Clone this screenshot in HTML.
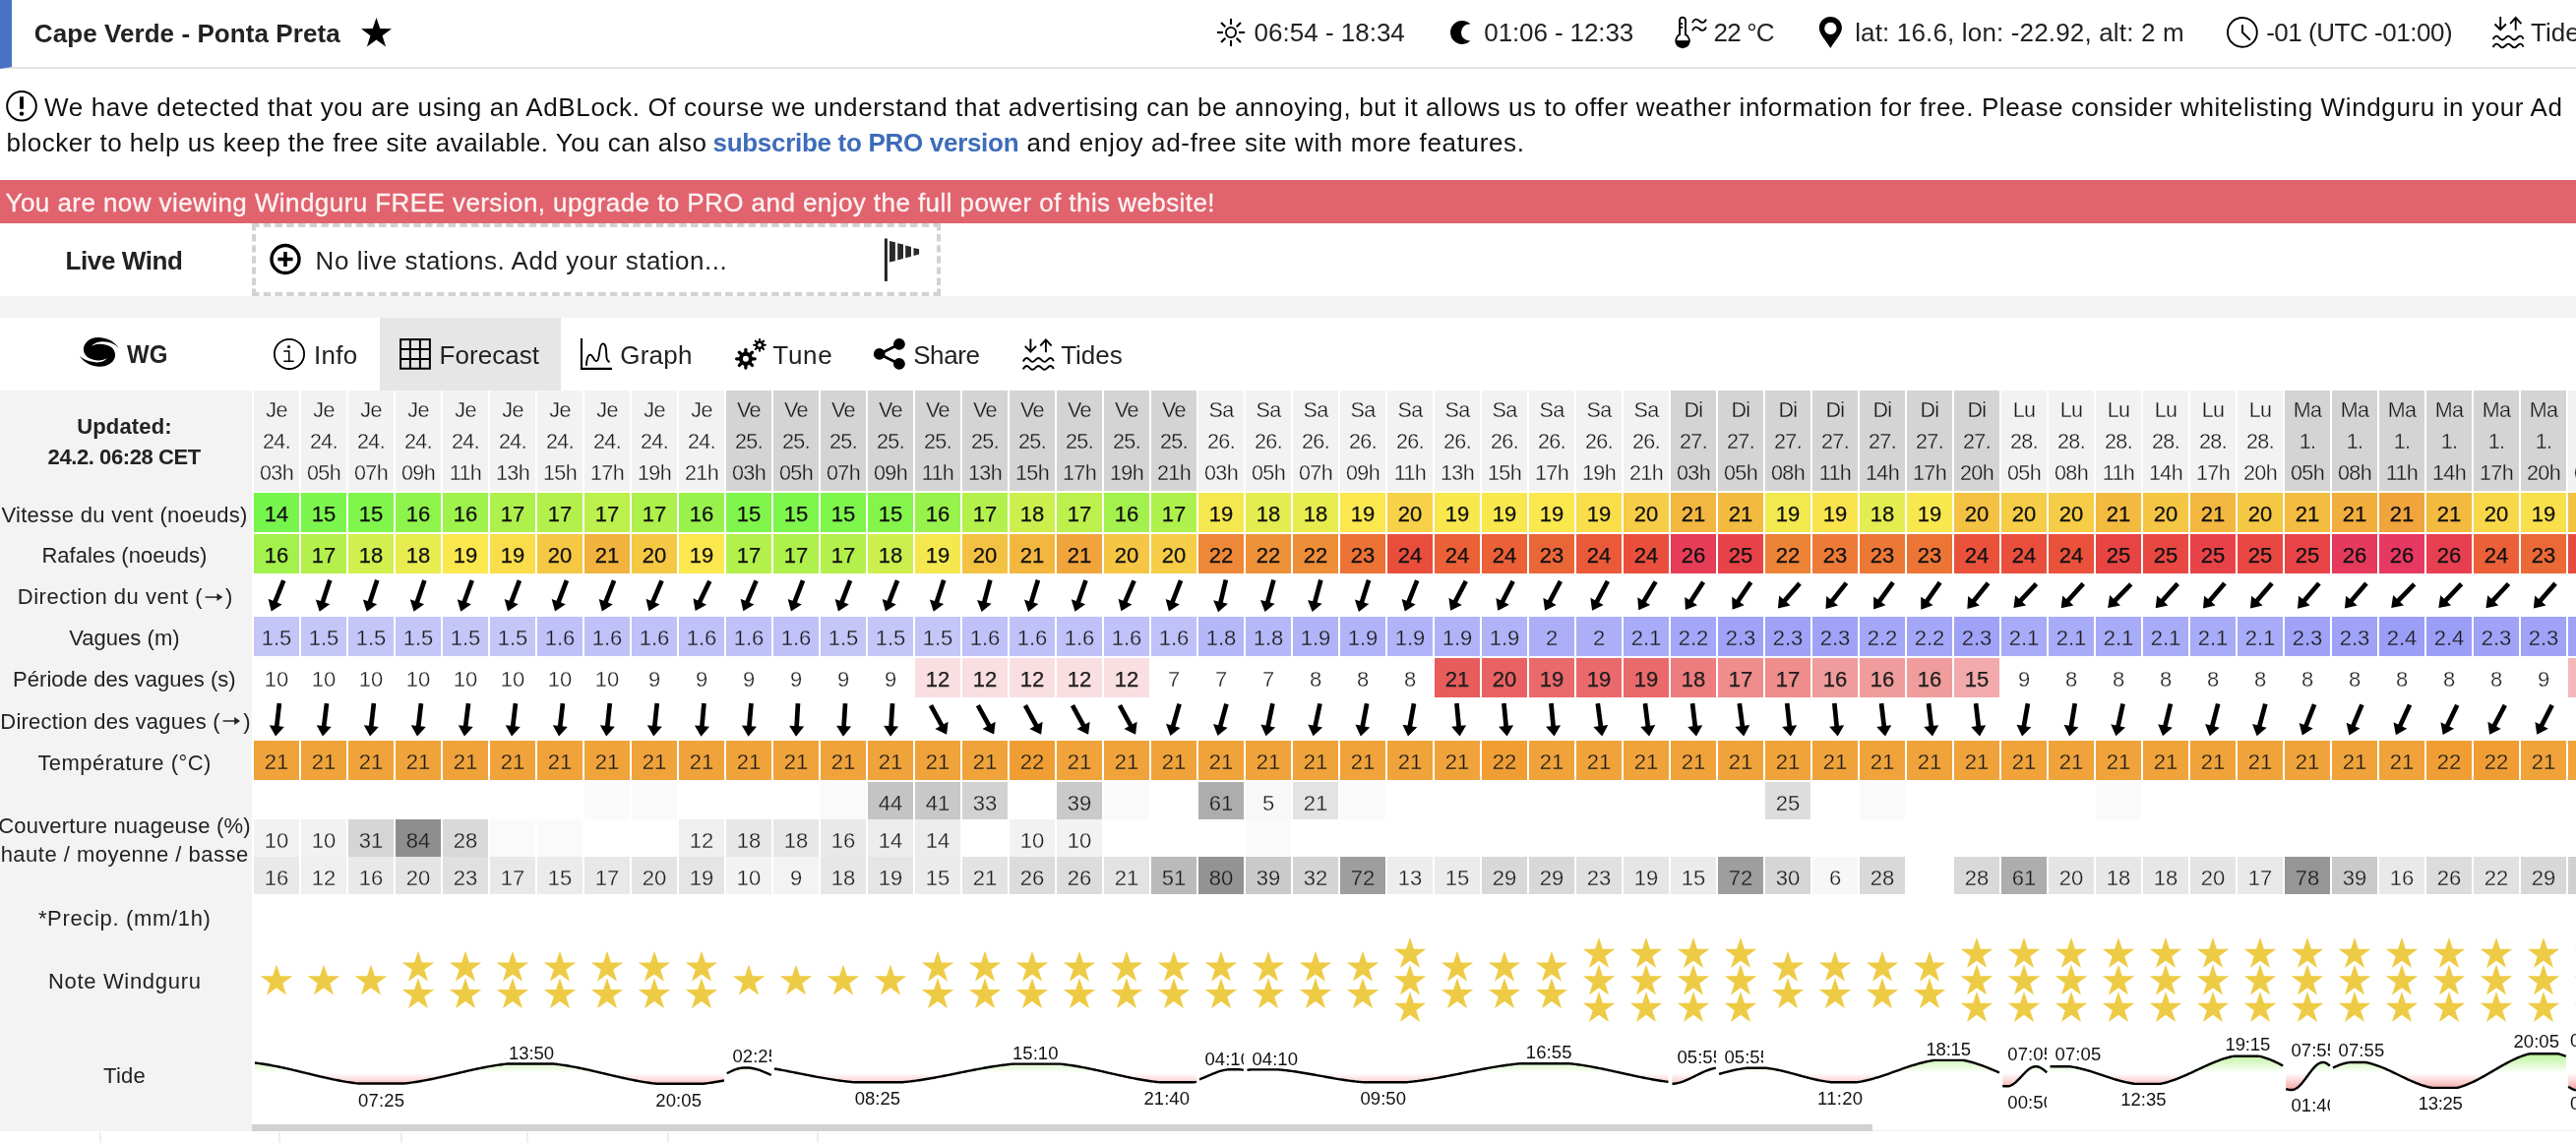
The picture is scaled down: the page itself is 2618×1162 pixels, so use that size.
<!DOCTYPE html><html><head><meta charset="utf-8"><title>Windguru - Cape Verde - Ponta Preta</title><style>
*{box-sizing:border-box;margin:0;padding:0}
html,body{width:2618px;height:1162px;overflow:hidden;background:#fff}
body{position:relative;font-family:"Liberation Sans",sans-serif;color:#222}
#w{position:absolute;left:0;top:0;width:2618px;height:1162px;overflow:hidden;will-change:transform}
.t{position:absolute;white-space:nowrap}
.b{position:absolute}
svg{position:absolute;overflow:visible}
.c{position:absolute;width:46px;text-align:center;white-space:nowrap}
</style></head><body><div id="w">
<div class="b" style="left:0px;top:0px;width:12px;height:68px;background:#4a72c4;"></div>
<div class="b" style="left:0px;top:68px;width:2618px;height:2px;background:#e3e3e3;"></div>
<svg style="left:0;top:66px" width="14" height="6"><polygon points="0,0 12,0 12,2 0,4" fill="#4a72c4"/></svg>
<div class="t" style="left:34.80px;top:21px;font-size:26px;line-height:26px;color:#222;font-weight:bold;letter-spacing:0.070px;">Cape Verde - Ponta Preta</div>
<svg style="left:0;top:0" width="2618" height="70"><polygon points="382.50,17.90 386.26,29.02 398.00,29.16 388.59,36.18 392.08,47.39 382.50,40.60 372.92,47.39 376.41,36.18 367.00,29.16 378.74,29.02" fill="#000"/></svg>
<svg style="left:0;top:0" width="2618" height="70"><circle cx="1251" cy="33" r="5.1" fill="none" stroke="#000" stroke-width="1.8"/><line x1="1259.00" y1="33.00" x2="1265.10" y2="33.00" stroke="#000" stroke-width="2.1"/><line x1="1256.66" y1="38.66" x2="1260.97" y2="42.97" stroke="#000" stroke-width="2.1"/><line x1="1251.00" y1="41.00" x2="1251.00" y2="47.10" stroke="#000" stroke-width="2.1"/><line x1="1245.34" y1="38.66" x2="1241.03" y2="42.97" stroke="#000" stroke-width="2.1"/><line x1="1243.00" y1="33.00" x2="1236.90" y2="33.00" stroke="#000" stroke-width="2.1"/><line x1="1245.34" y1="27.34" x2="1241.03" y2="23.03" stroke="#000" stroke-width="2.1"/><line x1="1251.00" y1="25.00" x2="1251.00" y2="18.90" stroke="#000" stroke-width="2.1"/><line x1="1256.66" y1="27.34" x2="1260.97" y2="23.03" stroke="#000" stroke-width="2.1"/><path d="M1494.6 24.5 A12 12 0 1 0 1494.6 41.3 A8.48 8.48 0 1 1 1494.6 24.5 Z" fill="#000"/><path d="M1707.1 35.2 V20.6 a2.95 2.95 0 0 1 5.9 0 V35.2 A6.85 6.85 0 1 1 1707.1 35.2 Z" fill="none" stroke="#000" stroke-width="1.9"/><path d="M1703.3 41.7 H1716.8 A6.85 6.85 0 0 1 1703.3 41.7 Z" fill="#000" stroke="#000" stroke-width="1"/><path d="M1708 24.1 H1710.2 M1708 27.9 H1710.2" stroke="#000" stroke-width="1.9" fill="none"/><path d="M1720.4 22.400000000000002 C1722 18.7,1724.6 19.0,1727 21.3 S1732 23.5,1733.7 20.3" stroke="#000" stroke-width="1.9" fill="none" stroke-linecap="round"/><path d="M1720.4 30.400000000000002 C1722 26.7,1724.6 27.0,1727 29.3 S1732 31.5,1733.7 28.3" stroke="#000" stroke-width="1.9" fill="none" stroke-linecap="round"/><path fill-rule="evenodd" d="M1860.35 49 C1856 41.5,1848.8 34.5,1848.8 28.5 A11.55 11.55 0 0 1 1871.9 28.5 C1871.9 34.5,1864.7 41.5,1860.35 49 Z M1860.35 22.8 a6.1 6.1 0 1 0 0.01 0 Z" fill="#000"/><circle cx="2278.9" cy="32.9" r="14.9" fill="none" stroke="#000" stroke-width="1.9"/><path d="M2279 25.3 V32.9 L2286.9 40.6" fill="none" stroke="#000" stroke-width="2" stroke-linecap="butt"/><g transform="translate(0.00 0.00)" fill="none" stroke="#000" stroke-width="1.9"><path d="M2541.2 17.1 V29.6 M2535.5 24.5 L2541.2 30.15 L2546.9 24.5"/><path d="M2556.7 18.6 V30.8 M2551.1 24.1 L2556.7 17.9 L2562.4 24.1"/><path d="M2533.6 40.05 C2535 37.349999999999994,2536.3 36.65,2537.4 36.65 C2539.6 36.65,2540.8 40.449999999999996,2543.1 40.449999999999996 S2546.9 36.65,2549.2 36.65 S2553 40.449999999999996,2555.3 40.449999999999996 S2559 36.65,2561.2 36.65 C2562.4 36.65,2563.6 37.449999999999996,2564.6 39.65"/><path d="M2533.6 48.0 C2535 45.3,2536.3 44.6,2537.4 44.6 C2539.6 44.6,2540.8 48.4,2543.1 48.4 S2546.9 44.6,2549.2 44.6 S2553 48.4,2555.3 48.4 S2559 44.6,2561.2 44.6 C2562.4 44.6,2563.6 45.4,2564.6 47.6"/></g></svg>
<div class="t" style="left:1274.60px;top:20px;font-size:26px;line-height:26px;color:#222;">06:54 - 18:34</div>
<div class="t" style="left:1508.30px;top:20px;font-size:26px;line-height:26px;color:#222;letter-spacing:-0.106px;">01:06 - 12:33</div>
<div class="t" style="left:1741.60px;top:20px;font-size:26px;line-height:26px;color:#222;letter-spacing:-0.815px;">22 °C</div>
<div class="t" style="left:1885.20px;top:20px;font-size:26px;line-height:26px;color:#222;letter-spacing:0.156px;">lat: 16.6, lon: -22.92, alt: 2 m</div>
<div class="t" style="left:2303.20px;top:20px;font-size:26px;line-height:26px;color:#222;letter-spacing:-0.471px;">-01 (UTC -01:00)</div>
<div class="t" style="left:2572.00px;top:20px;font-size:26px;line-height:26px;color:#222;">Tides</div>
<svg style="left:0;top:80px" width="60" height="60"><circle cx="22" cy="27.8" r="14.8" fill="none" stroke="#000" stroke-width="2"/><path d="M22 18.3 V30.8" stroke="#000" stroke-width="3.8" /><circle cx="22" cy="35.6" r="2.2" fill="#000"/></svg>
<div class="t" style="left:45.00px;top:96px;font-size:26px;line-height:26px;color:#111;letter-spacing:0.624px;">We have detected that you are using an AdBLock. Of course we understand that advertising can be annoying, but it allows us to offer weather information for free. Please consider whitelisting Windguru in your Ad</div>
<div class="t" style="left:6.50px;top:132px;font-size:26px;line-height:26px;color:#111;letter-spacing:0.488px;">blocker to help us keep the free site available. You can also</div>
<div class="t" style="left:724.50px;top:132px;font-size:26px;line-height:26px;color:#3d6cb9;font-weight:bold;letter-spacing:-0.298px;">subscribe to PRO version</div>
<div class="t" style="left:1043.50px;top:132px;font-size:26px;line-height:26px;color:#111;letter-spacing:0.661px;">and enjoy ad-free site with more features.</div>
<div class="b" style="left:0px;top:183px;width:2618px;height:44px;background:#e0636e;"></div>
<div class="t" style="left:5.60px;top:193px;font-size:26px;line-height:26px;color:#fdf3f3;letter-spacing:0.428px;-webkit-text-stroke:0.3px #fdf3f3;">You are now viewing Windguru FREE version, upgrade to PRO and enjoy the full power of this website!</div>
<div class="t" style="left:66.50px;top:252px;font-size:26px;line-height:26px;color:#222;font-weight:bold;letter-spacing:-0.386px;">Live Wind</div>
<svg style="left:0;top:227px" width="1000" height="74"><g stroke="#d2d2d2" stroke-width="4" fill="none"><path d="M256 2 H956 M256 72 H956" stroke-dasharray="7.5 4.237"/><path d="M258 0 V74 M954 0 V74" stroke-dasharray="7.4 3.7"/></g><circle cx="290" cy="36.5" r="14" fill="none" stroke="#000" stroke-width="3.4"/><path d="M282.4 36.5 H297.6 M290 28.9 V44.1" stroke="#000" stroke-width="3.6"/><rect x="898.9" y="15.5" width="3" height="43.4" fill="#222"/><polygon points="904,17.9 909.9,19.3 909.9,38.2 904,39.6" fill="#2a2a2a"/><polygon points="912.2,20.2 918,21.5 918,35.8 912.2,37.5" fill="#2a2a2a"/><polygon points="920.2,22.5 926,23.9 926,33.7 920.2,35.3" fill="#2a2a2a"/><polygon points="928.5,24.9 934.1,26.2 934.1,31.6 928.5,33" fill="#2a2a2a"/></svg>
<div class="t" style="left:320.60px;top:252px;font-size:26px;line-height:26px;color:#222;letter-spacing:0.538px;">No live stations. Add your station...</div>
<div class="b" style="left:0px;top:301px;width:2618px;height:22px;background:#f3f3f3;"></div>
<div class="b" style="left:386px;top:323px;width:184px;height:74px;background:#e6e6e6;"></div>
<svg style="left:0;top:0" width="1200" height="400"><g transform="translate(70 335) scale(0.046583)"><path d="M235 580 C300 690,450 800,650 810 C850 815,1020 700,1010 540 C1005 470,960 400,900 370 C800 310,620 290,490 360 C560 280,700 240,850 272 C960 295,1040 350,1090 400 C1010 290,880 180,650 170 C450 165,310 300,320 450 C325 520,370 580,440 625 C560 690,740 690,835 625 C780 710,650 740,480 700 C370 670,290 630,235 580 Z" fill="#000"/></g><circle cx="294" cy="359.9" r="15.1" fill="none" stroke="#000" stroke-width="1.8"/><circle cx="293.5" cy="352.5" r="1.6" fill="#000"/><path d="M288.3 357 H293.8 V367.3 M288.3 367.3 H298.7" fill="none" stroke="#000" stroke-width="1.5"/><rect x="407.1" y="345.1" width="29.8" height="29.6" fill="none" stroke="#000" stroke-width="2"/><path d="M416.9 345 V375 M426.9 345 V375 M407 354.9 H437 M407 364.9 H437" stroke="#000" stroke-width="2" fill="none"/><path d="M591 343.9 V374.9 H622" fill="none" stroke="#000" stroke-width="2.1"/><path d="M595.9 371.8 C596.2 366,597 360.8,599.8 360.6 C602.8 360.6,603.2 367.2,606.3 367.1 C610.2 366.8,608 349.6,612.6 349.4 C617.6 349.4,615.6 363,616.8 365 C617.4 366.6,618.4 367.6,619.6 368" fill="none" stroke="#000" stroke-width="1.9" stroke-linecap="butt"/><circle cx="757.9" cy="364.8" r="5.00" fill="none" stroke="#000" stroke-width="4.00"/><line x1="757.90" y1="358.30" x2="757.90" y2="355.50" stroke="#000" stroke-width="3.3" stroke-linecap="round"/><line x1="762.50" y1="360.20" x2="764.48" y2="358.22" stroke="#000" stroke-width="3.3" stroke-linecap="round"/><line x1="764.40" y1="364.80" x2="767.20" y2="364.80" stroke="#000" stroke-width="3.3" stroke-linecap="round"/><line x1="762.50" y1="369.40" x2="764.48" y2="371.38" stroke="#000" stroke-width="3.3" stroke-linecap="round"/><line x1="757.90" y1="371.30" x2="757.90" y2="374.10" stroke="#000" stroke-width="3.3" stroke-linecap="round"/><line x1="753.30" y1="369.40" x2="751.32" y2="371.38" stroke="#000" stroke-width="3.3" stroke-linecap="round"/><line x1="751.40" y1="364.80" x2="748.60" y2="364.80" stroke="#000" stroke-width="3.3" stroke-linecap="round"/><line x1="753.30" y1="360.20" x2="751.32" y2="358.22" stroke="#000" stroke-width="3.3" stroke-linecap="round"/><circle cx="772.0" cy="350.8" r="3.10" fill="none" stroke="#000" stroke-width="2.40"/><line x1="772.00" y1="347.00" x2="772.00" y2="344.95" stroke="#000" stroke-width="2.1" stroke-linecap="round"/><line x1="774.69" y1="348.11" x2="776.14" y2="346.66" stroke="#000" stroke-width="2.1" stroke-linecap="round"/><line x1="775.80" y1="350.80" x2="777.85" y2="350.80" stroke="#000" stroke-width="2.1" stroke-linecap="round"/><line x1="774.69" y1="353.49" x2="776.14" y2="354.94" stroke="#000" stroke-width="2.1" stroke-linecap="round"/><line x1="772.00" y1="354.60" x2="772.00" y2="356.65" stroke="#000" stroke-width="2.1" stroke-linecap="round"/><line x1="769.31" y1="353.49" x2="767.86" y2="354.94" stroke="#000" stroke-width="2.1" stroke-linecap="round"/><line x1="768.20" y1="350.80" x2="766.15" y2="350.80" stroke="#000" stroke-width="2.1" stroke-linecap="round"/><line x1="769.31" y1="348.11" x2="767.86" y2="346.66" stroke="#000" stroke-width="2.1" stroke-linecap="round"/><circle cx="893.7" cy="359.9" r="5.85" fill="#000"/><circle cx="913.9" cy="349.9" r="5.9" fill="#000"/><circle cx="913.9" cy="369.9" r="5.9" fill="#000"/><path d="M913.9 349.9 L893.7 359.9 L913.9 369.9" stroke="#000" stroke-width="2.8" fill="none"/><g transform="translate(-1493.80 327.40)" fill="none" stroke="#000" stroke-width="1.9"><path d="M2541.2 17.1 V29.6 M2535.5 24.5 L2541.2 30.15 L2546.9 24.5"/><path d="M2556.7 18.6 V30.8 M2551.1 24.1 L2556.7 17.9 L2562.4 24.1"/><path d="M2533.6 40.05 C2535 37.349999999999994,2536.3 36.65,2537.4 36.65 C2539.6 36.65,2540.8 40.449999999999996,2543.1 40.449999999999996 S2546.9 36.65,2549.2 36.65 S2553 40.449999999999996,2555.3 40.449999999999996 S2559 36.65,2561.2 36.65 C2562.4 36.65,2563.6 37.449999999999996,2564.6 39.65"/><path d="M2533.6 48.0 C2535 45.3,2536.3 44.6,2537.4 44.6 C2539.6 44.6,2540.8 48.4,2543.1 48.4 S2546.9 44.6,2549.2 44.6 S2553 48.4,2555.3 48.4 S2559 44.6,2561.2 44.6 C2562.4 44.6,2563.6 45.4,2564.6 47.6"/></g></svg>
<div class="t" style="left:128.50px;top:347px;font-size:26px;line-height:26px;color:#222;font-weight:bold;transform:scaleX(0.922);transform-origin:0 0;">WG</div>
<div class="t" style="left:318.90px;top:348px;font-size:26px;line-height:26px;color:#222;letter-spacing:0.327px;">Info</div>
<div class="t" style="left:446.60px;top:348px;font-size:26px;line-height:26px;color:#222;letter-spacing:0.037px;">Forecast</div>
<div class="t" style="left:630.30px;top:348px;font-size:26px;line-height:26px;color:#222;letter-spacing:0.205px;">Graph</div>
<div class="t" style="left:785.30px;top:348px;font-size:26px;line-height:26px;color:#222;letter-spacing:0.720px;">Tune</div>
<div class="t" style="left:928.20px;top:348px;font-size:26px;line-height:26px;color:#222;letter-spacing:-0.405px;">Share</div>
<div class="t" style="left:1078.20px;top:348px;font-size:26px;line-height:26px;color:#222;letter-spacing:-0.040px;">Tides</div>
<div class="b" style="left:0px;top:397px;width:256px;height:753px;background:#f3f3f3;"></div>
<div class="t" style="left:78.20px;top:423px;font-size:22px;line-height:22px;color:#222;font-weight:bold;letter-spacing:0.147px;">Updated:</div>
<div class="t" style="left:48.60px;top:454px;font-size:22px;line-height:22px;color:#222;font-weight:bold;letter-spacing:-0.420px;">24.2. 06:28 CET</div>
<div class="t" style="left:1.40px;top:513px;font-size:22px;line-height:22px;color:#222;letter-spacing:0.305px;">Vitesse du vent (noeuds)</div>
<div class="t" style="left:42.40px;top:554px;font-size:22px;line-height:22px;color:#222;letter-spacing:0.031px;">Rafales (noeuds)</div>
<div class="t" style="left:17.80px;top:596px;font-size:22px;line-height:22px;color:#222;letter-spacing:0.515px;">Direction du vent (</div>
<div class="t" style="left:229.00px;top:596px;font-size:22px;line-height:22px;color:#222;">)</div>
<div class="t" style="left:70.20px;top:638px;font-size:22px;line-height:22px;color:#222;letter-spacing:0.034px;">Vagues (m)</div>
<div class="t" style="left:13.10px;top:680px;font-size:22px;line-height:22px;color:#222;letter-spacing:0.016px;">Période des vagues (s)</div>
<div class="t" style="left:0.30px;top:723px;font-size:22px;line-height:22px;color:#222;letter-spacing:0.205px;">Direction des vagues (</div>
<div class="t" style="left:247.30px;top:723px;font-size:22px;line-height:22px;color:#222;">)</div>
<svg style="left:0;top:0" width="260" height="760"><path d="M208.6 607.1 H223.3" stroke="#222" stroke-width="1.5" fill="none"/><polygon points="226.3,607.1 220.5,603.2 220.5,611.0" fill="#222"/><path d="M226.6 733 H241" stroke="#222" stroke-width="1.5" fill="none"/><polygon points="244,733 238.2,729.1 238.2,736.9" fill="#222"/></svg>
<div class="t" style="left:38.40px;top:765px;font-size:22px;line-height:22px;color:#222;letter-spacing:0.469px;">Température (°C)</div>
<div class="t" style="left:-1.85px;top:829px;font-size:22px;line-height:22px;color:#222;letter-spacing:0.209px;">Couverture nuageuse (%)</div>
<div class="t" style="left:0.65px;top:858px;font-size:22px;line-height:22px;color:#222;letter-spacing:0.482px;">haute / moyenne / basse</div>
<div class="t" style="left:38.90px;top:923px;font-size:22px;line-height:22px;color:#222;letter-spacing:0.667px;">*Precip. (mm/1h)</div>
<div class="t" style="left:48.90px;top:987px;font-size:22px;line-height:22px;color:#222;letter-spacing:0.688px;">Note Windguru</div>
<div class="t" style="left:105.05px;top:1083px;font-size:22px;line-height:22px;color:#222;letter-spacing:0.227px;">Tide</div>
<div class="b" style="left:258px;top:397px;width:46px;height:102px;background:#f2f2f2"></div><div class="c" style="left:258px;top:407px;font-size:21.5px;line-height:21.5px;letter-spacing:-0.6px;color:#1a1a1a;-webkit-text-stroke:0.3px #f2f2f2">Je</div><div class="c" style="left:258px;top:439px;font-size:21.5px;line-height:21.5px;letter-spacing:-0.6px;color:#1a1a1a;-webkit-text-stroke:0.3px #f2f2f2">24.</div><div class="c" style="left:258px;top:471px;font-size:21.5px;line-height:21.5px;letter-spacing:-0.6px;color:#1a1a1a;-webkit-text-stroke:0.3px #f2f2f2">03h</div><div class="b" style="left:306px;top:397px;width:46px;height:102px;background:#f2f2f2"></div><div class="c" style="left:306px;top:407px;font-size:21.5px;line-height:21.5px;letter-spacing:-0.6px;color:#1a1a1a;-webkit-text-stroke:0.3px #f2f2f2">Je</div><div class="c" style="left:306px;top:439px;font-size:21.5px;line-height:21.5px;letter-spacing:-0.6px;color:#1a1a1a;-webkit-text-stroke:0.3px #f2f2f2">24.</div><div class="c" style="left:306px;top:471px;font-size:21.5px;line-height:21.5px;letter-spacing:-0.6px;color:#1a1a1a;-webkit-text-stroke:0.3px #f2f2f2">05h</div><div class="b" style="left:354px;top:397px;width:46px;height:102px;background:#f2f2f2"></div><div class="c" style="left:354px;top:407px;font-size:21.5px;line-height:21.5px;letter-spacing:-0.6px;color:#1a1a1a;-webkit-text-stroke:0.3px #f2f2f2">Je</div><div class="c" style="left:354px;top:439px;font-size:21.5px;line-height:21.5px;letter-spacing:-0.6px;color:#1a1a1a;-webkit-text-stroke:0.3px #f2f2f2">24.</div><div class="c" style="left:354px;top:471px;font-size:21.5px;line-height:21.5px;letter-spacing:-0.6px;color:#1a1a1a;-webkit-text-stroke:0.3px #f2f2f2">07h</div><div class="b" style="left:402px;top:397px;width:46px;height:102px;background:#f2f2f2"></div><div class="c" style="left:402px;top:407px;font-size:21.5px;line-height:21.5px;letter-spacing:-0.6px;color:#1a1a1a;-webkit-text-stroke:0.3px #f2f2f2">Je</div><div class="c" style="left:402px;top:439px;font-size:21.5px;line-height:21.5px;letter-spacing:-0.6px;color:#1a1a1a;-webkit-text-stroke:0.3px #f2f2f2">24.</div><div class="c" style="left:402px;top:471px;font-size:21.5px;line-height:21.5px;letter-spacing:-0.6px;color:#1a1a1a;-webkit-text-stroke:0.3px #f2f2f2">09h</div><div class="b" style="left:450px;top:397px;width:46px;height:102px;background:#f2f2f2"></div><div class="c" style="left:450px;top:407px;font-size:21.5px;line-height:21.5px;letter-spacing:-0.6px;color:#1a1a1a;-webkit-text-stroke:0.3px #f2f2f2">Je</div><div class="c" style="left:450px;top:439px;font-size:21.5px;line-height:21.5px;letter-spacing:-0.6px;color:#1a1a1a;-webkit-text-stroke:0.3px #f2f2f2">24.</div><div class="c" style="left:450px;top:471px;font-size:21.5px;line-height:21.5px;letter-spacing:-0.6px;color:#1a1a1a;-webkit-text-stroke:0.3px #f2f2f2">11h</div><div class="b" style="left:498px;top:397px;width:46px;height:102px;background:#f2f2f2"></div><div class="c" style="left:498px;top:407px;font-size:21.5px;line-height:21.5px;letter-spacing:-0.6px;color:#1a1a1a;-webkit-text-stroke:0.3px #f2f2f2">Je</div><div class="c" style="left:498px;top:439px;font-size:21.5px;line-height:21.5px;letter-spacing:-0.6px;color:#1a1a1a;-webkit-text-stroke:0.3px #f2f2f2">24.</div><div class="c" style="left:498px;top:471px;font-size:21.5px;line-height:21.5px;letter-spacing:-0.6px;color:#1a1a1a;-webkit-text-stroke:0.3px #f2f2f2">13h</div><div class="b" style="left:546px;top:397px;width:46px;height:102px;background:#f2f2f2"></div><div class="c" style="left:546px;top:407px;font-size:21.5px;line-height:21.5px;letter-spacing:-0.6px;color:#1a1a1a;-webkit-text-stroke:0.3px #f2f2f2">Je</div><div class="c" style="left:546px;top:439px;font-size:21.5px;line-height:21.5px;letter-spacing:-0.6px;color:#1a1a1a;-webkit-text-stroke:0.3px #f2f2f2">24.</div><div class="c" style="left:546px;top:471px;font-size:21.5px;line-height:21.5px;letter-spacing:-0.6px;color:#1a1a1a;-webkit-text-stroke:0.3px #f2f2f2">15h</div><div class="b" style="left:594px;top:397px;width:46px;height:102px;background:#f2f2f2"></div><div class="c" style="left:594px;top:407px;font-size:21.5px;line-height:21.5px;letter-spacing:-0.6px;color:#1a1a1a;-webkit-text-stroke:0.3px #f2f2f2">Je</div><div class="c" style="left:594px;top:439px;font-size:21.5px;line-height:21.5px;letter-spacing:-0.6px;color:#1a1a1a;-webkit-text-stroke:0.3px #f2f2f2">24.</div><div class="c" style="left:594px;top:471px;font-size:21.5px;line-height:21.5px;letter-spacing:-0.6px;color:#1a1a1a;-webkit-text-stroke:0.3px #f2f2f2">17h</div><div class="b" style="left:642px;top:397px;width:46px;height:102px;background:#f2f2f2"></div><div class="c" style="left:642px;top:407px;font-size:21.5px;line-height:21.5px;letter-spacing:-0.6px;color:#1a1a1a;-webkit-text-stroke:0.3px #f2f2f2">Je</div><div class="c" style="left:642px;top:439px;font-size:21.5px;line-height:21.5px;letter-spacing:-0.6px;color:#1a1a1a;-webkit-text-stroke:0.3px #f2f2f2">24.</div><div class="c" style="left:642px;top:471px;font-size:21.5px;line-height:21.5px;letter-spacing:-0.6px;color:#1a1a1a;-webkit-text-stroke:0.3px #f2f2f2">19h</div><div class="b" style="left:690px;top:397px;width:46px;height:102px;background:#f2f2f2"></div><div class="c" style="left:690px;top:407px;font-size:21.5px;line-height:21.5px;letter-spacing:-0.6px;color:#1a1a1a;-webkit-text-stroke:0.3px #f2f2f2">Je</div><div class="c" style="left:690px;top:439px;font-size:21.5px;line-height:21.5px;letter-spacing:-0.6px;color:#1a1a1a;-webkit-text-stroke:0.3px #f2f2f2">24.</div><div class="c" style="left:690px;top:471px;font-size:21.5px;line-height:21.5px;letter-spacing:-0.6px;color:#1a1a1a;-webkit-text-stroke:0.3px #f2f2f2">21h</div><div class="b" style="left:738px;top:397px;width:46px;height:102px;background:#d4d4d4"></div><div class="c" style="left:738px;top:407px;font-size:21.5px;line-height:21.5px;letter-spacing:-0.6px;color:#1a1a1a;-webkit-text-stroke:0.3px #d4d4d4">Ve</div><div class="c" style="left:738px;top:439px;font-size:21.5px;line-height:21.5px;letter-spacing:-0.6px;color:#1a1a1a;-webkit-text-stroke:0.3px #d4d4d4">25.</div><div class="c" style="left:738px;top:471px;font-size:21.5px;line-height:21.5px;letter-spacing:-0.6px;color:#1a1a1a;-webkit-text-stroke:0.3px #d4d4d4">03h</div><div class="b" style="left:786px;top:397px;width:46px;height:102px;background:#d4d4d4"></div><div class="c" style="left:786px;top:407px;font-size:21.5px;line-height:21.5px;letter-spacing:-0.6px;color:#1a1a1a;-webkit-text-stroke:0.3px #d4d4d4">Ve</div><div class="c" style="left:786px;top:439px;font-size:21.5px;line-height:21.5px;letter-spacing:-0.6px;color:#1a1a1a;-webkit-text-stroke:0.3px #d4d4d4">25.</div><div class="c" style="left:786px;top:471px;font-size:21.5px;line-height:21.5px;letter-spacing:-0.6px;color:#1a1a1a;-webkit-text-stroke:0.3px #d4d4d4">05h</div><div class="b" style="left:834px;top:397px;width:46px;height:102px;background:#d4d4d4"></div><div class="c" style="left:834px;top:407px;font-size:21.5px;line-height:21.5px;letter-spacing:-0.6px;color:#1a1a1a;-webkit-text-stroke:0.3px #d4d4d4">Ve</div><div class="c" style="left:834px;top:439px;font-size:21.5px;line-height:21.5px;letter-spacing:-0.6px;color:#1a1a1a;-webkit-text-stroke:0.3px #d4d4d4">25.</div><div class="c" style="left:834px;top:471px;font-size:21.5px;line-height:21.5px;letter-spacing:-0.6px;color:#1a1a1a;-webkit-text-stroke:0.3px #d4d4d4">07h</div><div class="b" style="left:882px;top:397px;width:46px;height:102px;background:#d4d4d4"></div><div class="c" style="left:882px;top:407px;font-size:21.5px;line-height:21.5px;letter-spacing:-0.6px;color:#1a1a1a;-webkit-text-stroke:0.3px #d4d4d4">Ve</div><div class="c" style="left:882px;top:439px;font-size:21.5px;line-height:21.5px;letter-spacing:-0.6px;color:#1a1a1a;-webkit-text-stroke:0.3px #d4d4d4">25.</div><div class="c" style="left:882px;top:471px;font-size:21.5px;line-height:21.5px;letter-spacing:-0.6px;color:#1a1a1a;-webkit-text-stroke:0.3px #d4d4d4">09h</div><div class="b" style="left:930px;top:397px;width:46px;height:102px;background:#d4d4d4"></div><div class="c" style="left:930px;top:407px;font-size:21.5px;line-height:21.5px;letter-spacing:-0.6px;color:#1a1a1a;-webkit-text-stroke:0.3px #d4d4d4">Ve</div><div class="c" style="left:930px;top:439px;font-size:21.5px;line-height:21.5px;letter-spacing:-0.6px;color:#1a1a1a;-webkit-text-stroke:0.3px #d4d4d4">25.</div><div class="c" style="left:930px;top:471px;font-size:21.5px;line-height:21.5px;letter-spacing:-0.6px;color:#1a1a1a;-webkit-text-stroke:0.3px #d4d4d4">11h</div><div class="b" style="left:978px;top:397px;width:46px;height:102px;background:#d4d4d4"></div><div class="c" style="left:978px;top:407px;font-size:21.5px;line-height:21.5px;letter-spacing:-0.6px;color:#1a1a1a;-webkit-text-stroke:0.3px #d4d4d4">Ve</div><div class="c" style="left:978px;top:439px;font-size:21.5px;line-height:21.5px;letter-spacing:-0.6px;color:#1a1a1a;-webkit-text-stroke:0.3px #d4d4d4">25.</div><div class="c" style="left:978px;top:471px;font-size:21.5px;line-height:21.5px;letter-spacing:-0.6px;color:#1a1a1a;-webkit-text-stroke:0.3px #d4d4d4">13h</div><div class="b" style="left:1026px;top:397px;width:46px;height:102px;background:#d4d4d4"></div><div class="c" style="left:1026px;top:407px;font-size:21.5px;line-height:21.5px;letter-spacing:-0.6px;color:#1a1a1a;-webkit-text-stroke:0.3px #d4d4d4">Ve</div><div class="c" style="left:1026px;top:439px;font-size:21.5px;line-height:21.5px;letter-spacing:-0.6px;color:#1a1a1a;-webkit-text-stroke:0.3px #d4d4d4">25.</div><div class="c" style="left:1026px;top:471px;font-size:21.5px;line-height:21.5px;letter-spacing:-0.6px;color:#1a1a1a;-webkit-text-stroke:0.3px #d4d4d4">15h</div><div class="b" style="left:1074px;top:397px;width:46px;height:102px;background:#d4d4d4"></div><div class="c" style="left:1074px;top:407px;font-size:21.5px;line-height:21.5px;letter-spacing:-0.6px;color:#1a1a1a;-webkit-text-stroke:0.3px #d4d4d4">Ve</div><div class="c" style="left:1074px;top:439px;font-size:21.5px;line-height:21.5px;letter-spacing:-0.6px;color:#1a1a1a;-webkit-text-stroke:0.3px #d4d4d4">25.</div><div class="c" style="left:1074px;top:471px;font-size:21.5px;line-height:21.5px;letter-spacing:-0.6px;color:#1a1a1a;-webkit-text-stroke:0.3px #d4d4d4">17h</div><div class="b" style="left:1122px;top:397px;width:46px;height:102px;background:#d4d4d4"></div><div class="c" style="left:1122px;top:407px;font-size:21.5px;line-height:21.5px;letter-spacing:-0.6px;color:#1a1a1a;-webkit-text-stroke:0.3px #d4d4d4">Ve</div><div class="c" style="left:1122px;top:439px;font-size:21.5px;line-height:21.5px;letter-spacing:-0.6px;color:#1a1a1a;-webkit-text-stroke:0.3px #d4d4d4">25.</div><div class="c" style="left:1122px;top:471px;font-size:21.5px;line-height:21.5px;letter-spacing:-0.6px;color:#1a1a1a;-webkit-text-stroke:0.3px #d4d4d4">19h</div><div class="b" style="left:1170px;top:397px;width:46px;height:102px;background:#d4d4d4"></div><div class="c" style="left:1170px;top:407px;font-size:21.5px;line-height:21.5px;letter-spacing:-0.6px;color:#1a1a1a;-webkit-text-stroke:0.3px #d4d4d4">Ve</div><div class="c" style="left:1170px;top:439px;font-size:21.5px;line-height:21.5px;letter-spacing:-0.6px;color:#1a1a1a;-webkit-text-stroke:0.3px #d4d4d4">25.</div><div class="c" style="left:1170px;top:471px;font-size:21.5px;line-height:21.5px;letter-spacing:-0.6px;color:#1a1a1a;-webkit-text-stroke:0.3px #d4d4d4">21h</div><div class="b" style="left:1218px;top:397px;width:46px;height:102px;background:#f2f2f2"></div><div class="c" style="left:1218px;top:407px;font-size:21.5px;line-height:21.5px;letter-spacing:-0.6px;color:#1a1a1a;-webkit-text-stroke:0.3px #f2f2f2">Sa</div><div class="c" style="left:1218px;top:439px;font-size:21.5px;line-height:21.5px;letter-spacing:-0.6px;color:#1a1a1a;-webkit-text-stroke:0.3px #f2f2f2">26.</div><div class="c" style="left:1218px;top:471px;font-size:21.5px;line-height:21.5px;letter-spacing:-0.6px;color:#1a1a1a;-webkit-text-stroke:0.3px #f2f2f2">03h</div><div class="b" style="left:1266px;top:397px;width:46px;height:102px;background:#f2f2f2"></div><div class="c" style="left:1266px;top:407px;font-size:21.5px;line-height:21.5px;letter-spacing:-0.6px;color:#1a1a1a;-webkit-text-stroke:0.3px #f2f2f2">Sa</div><div class="c" style="left:1266px;top:439px;font-size:21.5px;line-height:21.5px;letter-spacing:-0.6px;color:#1a1a1a;-webkit-text-stroke:0.3px #f2f2f2">26.</div><div class="c" style="left:1266px;top:471px;font-size:21.5px;line-height:21.5px;letter-spacing:-0.6px;color:#1a1a1a;-webkit-text-stroke:0.3px #f2f2f2">05h</div><div class="b" style="left:1314px;top:397px;width:46px;height:102px;background:#f2f2f2"></div><div class="c" style="left:1314px;top:407px;font-size:21.5px;line-height:21.5px;letter-spacing:-0.6px;color:#1a1a1a;-webkit-text-stroke:0.3px #f2f2f2">Sa</div><div class="c" style="left:1314px;top:439px;font-size:21.5px;line-height:21.5px;letter-spacing:-0.6px;color:#1a1a1a;-webkit-text-stroke:0.3px #f2f2f2">26.</div><div class="c" style="left:1314px;top:471px;font-size:21.5px;line-height:21.5px;letter-spacing:-0.6px;color:#1a1a1a;-webkit-text-stroke:0.3px #f2f2f2">07h</div><div class="b" style="left:1362px;top:397px;width:46px;height:102px;background:#f2f2f2"></div><div class="c" style="left:1362px;top:407px;font-size:21.5px;line-height:21.5px;letter-spacing:-0.6px;color:#1a1a1a;-webkit-text-stroke:0.3px #f2f2f2">Sa</div><div class="c" style="left:1362px;top:439px;font-size:21.5px;line-height:21.5px;letter-spacing:-0.6px;color:#1a1a1a;-webkit-text-stroke:0.3px #f2f2f2">26.</div><div class="c" style="left:1362px;top:471px;font-size:21.5px;line-height:21.5px;letter-spacing:-0.6px;color:#1a1a1a;-webkit-text-stroke:0.3px #f2f2f2">09h</div><div class="b" style="left:1410px;top:397px;width:46px;height:102px;background:#f2f2f2"></div><div class="c" style="left:1410px;top:407px;font-size:21.5px;line-height:21.5px;letter-spacing:-0.6px;color:#1a1a1a;-webkit-text-stroke:0.3px #f2f2f2">Sa</div><div class="c" style="left:1410px;top:439px;font-size:21.5px;line-height:21.5px;letter-spacing:-0.6px;color:#1a1a1a;-webkit-text-stroke:0.3px #f2f2f2">26.</div><div class="c" style="left:1410px;top:471px;font-size:21.5px;line-height:21.5px;letter-spacing:-0.6px;color:#1a1a1a;-webkit-text-stroke:0.3px #f2f2f2">11h</div><div class="b" style="left:1458px;top:397px;width:46px;height:102px;background:#f2f2f2"></div><div class="c" style="left:1458px;top:407px;font-size:21.5px;line-height:21.5px;letter-spacing:-0.6px;color:#1a1a1a;-webkit-text-stroke:0.3px #f2f2f2">Sa</div><div class="c" style="left:1458px;top:439px;font-size:21.5px;line-height:21.5px;letter-spacing:-0.6px;color:#1a1a1a;-webkit-text-stroke:0.3px #f2f2f2">26.</div><div class="c" style="left:1458px;top:471px;font-size:21.5px;line-height:21.5px;letter-spacing:-0.6px;color:#1a1a1a;-webkit-text-stroke:0.3px #f2f2f2">13h</div><div class="b" style="left:1506px;top:397px;width:46px;height:102px;background:#f2f2f2"></div><div class="c" style="left:1506px;top:407px;font-size:21.5px;line-height:21.5px;letter-spacing:-0.6px;color:#1a1a1a;-webkit-text-stroke:0.3px #f2f2f2">Sa</div><div class="c" style="left:1506px;top:439px;font-size:21.5px;line-height:21.5px;letter-spacing:-0.6px;color:#1a1a1a;-webkit-text-stroke:0.3px #f2f2f2">26.</div><div class="c" style="left:1506px;top:471px;font-size:21.5px;line-height:21.5px;letter-spacing:-0.6px;color:#1a1a1a;-webkit-text-stroke:0.3px #f2f2f2">15h</div><div class="b" style="left:1554px;top:397px;width:46px;height:102px;background:#f2f2f2"></div><div class="c" style="left:1554px;top:407px;font-size:21.5px;line-height:21.5px;letter-spacing:-0.6px;color:#1a1a1a;-webkit-text-stroke:0.3px #f2f2f2">Sa</div><div class="c" style="left:1554px;top:439px;font-size:21.5px;line-height:21.5px;letter-spacing:-0.6px;color:#1a1a1a;-webkit-text-stroke:0.3px #f2f2f2">26.</div><div class="c" style="left:1554px;top:471px;font-size:21.5px;line-height:21.5px;letter-spacing:-0.6px;color:#1a1a1a;-webkit-text-stroke:0.3px #f2f2f2">17h</div><div class="b" style="left:1602px;top:397px;width:46px;height:102px;background:#f2f2f2"></div><div class="c" style="left:1602px;top:407px;font-size:21.5px;line-height:21.5px;letter-spacing:-0.6px;color:#1a1a1a;-webkit-text-stroke:0.3px #f2f2f2">Sa</div><div class="c" style="left:1602px;top:439px;font-size:21.5px;line-height:21.5px;letter-spacing:-0.6px;color:#1a1a1a;-webkit-text-stroke:0.3px #f2f2f2">26.</div><div class="c" style="left:1602px;top:471px;font-size:21.5px;line-height:21.5px;letter-spacing:-0.6px;color:#1a1a1a;-webkit-text-stroke:0.3px #f2f2f2">19h</div><div class="b" style="left:1650px;top:397px;width:46px;height:102px;background:#f2f2f2"></div><div class="c" style="left:1650px;top:407px;font-size:21.5px;line-height:21.5px;letter-spacing:-0.6px;color:#1a1a1a;-webkit-text-stroke:0.3px #f2f2f2">Sa</div><div class="c" style="left:1650px;top:439px;font-size:21.5px;line-height:21.5px;letter-spacing:-0.6px;color:#1a1a1a;-webkit-text-stroke:0.3px #f2f2f2">26.</div><div class="c" style="left:1650px;top:471px;font-size:21.5px;line-height:21.5px;letter-spacing:-0.6px;color:#1a1a1a;-webkit-text-stroke:0.3px #f2f2f2">21h</div><div class="b" style="left:1698px;top:397px;width:46px;height:102px;background:#d4d4d4"></div><div class="c" style="left:1698px;top:407px;font-size:21.5px;line-height:21.5px;letter-spacing:-0.6px;color:#1a1a1a;-webkit-text-stroke:0.3px #d4d4d4">Di</div><div class="c" style="left:1698px;top:439px;font-size:21.5px;line-height:21.5px;letter-spacing:-0.6px;color:#1a1a1a;-webkit-text-stroke:0.3px #d4d4d4">27.</div><div class="c" style="left:1698px;top:471px;font-size:21.5px;line-height:21.5px;letter-spacing:-0.6px;color:#1a1a1a;-webkit-text-stroke:0.3px #d4d4d4">03h</div><div class="b" style="left:1746px;top:397px;width:46px;height:102px;background:#d4d4d4"></div><div class="c" style="left:1746px;top:407px;font-size:21.5px;line-height:21.5px;letter-spacing:-0.6px;color:#1a1a1a;-webkit-text-stroke:0.3px #d4d4d4">Di</div><div class="c" style="left:1746px;top:439px;font-size:21.5px;line-height:21.5px;letter-spacing:-0.6px;color:#1a1a1a;-webkit-text-stroke:0.3px #d4d4d4">27.</div><div class="c" style="left:1746px;top:471px;font-size:21.5px;line-height:21.5px;letter-spacing:-0.6px;color:#1a1a1a;-webkit-text-stroke:0.3px #d4d4d4">05h</div><div class="b" style="left:1794px;top:397px;width:46px;height:102px;background:#d4d4d4"></div><div class="c" style="left:1794px;top:407px;font-size:21.5px;line-height:21.5px;letter-spacing:-0.6px;color:#1a1a1a;-webkit-text-stroke:0.3px #d4d4d4">Di</div><div class="c" style="left:1794px;top:439px;font-size:21.5px;line-height:21.5px;letter-spacing:-0.6px;color:#1a1a1a;-webkit-text-stroke:0.3px #d4d4d4">27.</div><div class="c" style="left:1794px;top:471px;font-size:21.5px;line-height:21.5px;letter-spacing:-0.6px;color:#1a1a1a;-webkit-text-stroke:0.3px #d4d4d4">08h</div><div class="b" style="left:1842px;top:397px;width:46px;height:102px;background:#d4d4d4"></div><div class="c" style="left:1842px;top:407px;font-size:21.5px;line-height:21.5px;letter-spacing:-0.6px;color:#1a1a1a;-webkit-text-stroke:0.3px #d4d4d4">Di</div><div class="c" style="left:1842px;top:439px;font-size:21.5px;line-height:21.5px;letter-spacing:-0.6px;color:#1a1a1a;-webkit-text-stroke:0.3px #d4d4d4">27.</div><div class="c" style="left:1842px;top:471px;font-size:21.5px;line-height:21.5px;letter-spacing:-0.6px;color:#1a1a1a;-webkit-text-stroke:0.3px #d4d4d4">11h</div><div class="b" style="left:1890px;top:397px;width:46px;height:102px;background:#d4d4d4"></div><div class="c" style="left:1890px;top:407px;font-size:21.5px;line-height:21.5px;letter-spacing:-0.6px;color:#1a1a1a;-webkit-text-stroke:0.3px #d4d4d4">Di</div><div class="c" style="left:1890px;top:439px;font-size:21.5px;line-height:21.5px;letter-spacing:-0.6px;color:#1a1a1a;-webkit-text-stroke:0.3px #d4d4d4">27.</div><div class="c" style="left:1890px;top:471px;font-size:21.5px;line-height:21.5px;letter-spacing:-0.6px;color:#1a1a1a;-webkit-text-stroke:0.3px #d4d4d4">14h</div><div class="b" style="left:1938px;top:397px;width:46px;height:102px;background:#d4d4d4"></div><div class="c" style="left:1938px;top:407px;font-size:21.5px;line-height:21.5px;letter-spacing:-0.6px;color:#1a1a1a;-webkit-text-stroke:0.3px #d4d4d4">Di</div><div class="c" style="left:1938px;top:439px;font-size:21.5px;line-height:21.5px;letter-spacing:-0.6px;color:#1a1a1a;-webkit-text-stroke:0.3px #d4d4d4">27.</div><div class="c" style="left:1938px;top:471px;font-size:21.5px;line-height:21.5px;letter-spacing:-0.6px;color:#1a1a1a;-webkit-text-stroke:0.3px #d4d4d4">17h</div><div class="b" style="left:1986px;top:397px;width:46px;height:102px;background:#d4d4d4"></div><div class="c" style="left:1986px;top:407px;font-size:21.5px;line-height:21.5px;letter-spacing:-0.6px;color:#1a1a1a;-webkit-text-stroke:0.3px #d4d4d4">Di</div><div class="c" style="left:1986px;top:439px;font-size:21.5px;line-height:21.5px;letter-spacing:-0.6px;color:#1a1a1a;-webkit-text-stroke:0.3px #d4d4d4">27.</div><div class="c" style="left:1986px;top:471px;font-size:21.5px;line-height:21.5px;letter-spacing:-0.6px;color:#1a1a1a;-webkit-text-stroke:0.3px #d4d4d4">20h</div><div class="b" style="left:2034px;top:397px;width:46px;height:102px;background:#f2f2f2"></div><div class="c" style="left:2034px;top:407px;font-size:21.5px;line-height:21.5px;letter-spacing:-0.6px;color:#1a1a1a;-webkit-text-stroke:0.3px #f2f2f2">Lu</div><div class="c" style="left:2034px;top:439px;font-size:21.5px;line-height:21.5px;letter-spacing:-0.6px;color:#1a1a1a;-webkit-text-stroke:0.3px #f2f2f2">28.</div><div class="c" style="left:2034px;top:471px;font-size:21.5px;line-height:21.5px;letter-spacing:-0.6px;color:#1a1a1a;-webkit-text-stroke:0.3px #f2f2f2">05h</div><div class="b" style="left:2082px;top:397px;width:46px;height:102px;background:#f2f2f2"></div><div class="c" style="left:2082px;top:407px;font-size:21.5px;line-height:21.5px;letter-spacing:-0.6px;color:#1a1a1a;-webkit-text-stroke:0.3px #f2f2f2">Lu</div><div class="c" style="left:2082px;top:439px;font-size:21.5px;line-height:21.5px;letter-spacing:-0.6px;color:#1a1a1a;-webkit-text-stroke:0.3px #f2f2f2">28.</div><div class="c" style="left:2082px;top:471px;font-size:21.5px;line-height:21.5px;letter-spacing:-0.6px;color:#1a1a1a;-webkit-text-stroke:0.3px #f2f2f2">08h</div><div class="b" style="left:2130px;top:397px;width:46px;height:102px;background:#f2f2f2"></div><div class="c" style="left:2130px;top:407px;font-size:21.5px;line-height:21.5px;letter-spacing:-0.6px;color:#1a1a1a;-webkit-text-stroke:0.3px #f2f2f2">Lu</div><div class="c" style="left:2130px;top:439px;font-size:21.5px;line-height:21.5px;letter-spacing:-0.6px;color:#1a1a1a;-webkit-text-stroke:0.3px #f2f2f2">28.</div><div class="c" style="left:2130px;top:471px;font-size:21.5px;line-height:21.5px;letter-spacing:-0.6px;color:#1a1a1a;-webkit-text-stroke:0.3px #f2f2f2">11h</div><div class="b" style="left:2178px;top:397px;width:46px;height:102px;background:#f2f2f2"></div><div class="c" style="left:2178px;top:407px;font-size:21.5px;line-height:21.5px;letter-spacing:-0.6px;color:#1a1a1a;-webkit-text-stroke:0.3px #f2f2f2">Lu</div><div class="c" style="left:2178px;top:439px;font-size:21.5px;line-height:21.5px;letter-spacing:-0.6px;color:#1a1a1a;-webkit-text-stroke:0.3px #f2f2f2">28.</div><div class="c" style="left:2178px;top:471px;font-size:21.5px;line-height:21.5px;letter-spacing:-0.6px;color:#1a1a1a;-webkit-text-stroke:0.3px #f2f2f2">14h</div><div class="b" style="left:2226px;top:397px;width:46px;height:102px;background:#f2f2f2"></div><div class="c" style="left:2226px;top:407px;font-size:21.5px;line-height:21.5px;letter-spacing:-0.6px;color:#1a1a1a;-webkit-text-stroke:0.3px #f2f2f2">Lu</div><div class="c" style="left:2226px;top:439px;font-size:21.5px;line-height:21.5px;letter-spacing:-0.6px;color:#1a1a1a;-webkit-text-stroke:0.3px #f2f2f2">28.</div><div class="c" style="left:2226px;top:471px;font-size:21.5px;line-height:21.5px;letter-spacing:-0.6px;color:#1a1a1a;-webkit-text-stroke:0.3px #f2f2f2">17h</div><div class="b" style="left:2274px;top:397px;width:46px;height:102px;background:#f2f2f2"></div><div class="c" style="left:2274px;top:407px;font-size:21.5px;line-height:21.5px;letter-spacing:-0.6px;color:#1a1a1a;-webkit-text-stroke:0.3px #f2f2f2">Lu</div><div class="c" style="left:2274px;top:439px;font-size:21.5px;line-height:21.5px;letter-spacing:-0.6px;color:#1a1a1a;-webkit-text-stroke:0.3px #f2f2f2">28.</div><div class="c" style="left:2274px;top:471px;font-size:21.5px;line-height:21.5px;letter-spacing:-0.6px;color:#1a1a1a;-webkit-text-stroke:0.3px #f2f2f2">20h</div><div class="b" style="left:2322px;top:397px;width:46px;height:102px;background:#d4d4d4"></div><div class="c" style="left:2322px;top:407px;font-size:21.5px;line-height:21.5px;letter-spacing:-0.6px;color:#1a1a1a;-webkit-text-stroke:0.3px #d4d4d4">Ma</div><div class="c" style="left:2322px;top:439px;font-size:21.5px;line-height:21.5px;letter-spacing:-0.6px;color:#1a1a1a;-webkit-text-stroke:0.3px #d4d4d4">1.</div><div class="c" style="left:2322px;top:471px;font-size:21.5px;line-height:21.5px;letter-spacing:-0.6px;color:#1a1a1a;-webkit-text-stroke:0.3px #d4d4d4">05h</div><div class="b" style="left:2370px;top:397px;width:46px;height:102px;background:#d4d4d4"></div><div class="c" style="left:2370px;top:407px;font-size:21.5px;line-height:21.5px;letter-spacing:-0.6px;color:#1a1a1a;-webkit-text-stroke:0.3px #d4d4d4">Ma</div><div class="c" style="left:2370px;top:439px;font-size:21.5px;line-height:21.5px;letter-spacing:-0.6px;color:#1a1a1a;-webkit-text-stroke:0.3px #d4d4d4">1.</div><div class="c" style="left:2370px;top:471px;font-size:21.5px;line-height:21.5px;letter-spacing:-0.6px;color:#1a1a1a;-webkit-text-stroke:0.3px #d4d4d4">08h</div><div class="b" style="left:2418px;top:397px;width:46px;height:102px;background:#d4d4d4"></div><div class="c" style="left:2418px;top:407px;font-size:21.5px;line-height:21.5px;letter-spacing:-0.6px;color:#1a1a1a;-webkit-text-stroke:0.3px #d4d4d4">Ma</div><div class="c" style="left:2418px;top:439px;font-size:21.5px;line-height:21.5px;letter-spacing:-0.6px;color:#1a1a1a;-webkit-text-stroke:0.3px #d4d4d4">1.</div><div class="c" style="left:2418px;top:471px;font-size:21.5px;line-height:21.5px;letter-spacing:-0.6px;color:#1a1a1a;-webkit-text-stroke:0.3px #d4d4d4">11h</div><div class="b" style="left:2466px;top:397px;width:46px;height:102px;background:#d4d4d4"></div><div class="c" style="left:2466px;top:407px;font-size:21.5px;line-height:21.5px;letter-spacing:-0.6px;color:#1a1a1a;-webkit-text-stroke:0.3px #d4d4d4">Ma</div><div class="c" style="left:2466px;top:439px;font-size:21.5px;line-height:21.5px;letter-spacing:-0.6px;color:#1a1a1a;-webkit-text-stroke:0.3px #d4d4d4">1.</div><div class="c" style="left:2466px;top:471px;font-size:21.5px;line-height:21.5px;letter-spacing:-0.6px;color:#1a1a1a;-webkit-text-stroke:0.3px #d4d4d4">14h</div><div class="b" style="left:2514px;top:397px;width:46px;height:102px;background:#d4d4d4"></div><div class="c" style="left:2514px;top:407px;font-size:21.5px;line-height:21.5px;letter-spacing:-0.6px;color:#1a1a1a;-webkit-text-stroke:0.3px #d4d4d4">Ma</div><div class="c" style="left:2514px;top:439px;font-size:21.5px;line-height:21.5px;letter-spacing:-0.6px;color:#1a1a1a;-webkit-text-stroke:0.3px #d4d4d4">1.</div><div class="c" style="left:2514px;top:471px;font-size:21.5px;line-height:21.5px;letter-spacing:-0.6px;color:#1a1a1a;-webkit-text-stroke:0.3px #d4d4d4">17h</div><div class="b" style="left:2562px;top:397px;width:46px;height:102px;background:#d4d4d4"></div><div class="c" style="left:2562px;top:407px;font-size:21.5px;line-height:21.5px;letter-spacing:-0.6px;color:#1a1a1a;-webkit-text-stroke:0.3px #d4d4d4">Ma</div><div class="c" style="left:2562px;top:439px;font-size:21.5px;line-height:21.5px;letter-spacing:-0.6px;color:#1a1a1a;-webkit-text-stroke:0.3px #d4d4d4">1.</div><div class="c" style="left:2562px;top:471px;font-size:21.5px;line-height:21.5px;letter-spacing:-0.6px;color:#1a1a1a;-webkit-text-stroke:0.3px #d4d4d4">20h</div><div class="b" style="left:2610px;top:397px;width:46px;height:102px;background:#f2f2f2"></div><div class="c" style="left:2610px;top:407px;font-size:21.5px;line-height:21.5px;letter-spacing:-0.6px;color:#1a1a1a;-webkit-text-stroke:0.3px #f2f2f2">Me</div><div class="c" style="left:2610px;top:439px;font-size:21.5px;line-height:21.5px;letter-spacing:-0.6px;color:#1a1a1a;-webkit-text-stroke:0.3px #f2f2f2">2.</div><div class="c" style="left:2610px;top:471px;font-size:21.5px;line-height:21.5px;letter-spacing:-0.6px;color:#1a1a1a;-webkit-text-stroke:0.3px #f2f2f2">05h</div>
<div class="b" style="left:258px;top:501px;width:46px;height:40px;background:rgb(118,246,76)"></div><div class="c" style="left:258px;top:512px;font-size:22px;line-height:22px;color:#111;-webkit-text-stroke:0.25px #111;">14</div><div class="b" style="left:306px;top:501px;width:46px;height:40px;background:rgb(124,246,76)"></div><div class="c" style="left:306px;top:512px;font-size:22px;line-height:22px;color:#111;-webkit-text-stroke:0.25px #111;">15</div><div class="b" style="left:354px;top:501px;width:46px;height:40px;background:rgb(128,246,76)"></div><div class="c" style="left:354px;top:512px;font-size:22px;line-height:22px;color:#111;-webkit-text-stroke:0.25px #111;">15</div><div class="b" style="left:402px;top:501px;width:46px;height:40px;background:rgb(142,244,76)"></div><div class="c" style="left:402px;top:512px;font-size:22px;line-height:22px;color:#111;-webkit-text-stroke:0.25px #111;">16</div><div class="b" style="left:450px;top:501px;width:46px;height:40px;background:rgb(158,242,76)"></div><div class="c" style="left:450px;top:512px;font-size:22px;line-height:22px;color:#111;-webkit-text-stroke:0.25px #111;">16</div><div class="b" style="left:498px;top:501px;width:46px;height:40px;background:rgb(174,240,76)"></div><div class="c" style="left:498px;top:512px;font-size:22px;line-height:22px;color:#111;-webkit-text-stroke:0.25px #111;">17</div><div class="b" style="left:546px;top:501px;width:46px;height:40px;background:rgb(180,240,76)"></div><div class="c" style="left:546px;top:512px;font-size:22px;line-height:22px;color:#111;-webkit-text-stroke:0.25px #111;">17</div><div class="b" style="left:594px;top:501px;width:46px;height:40px;background:rgb(188,240,77)"></div><div class="c" style="left:594px;top:512px;font-size:22px;line-height:22px;color:#111;-webkit-text-stroke:0.25px #111;">17</div><div class="b" style="left:642px;top:501px;width:46px;height:40px;background:rgb(174,240,76)"></div><div class="c" style="left:642px;top:512px;font-size:22px;line-height:22px;color:#111;-webkit-text-stroke:0.25px #111;">17</div><div class="b" style="left:690px;top:501px;width:46px;height:40px;background:rgb(152,242,76)"></div><div class="c" style="left:690px;top:512px;font-size:22px;line-height:22px;color:#111;-webkit-text-stroke:0.25px #111;">16</div><div class="b" style="left:738px;top:501px;width:46px;height:40px;background:rgb(128,246,76)"></div><div class="c" style="left:738px;top:512px;font-size:22px;line-height:22px;color:#111;-webkit-text-stroke:0.25px #111;">15</div><div class="b" style="left:786px;top:501px;width:46px;height:40px;background:rgb(126,246,76)"></div><div class="c" style="left:786px;top:512px;font-size:22px;line-height:22px;color:#111;-webkit-text-stroke:0.25px #111;">15</div><div class="b" style="left:834px;top:501px;width:46px;height:40px;background:rgb(126,246,76)"></div><div class="c" style="left:834px;top:512px;font-size:22px;line-height:22px;color:#111;-webkit-text-stroke:0.25px #111;">15</div><div class="b" style="left:882px;top:501px;width:46px;height:40px;background:rgb(133,245,76)"></div><div class="c" style="left:882px;top:512px;font-size:22px;line-height:22px;color:#111;-webkit-text-stroke:0.25px #111;">15</div><div class="b" style="left:930px;top:501px;width:46px;height:40px;background:rgb(152,242,76)"></div><div class="c" style="left:930px;top:512px;font-size:22px;line-height:22px;color:#111;-webkit-text-stroke:0.25px #111;">16</div><div class="b" style="left:978px;top:501px;width:46px;height:40px;background:rgb(180,240,76)"></div><div class="c" style="left:978px;top:512px;font-size:22px;line-height:22px;color:#111;-webkit-text-stroke:0.25px #111;">17</div><div class="b" style="left:1026px;top:501px;width:46px;height:40px;background:rgb(205,239,78)"></div><div class="c" style="left:1026px;top:512px;font-size:22px;line-height:22px;color:#111;-webkit-text-stroke:0.25px #111;">18</div><div class="b" style="left:1074px;top:501px;width:46px;height:40px;background:rgb(188,240,77)"></div><div class="c" style="left:1074px;top:512px;font-size:22px;line-height:22px;color:#111;-webkit-text-stroke:0.25px #111;">17</div><div class="b" style="left:1122px;top:501px;width:46px;height:40px;background:rgb(163,241,76)"></div><div class="c" style="left:1122px;top:512px;font-size:22px;line-height:22px;color:#111;-webkit-text-stroke:0.25px #111;">16</div><div class="b" style="left:1170px;top:501px;width:46px;height:40px;background:rgb(174,240,76)"></div><div class="c" style="left:1170px;top:512px;font-size:22px;line-height:22px;color:#111;-webkit-text-stroke:0.25px #111;">17</div><div class="b" style="left:1218px;top:501px;width:46px;height:40px;background:rgb(245,232,78)"></div><div class="c" style="left:1218px;top:512px;font-size:22px;line-height:22px;color:#111;-webkit-text-stroke:0.25px #111;">19</div><div class="b" style="left:1266px;top:501px;width:46px;height:40px;background:rgb(228,237,80)"></div><div class="c" style="left:1266px;top:512px;font-size:22px;line-height:22px;color:#111;-webkit-text-stroke:0.25px #111;">18</div><div class="b" style="left:1314px;top:501px;width:46px;height:40px;background:rgb(231,236,79)"></div><div class="c" style="left:1314px;top:512px;font-size:22px;line-height:22px;color:#111;-webkit-text-stroke:0.25px #111;">18</div><div class="b" style="left:1362px;top:501px;width:46px;height:40px;background:rgb(251,231,78)"></div><div class="c" style="left:1362px;top:512px;font-size:22px;line-height:22px;color:#111;-webkit-text-stroke:0.25px #111;">19</div><div class="b" style="left:1410px;top:501px;width:46px;height:40px;background:rgb(247,210,72)"></div><div class="c" style="left:1410px;top:512px;font-size:22px;line-height:22px;color:#111;-webkit-text-stroke:0.25px #111;">20</div><div class="b" style="left:1458px;top:501px;width:46px;height:40px;background:rgb(248,232,78)"></div><div class="c" style="left:1458px;top:512px;font-size:22px;line-height:22px;color:#111;-webkit-text-stroke:0.25px #111;">19</div><div class="b" style="left:1506px;top:501px;width:46px;height:40px;background:rgb(248,232,78)"></div><div class="c" style="left:1506px;top:512px;font-size:22px;line-height:22px;color:#111;-webkit-text-stroke:0.25px #111;">19</div><div class="b" style="left:1554px;top:501px;width:46px;height:40px;background:rgb(251,231,78)"></div><div class="c" style="left:1554px;top:512px;font-size:22px;line-height:22px;color:#111;-webkit-text-stroke:0.25px #111;">19</div><div class="b" style="left:1602px;top:501px;width:46px;height:40px;background:rgb(249,221,75)"></div><div class="c" style="left:1602px;top:512px;font-size:22px;line-height:22px;color:#111;-webkit-text-stroke:0.25px #111;">19</div><div class="b" style="left:1650px;top:501px;width:46px;height:40px;background:rgb(246,205,70)"></div><div class="c" style="left:1650px;top:512px;font-size:22px;line-height:22px;color:#111;-webkit-text-stroke:0.25px #111;">20</div><div class="b" style="left:1698px;top:501px;width:46px;height:40px;background:rgb(243,183,64)"></div><div class="c" style="left:1698px;top:512px;font-size:22px;line-height:22px;color:#111;-webkit-text-stroke:0.25px #111;">21</div><div class="b" style="left:1746px;top:501px;width:46px;height:40px;background:rgb(243,186,64)"></div><div class="c" style="left:1746px;top:512px;font-size:22px;line-height:22px;color:#111;-webkit-text-stroke:0.25px #111;">21</div><div class="b" style="left:1794px;top:501px;width:46px;height:40px;background:rgb(242,233,79)"></div><div class="c" style="left:1794px;top:512px;font-size:22px;line-height:22px;color:#111;-webkit-text-stroke:0.25px #111;">19</div><div class="b" style="left:1842px;top:501px;width:46px;height:40px;background:rgb(250,228,77)"></div><div class="c" style="left:1842px;top:512px;font-size:22px;line-height:22px;color:#111;-webkit-text-stroke:0.25px #111;">19</div><div class="b" style="left:1890px;top:501px;width:46px;height:40px;background:rgb(228,237,80)"></div><div class="c" style="left:1890px;top:512px;font-size:22px;line-height:22px;color:#111;-webkit-text-stroke:0.25px #111;">18</div><div class="b" style="left:1938px;top:501px;width:46px;height:40px;background:rgb(248,232,78)"></div><div class="c" style="left:1938px;top:512px;font-size:22px;line-height:22px;color:#111;-webkit-text-stroke:0.25px #111;">19</div><div class="b" style="left:1986px;top:501px;width:46px;height:40px;background:rgb(244,194,67)"></div><div class="c" style="left:1986px;top:512px;font-size:22px;line-height:22px;color:#111;-webkit-text-stroke:0.25px #111;">20</div><div class="b" style="left:2034px;top:501px;width:46px;height:40px;background:rgb(246,205,70)"></div><div class="c" style="left:2034px;top:512px;font-size:22px;line-height:22px;color:#111;-webkit-text-stroke:0.25px #111;">20</div><div class="b" style="left:2082px;top:501px;width:46px;height:40px;background:rgb(246,205,70)"></div><div class="c" style="left:2082px;top:512px;font-size:22px;line-height:22px;color:#111;-webkit-text-stroke:0.25px #111;">20</div><div class="b" style="left:2130px;top:501px;width:46px;height:40px;background:rgb(243,186,64)"></div><div class="c" style="left:2130px;top:512px;font-size:22px;line-height:22px;color:#111;-webkit-text-stroke:0.25px #111;">21</div><div class="b" style="left:2178px;top:501px;width:46px;height:40px;background:rgb(245,197,68)"></div><div class="c" style="left:2178px;top:512px;font-size:22px;line-height:22px;color:#111;-webkit-text-stroke:0.25px #111;">20</div><div class="b" style="left:2226px;top:501px;width:46px;height:40px;background:rgb(243,183,64)"></div><div class="c" style="left:2226px;top:512px;font-size:22px;line-height:22px;color:#111;-webkit-text-stroke:0.25px #111;">21</div><div class="b" style="left:2274px;top:501px;width:46px;height:40px;background:rgb(245,200,68)"></div><div class="c" style="left:2274px;top:512px;font-size:22px;line-height:22px;color:#111;-webkit-text-stroke:0.25px #111;">20</div><div class="b" style="left:2322px;top:501px;width:46px;height:40px;background:rgb(244,189,65)"></div><div class="c" style="left:2322px;top:512px;font-size:22px;line-height:22px;color:#111;-webkit-text-stroke:0.25px #111;">21</div><div class="b" style="left:2370px;top:501px;width:46px;height:40px;background:rgb(242,174,61)"></div><div class="c" style="left:2370px;top:512px;font-size:22px;line-height:22px;color:#111;-webkit-text-stroke:0.25px #111;">21</div><div class="b" style="left:2418px;top:501px;width:46px;height:40px;background:rgb(240,164,60)"></div><div class="c" style="left:2418px;top:512px;font-size:22px;line-height:22px;color:#111;-webkit-text-stroke:0.25px #111;">21</div><div class="b" style="left:2466px;top:501px;width:46px;height:40px;background:rgb(243,186,64)"></div><div class="c" style="left:2466px;top:512px;font-size:22px;line-height:22px;color:#111;-webkit-text-stroke:0.25px #111;">21</div><div class="b" style="left:2514px;top:501px;width:46px;height:40px;background:rgb(248,215,73)"></div><div class="c" style="left:2514px;top:512px;font-size:22px;line-height:22px;color:#111;-webkit-text-stroke:0.25px #111;">20</div><div class="b" style="left:2562px;top:501px;width:46px;height:40px;background:rgb(250,223,76)"></div><div class="c" style="left:2562px;top:512px;font-size:22px;line-height:22px;color:#111;-webkit-text-stroke:0.25px #111;">19</div><div class="b" style="left:2610px;top:501px;width:46px;height:40px;background:rgb(244,194,67)"></div><div class="c" style="left:2610px;top:512px;font-size:22px;line-height:22px;color:#111;-webkit-text-stroke:0.25px #111;">20</div>
<div class="b" style="left:258px;top:543px;width:46px;height:40px;background:rgb(163,241,76)"></div><div class="c" style="left:258px;top:554px;font-size:22px;line-height:22px;color:#111;-webkit-text-stroke:0.25px #111;">16</div><div class="b" style="left:306px;top:543px;width:46px;height:40px;background:rgb(180,240,76)"></div><div class="c" style="left:306px;top:554px;font-size:22px;line-height:22px;color:#111;-webkit-text-stroke:0.25px #111;">17</div><div class="b" style="left:354px;top:543px;width:46px;height:40px;background:rgb(209,239,79)"></div><div class="c" style="left:354px;top:554px;font-size:22px;line-height:22px;color:#111;-webkit-text-stroke:0.25px #111;">18</div><div class="b" style="left:402px;top:543px;width:46px;height:40px;background:rgb(231,236,79)"></div><div class="c" style="left:402px;top:554px;font-size:22px;line-height:22px;color:#111;-webkit-text-stroke:0.25px #111;">18</div><div class="b" style="left:450px;top:543px;width:46px;height:40px;background:rgb(251,231,78)"></div><div class="c" style="left:450px;top:554px;font-size:22px;line-height:22px;color:#111;-webkit-text-stroke:0.25px #111;">19</div><div class="b" style="left:498px;top:543px;width:46px;height:40px;background:rgb(249,221,75)"></div><div class="c" style="left:498px;top:554px;font-size:22px;line-height:22px;color:#111;-webkit-text-stroke:0.25px #111;">19</div><div class="b" style="left:546px;top:543px;width:46px;height:40px;background:rgb(245,200,68)"></div><div class="c" style="left:546px;top:554px;font-size:22px;line-height:22px;color:#111;-webkit-text-stroke:0.25px #111;">20</div><div class="b" style="left:594px;top:543px;width:46px;height:40px;background:rgb(242,178,62)"></div><div class="c" style="left:594px;top:554px;font-size:22px;line-height:22px;color:#111;-webkit-text-stroke:0.25px #111;">21</div><div class="b" style="left:642px;top:543px;width:46px;height:40px;background:rgb(245,200,68)"></div><div class="c" style="left:642px;top:554px;font-size:22px;line-height:22px;color:#111;-webkit-text-stroke:0.25px #111;">20</div><div class="b" style="left:690px;top:543px;width:46px;height:40px;background:rgb(251,231,78)"></div><div class="c" style="left:690px;top:554px;font-size:22px;line-height:22px;color:#111;-webkit-text-stroke:0.25px #111;">19</div><div class="b" style="left:738px;top:543px;width:46px;height:40px;background:rgb(180,240,76)"></div><div class="c" style="left:738px;top:554px;font-size:22px;line-height:22px;color:#111;-webkit-text-stroke:0.25px #111;">17</div><div class="b" style="left:786px;top:543px;width:46px;height:40px;background:rgb(174,240,76)"></div><div class="c" style="left:786px;top:554px;font-size:22px;line-height:22px;color:#111;-webkit-text-stroke:0.25px #111;">17</div><div class="b" style="left:834px;top:543px;width:46px;height:40px;background:rgb(180,240,76)"></div><div class="c" style="left:834px;top:554px;font-size:22px;line-height:22px;color:#111;-webkit-text-stroke:0.25px #111;">17</div><div class="b" style="left:882px;top:543px;width:46px;height:40px;background:rgb(205,239,78)"></div><div class="c" style="left:882px;top:554px;font-size:22px;line-height:22px;color:#111;-webkit-text-stroke:0.25px #111;">18</div><div class="b" style="left:930px;top:543px;width:46px;height:40px;background:rgb(245,232,78)"></div><div class="c" style="left:930px;top:554px;font-size:22px;line-height:22px;color:#111;-webkit-text-stroke:0.25px #111;">19</div><div class="b" style="left:978px;top:543px;width:46px;height:40px;background:rgb(244,194,67)"></div><div class="c" style="left:978px;top:554px;font-size:22px;line-height:22px;color:#111;-webkit-text-stroke:0.25px #111;">20</div><div class="b" style="left:1026px;top:543px;width:46px;height:40px;background:rgb(243,183,64)"></div><div class="c" style="left:1026px;top:554px;font-size:22px;line-height:22px;color:#111;-webkit-text-stroke:0.25px #111;">21</div><div class="b" style="left:1074px;top:543px;width:46px;height:40px;background:rgb(240,164,60)"></div><div class="c" style="left:1074px;top:554px;font-size:22px;line-height:22px;color:#111;-webkit-text-stroke:0.25px #111;">21</div><div class="b" style="left:1122px;top:543px;width:46px;height:40px;background:rgb(245,197,68)"></div><div class="c" style="left:1122px;top:554px;font-size:22px;line-height:22px;color:#111;-webkit-text-stroke:0.25px #111;">20</div><div class="b" style="left:1170px;top:543px;width:46px;height:40px;background:rgb(246,205,70)"></div><div class="c" style="left:1170px;top:554px;font-size:22px;line-height:22px;color:#111;-webkit-text-stroke:0.25px #111;">20</div><div class="b" style="left:1218px;top:543px;width:46px;height:40px;background:rgb(238,136,56)"></div><div class="c" style="left:1218px;top:554px;font-size:22px;line-height:22px;color:#111;-webkit-text-stroke:0.25px #111;">22</div><div class="b" style="left:1266px;top:543px;width:46px;height:40px;background:rgb(238,146,57)"></div><div class="c" style="left:1266px;top:554px;font-size:22px;line-height:22px;color:#111;-webkit-text-stroke:0.25px #111;">22</div><div class="b" style="left:1314px;top:543px;width:46px;height:40px;background:rgb(238,142,56)"></div><div class="c" style="left:1314px;top:554px;font-size:22px;line-height:22px;color:#111;-webkit-text-stroke:0.25px #111;">22</div><div class="b" style="left:1362px;top:543px;width:46px;height:40px;background:rgb(236,114,54)"></div><div class="c" style="left:1362px;top:554px;font-size:22px;line-height:22px;color:#111;-webkit-text-stroke:0.25px #111;">23</div><div class="b" style="left:1410px;top:543px;width:46px;height:40px;background:rgb(233,78,61)"></div><div class="c" style="left:1410px;top:554px;font-size:22px;line-height:22px;color:#111;-webkit-text-stroke:0.25px #111;">24</div><div class="b" style="left:1458px;top:543px;width:46px;height:40px;background:rgb(235,96,55)"></div><div class="c" style="left:1458px;top:554px;font-size:22px;line-height:22px;color:#111;-webkit-text-stroke:0.25px #111;">24</div><div class="b" style="left:1506px;top:543px;width:46px;height:40px;background:rgb(235,96,55)"></div><div class="c" style="left:1506px;top:554px;font-size:22px;line-height:22px;color:#111;-webkit-text-stroke:0.25px #111;">24</div><div class="b" style="left:1554px;top:543px;width:46px;height:40px;background:rgb(235,102,55)"></div><div class="c" style="left:1554px;top:554px;font-size:22px;line-height:22px;color:#111;-webkit-text-stroke:0.25px #111;">23</div><div class="b" style="left:1602px;top:543px;width:46px;height:40px;background:rgb(234,90,56)"></div><div class="c" style="left:1602px;top:554px;font-size:22px;line-height:22px;color:#111;-webkit-text-stroke:0.25px #111;">24</div><div class="b" style="left:1650px;top:543px;width:46px;height:40px;background:rgb(233,79,60)"></div><div class="c" style="left:1650px;top:554px;font-size:22px;line-height:22px;color:#111;-webkit-text-stroke:0.25px #111;">24</div><div class="b" style="left:1698px;top:543px;width:46px;height:40px;background:rgb(230,60,87)"></div><div class="c" style="left:1698px;top:554px;font-size:22px;line-height:22px;color:#111;-webkit-text-stroke:0.25px #111;">26</div><div class="b" style="left:1746px;top:543px;width:46px;height:40px;background:rgb(232,66,73)"></div><div class="c" style="left:1746px;top:554px;font-size:22px;line-height:22px;color:#111;-webkit-text-stroke:0.25px #111;">25</div><div class="b" style="left:1794px;top:543px;width:46px;height:40px;background:rgb(237,131,55)"></div><div class="c" style="left:1794px;top:554px;font-size:22px;line-height:22px;color:#111;-webkit-text-stroke:0.25px #111;">22</div><div class="b" style="left:1842px;top:543px;width:46px;height:40px;background:rgb(237,122,55)"></div><div class="c" style="left:1842px;top:554px;font-size:22px;line-height:22px;color:#111;-webkit-text-stroke:0.25px #111;">23</div><div class="b" style="left:1890px;top:543px;width:46px;height:40px;background:rgb(236,120,54)"></div><div class="c" style="left:1890px;top:554px;font-size:22px;line-height:22px;color:#111;-webkit-text-stroke:0.25px #111;">23</div><div class="b" style="left:1938px;top:543px;width:46px;height:40px;background:rgb(236,117,54)"></div><div class="c" style="left:1938px;top:554px;font-size:22px;line-height:22px;color:#111;-webkit-text-stroke:0.25px #111;">23</div><div class="b" style="left:1986px;top:543px;width:46px;height:40px;background:rgb(234,81,58)"></div><div class="c" style="left:1986px;top:554px;font-size:22px;line-height:22px;color:#111;-webkit-text-stroke:0.25px #111;">24</div><div class="b" style="left:2034px;top:543px;width:46px;height:40px;background:rgb(233,79,60)"></div><div class="c" style="left:2034px;top:554px;font-size:22px;line-height:22px;color:#111;-webkit-text-stroke:0.25px #111;">24</div><div class="b" style="left:2082px;top:543px;width:46px;height:40px;background:rgb(234,81,58)"></div><div class="c" style="left:2082px;top:554px;font-size:22px;line-height:22px;color:#111;-webkit-text-stroke:0.25px #111;">24</div><div class="b" style="left:2130px;top:543px;width:46px;height:40px;background:rgb(232,68,68)"></div><div class="c" style="left:2130px;top:554px;font-size:22px;line-height:22px;color:#111;-webkit-text-stroke:0.25px #111;">25</div><div class="b" style="left:2178px;top:543px;width:46px;height:40px;background:rgb(232,71,66)"></div><div class="c" style="left:2178px;top:554px;font-size:22px;line-height:22px;color:#111;-webkit-text-stroke:0.25px #111;">25</div><div class="b" style="left:2226px;top:543px;width:46px;height:40px;background:rgb(232,66,73)"></div><div class="c" style="left:2226px;top:554px;font-size:22px;line-height:22px;color:#111;-webkit-text-stroke:0.25px #111;">25</div><div class="b" style="left:2274px;top:543px;width:46px;height:40px;background:rgb(232,71,66)"></div><div class="c" style="left:2274px;top:554px;font-size:22px;line-height:22px;color:#111;-webkit-text-stroke:0.25px #111;">25</div><div class="b" style="left:2322px;top:543px;width:46px;height:40px;background:rgb(232,67,70)"></div><div class="c" style="left:2322px;top:554px;font-size:22px;line-height:22px;color:#111;-webkit-text-stroke:0.25px #111;">25</div><div class="b" style="left:2370px;top:543px;width:46px;height:40px;background:rgb(230,58,92)"></div><div class="c" style="left:2370px;top:554px;font-size:22px;line-height:22px;color:#111;-webkit-text-stroke:0.25px #111;">26</div><div class="b" style="left:2418px;top:543px;width:46px;height:40px;background:rgb(230,56,96)"></div><div class="c" style="left:2418px;top:554px;font-size:22px;line-height:22px;color:#111;-webkit-text-stroke:0.25px #111;">26</div><div class="b" style="left:2466px;top:543px;width:46px;height:40px;background:rgb(231,63,80)"></div><div class="c" style="left:2466px;top:554px;font-size:22px;line-height:22px;color:#111;-webkit-text-stroke:0.25px #111;">26</div><div class="b" style="left:2514px;top:543px;width:46px;height:40px;background:rgb(235,96,55)"></div><div class="c" style="left:2514px;top:554px;font-size:22px;line-height:22px;color:#111;-webkit-text-stroke:0.25px #111;">24</div><div class="b" style="left:2562px;top:543px;width:46px;height:40px;background:rgb(235,105,55)"></div><div class="c" style="left:2562px;top:554px;font-size:22px;line-height:22px;color:#111;-webkit-text-stroke:0.25px #111;">23</div><div class="b" style="left:2610px;top:543px;width:46px;height:40px;background:rgb(233,74,63)"></div><div class="c" style="left:2610px;top:554px;font-size:22px;line-height:22px;color:#111;-webkit-text-stroke:0.25px #111;">25</div>
<div class="b" style="left:258px;top:627px;width:46px;height:40px;background:rgb(196,198,248)"></div><div class="c" style="left:258px;top:638px;font-size:22px;line-height:22px;color:#1a1a1a;-webkit-text-stroke:0.3px rgb(196,198,248);">1.5</div><div class="b" style="left:306px;top:627px;width:46px;height:40px;background:rgb(196,198,248)"></div><div class="c" style="left:306px;top:638px;font-size:22px;line-height:22px;color:#1a1a1a;-webkit-text-stroke:0.3px rgb(196,198,248);">1.5</div><div class="b" style="left:354px;top:627px;width:46px;height:40px;background:rgb(196,198,248)"></div><div class="c" style="left:354px;top:638px;font-size:22px;line-height:22px;color:#1a1a1a;-webkit-text-stroke:0.3px rgb(196,198,248);">1.5</div><div class="b" style="left:402px;top:627px;width:46px;height:40px;background:rgb(196,198,248)"></div><div class="c" style="left:402px;top:638px;font-size:22px;line-height:22px;color:#1a1a1a;-webkit-text-stroke:0.3px rgb(196,198,248);">1.5</div><div class="b" style="left:450px;top:627px;width:46px;height:40px;background:rgb(196,198,248)"></div><div class="c" style="left:450px;top:638px;font-size:22px;line-height:22px;color:#1a1a1a;-webkit-text-stroke:0.3px rgb(196,198,248);">1.5</div><div class="b" style="left:498px;top:627px;width:46px;height:40px;background:rgb(196,198,248)"></div><div class="c" style="left:498px;top:638px;font-size:22px;line-height:22px;color:#1a1a1a;-webkit-text-stroke:0.3px rgb(196,198,248);">1.5</div><div class="b" style="left:546px;top:627px;width:46px;height:40px;background:rgb(191,193,248)"></div><div class="c" style="left:546px;top:638px;font-size:22px;line-height:22px;color:#1a1a1a;-webkit-text-stroke:0.3px rgb(191,193,248);">1.6</div><div class="b" style="left:594px;top:627px;width:46px;height:40px;background:rgb(191,193,248)"></div><div class="c" style="left:594px;top:638px;font-size:22px;line-height:22px;color:#1a1a1a;-webkit-text-stroke:0.3px rgb(191,193,248);">1.6</div><div class="b" style="left:642px;top:627px;width:46px;height:40px;background:rgb(191,193,248)"></div><div class="c" style="left:642px;top:638px;font-size:22px;line-height:22px;color:#1a1a1a;-webkit-text-stroke:0.3px rgb(191,193,248);">1.6</div><div class="b" style="left:690px;top:627px;width:46px;height:40px;background:rgb(191,193,248)"></div><div class="c" style="left:690px;top:638px;font-size:22px;line-height:22px;color:#1a1a1a;-webkit-text-stroke:0.3px rgb(191,193,248);">1.6</div><div class="b" style="left:738px;top:627px;width:46px;height:40px;background:rgb(191,193,248)"></div><div class="c" style="left:738px;top:638px;font-size:22px;line-height:22px;color:#1a1a1a;-webkit-text-stroke:0.3px rgb(191,193,248);">1.6</div><div class="b" style="left:786px;top:627px;width:46px;height:40px;background:rgb(191,193,248)"></div><div class="c" style="left:786px;top:638px;font-size:22px;line-height:22px;color:#1a1a1a;-webkit-text-stroke:0.3px rgb(191,193,248);">1.6</div><div class="b" style="left:834px;top:627px;width:46px;height:40px;background:rgb(196,198,248)"></div><div class="c" style="left:834px;top:638px;font-size:22px;line-height:22px;color:#1a1a1a;-webkit-text-stroke:0.3px rgb(196,198,248);">1.5</div><div class="b" style="left:882px;top:627px;width:46px;height:40px;background:rgb(196,198,248)"></div><div class="c" style="left:882px;top:638px;font-size:22px;line-height:22px;color:#1a1a1a;-webkit-text-stroke:0.3px rgb(196,198,248);">1.5</div><div class="b" style="left:930px;top:627px;width:46px;height:40px;background:rgb(196,198,248)"></div><div class="c" style="left:930px;top:638px;font-size:22px;line-height:22px;color:#1a1a1a;-webkit-text-stroke:0.3px rgb(196,198,248);">1.5</div><div class="b" style="left:978px;top:627px;width:46px;height:40px;background:rgb(191,193,248)"></div><div class="c" style="left:978px;top:638px;font-size:22px;line-height:22px;color:#1a1a1a;-webkit-text-stroke:0.3px rgb(191,193,248);">1.6</div><div class="b" style="left:1026px;top:627px;width:46px;height:40px;background:rgb(191,193,248)"></div><div class="c" style="left:1026px;top:638px;font-size:22px;line-height:22px;color:#1a1a1a;-webkit-text-stroke:0.3px rgb(191,193,248);">1.6</div><div class="b" style="left:1074px;top:627px;width:46px;height:40px;background:rgb(191,193,248)"></div><div class="c" style="left:1074px;top:638px;font-size:22px;line-height:22px;color:#1a1a1a;-webkit-text-stroke:0.3px rgb(191,193,248);">1.6</div><div class="b" style="left:1122px;top:627px;width:46px;height:40px;background:rgb(191,193,248)"></div><div class="c" style="left:1122px;top:638px;font-size:22px;line-height:22px;color:#1a1a1a;-webkit-text-stroke:0.3px rgb(191,193,248);">1.6</div><div class="b" style="left:1170px;top:627px;width:46px;height:40px;background:rgb(191,193,248)"></div><div class="c" style="left:1170px;top:638px;font-size:22px;line-height:22px;color:#1a1a1a;-webkit-text-stroke:0.3px rgb(191,193,248);">1.6</div><div class="b" style="left:1218px;top:627px;width:46px;height:40px;background:rgb(180,183,248)"></div><div class="c" style="left:1218px;top:638px;font-size:22px;line-height:22px;color:#1a1a1a;-webkit-text-stroke:0.3px rgb(180,183,248);">1.8</div><div class="b" style="left:1266px;top:627px;width:46px;height:40px;background:rgb(180,183,248)"></div><div class="c" style="left:1266px;top:638px;font-size:22px;line-height:22px;color:#1a1a1a;-webkit-text-stroke:0.3px rgb(180,183,248);">1.8</div><div class="b" style="left:1314px;top:627px;width:46px;height:40px;background:rgb(176,179,248)"></div><div class="c" style="left:1314px;top:638px;font-size:22px;line-height:22px;color:#1a1a1a;-webkit-text-stroke:0.3px rgb(176,179,248);">1.9</div><div class="b" style="left:1362px;top:627px;width:46px;height:40px;background:rgb(176,179,248)"></div><div class="c" style="left:1362px;top:638px;font-size:22px;line-height:22px;color:#1a1a1a;-webkit-text-stroke:0.3px rgb(176,179,248);">1.9</div><div class="b" style="left:1410px;top:627px;width:46px;height:40px;background:rgb(176,179,248)"></div><div class="c" style="left:1410px;top:638px;font-size:22px;line-height:22px;color:#1a1a1a;-webkit-text-stroke:0.3px rgb(176,179,248);">1.9</div><div class="b" style="left:1458px;top:627px;width:46px;height:40px;background:rgb(176,179,248)"></div><div class="c" style="left:1458px;top:638px;font-size:22px;line-height:22px;color:#1a1a1a;-webkit-text-stroke:0.3px rgb(176,179,248);">1.9</div><div class="b" style="left:1506px;top:627px;width:46px;height:40px;background:rgb(176,179,248)"></div><div class="c" style="left:1506px;top:638px;font-size:22px;line-height:22px;color:#1a1a1a;-webkit-text-stroke:0.3px rgb(176,179,248);">1.9</div><div class="b" style="left:1554px;top:627px;width:46px;height:40px;background:rgb(172,175,247)"></div><div class="c" style="left:1554px;top:638px;font-size:22px;line-height:22px;color:#1a1a1a;-webkit-text-stroke:0.3px rgb(172,175,247);">2</div><div class="b" style="left:1602px;top:627px;width:46px;height:40px;background:rgb(172,175,247)"></div><div class="c" style="left:1602px;top:638px;font-size:22px;line-height:22px;color:#1a1a1a;-webkit-text-stroke:0.3px rgb(172,175,247);">2</div><div class="b" style="left:1650px;top:627px;width:46px;height:40px;background:rgb(168,171,247)"></div><div class="c" style="left:1650px;top:638px;font-size:22px;line-height:22px;color:#1a1a1a;-webkit-text-stroke:0.3px rgb(168,171,247);">2.1</div><div class="b" style="left:1698px;top:627px;width:46px;height:40px;background:rgb(164,167,247)"></div><div class="c" style="left:1698px;top:638px;font-size:22px;line-height:22px;color:#1a1a1a;-webkit-text-stroke:0.3px rgb(164,167,247);">2.2</div><div class="b" style="left:1746px;top:627px;width:46px;height:40px;background:rgb(159,162,246)"></div><div class="c" style="left:1746px;top:638px;font-size:22px;line-height:22px;color:#1a1a1a;-webkit-text-stroke:0.3px rgb(159,162,246);">2.3</div><div class="b" style="left:1794px;top:627px;width:46px;height:40px;background:rgb(159,162,246)"></div><div class="c" style="left:1794px;top:638px;font-size:22px;line-height:22px;color:#1a1a1a;-webkit-text-stroke:0.3px rgb(159,162,246);">2.3</div><div class="b" style="left:1842px;top:627px;width:46px;height:40px;background:rgb(159,162,246)"></div><div class="c" style="left:1842px;top:638px;font-size:22px;line-height:22px;color:#1a1a1a;-webkit-text-stroke:0.3px rgb(159,162,246);">2.3</div><div class="b" style="left:1890px;top:627px;width:46px;height:40px;background:rgb(164,167,247)"></div><div class="c" style="left:1890px;top:638px;font-size:22px;line-height:22px;color:#1a1a1a;-webkit-text-stroke:0.3px rgb(164,167,247);">2.2</div><div class="b" style="left:1938px;top:627px;width:46px;height:40px;background:rgb(164,167,247)"></div><div class="c" style="left:1938px;top:638px;font-size:22px;line-height:22px;color:#1a1a1a;-webkit-text-stroke:0.3px rgb(164,167,247);">2.2</div><div class="b" style="left:1986px;top:627px;width:46px;height:40px;background:rgb(159,162,246)"></div><div class="c" style="left:1986px;top:638px;font-size:22px;line-height:22px;color:#1a1a1a;-webkit-text-stroke:0.3px rgb(159,162,246);">2.3</div><div class="b" style="left:2034px;top:627px;width:46px;height:40px;background:rgb(168,171,247)"></div><div class="c" style="left:2034px;top:638px;font-size:22px;line-height:22px;color:#1a1a1a;-webkit-text-stroke:0.3px rgb(168,171,247);">2.1</div><div class="b" style="left:2082px;top:627px;width:46px;height:40px;background:rgb(168,171,247)"></div><div class="c" style="left:2082px;top:638px;font-size:22px;line-height:22px;color:#1a1a1a;-webkit-text-stroke:0.3px rgb(168,171,247);">2.1</div><div class="b" style="left:2130px;top:627px;width:46px;height:40px;background:rgb(168,171,247)"></div><div class="c" style="left:2130px;top:638px;font-size:22px;line-height:22px;color:#1a1a1a;-webkit-text-stroke:0.3px rgb(168,171,247);">2.1</div><div class="b" style="left:2178px;top:627px;width:46px;height:40px;background:rgb(168,171,247)"></div><div class="c" style="left:2178px;top:638px;font-size:22px;line-height:22px;color:#1a1a1a;-webkit-text-stroke:0.3px rgb(168,171,247);">2.1</div><div class="b" style="left:2226px;top:627px;width:46px;height:40px;background:rgb(168,171,247)"></div><div class="c" style="left:2226px;top:638px;font-size:22px;line-height:22px;color:#1a1a1a;-webkit-text-stroke:0.3px rgb(168,171,247);">2.1</div><div class="b" style="left:2274px;top:627px;width:46px;height:40px;background:rgb(168,171,247)"></div><div class="c" style="left:2274px;top:638px;font-size:22px;line-height:22px;color:#1a1a1a;-webkit-text-stroke:0.3px rgb(168,171,247);">2.1</div><div class="b" style="left:2322px;top:627px;width:46px;height:40px;background:rgb(159,162,246)"></div><div class="c" style="left:2322px;top:638px;font-size:22px;line-height:22px;color:#1a1a1a;-webkit-text-stroke:0.3px rgb(159,162,246);">2.3</div><div class="b" style="left:2370px;top:627px;width:46px;height:40px;background:rgb(159,162,246)"></div><div class="c" style="left:2370px;top:638px;font-size:22px;line-height:22px;color:#1a1a1a;-webkit-text-stroke:0.3px rgb(159,162,246);">2.3</div><div class="b" style="left:2418px;top:627px;width:46px;height:40px;background:rgb(155,158,246)"></div><div class="c" style="left:2418px;top:638px;font-size:22px;line-height:22px;color:#1a1a1a;-webkit-text-stroke:0.3px rgb(155,158,246);">2.4</div><div class="b" style="left:2466px;top:627px;width:46px;height:40px;background:rgb(155,158,246)"></div><div class="c" style="left:2466px;top:638px;font-size:22px;line-height:22px;color:#1a1a1a;-webkit-text-stroke:0.3px rgb(155,158,246);">2.4</div><div class="b" style="left:2514px;top:627px;width:46px;height:40px;background:rgb(159,162,246)"></div><div class="c" style="left:2514px;top:638px;font-size:22px;line-height:22px;color:#1a1a1a;-webkit-text-stroke:0.3px rgb(159,162,246);">2.3</div><div class="b" style="left:2562px;top:627px;width:46px;height:40px;background:rgb(159,162,246)"></div><div class="c" style="left:2562px;top:638px;font-size:22px;line-height:22px;color:#1a1a1a;-webkit-text-stroke:0.3px rgb(159,162,246);">2.3</div><div class="b" style="left:2610px;top:627px;width:46px;height:40px;background:rgb(159,162,246)"></div><div class="c" style="left:2610px;top:638px;font-size:22px;line-height:22px;color:#1a1a1a;-webkit-text-stroke:0.3px rgb(159,162,246);">2.3</div>
<div class="c" style="left:258px;top:680px;font-size:22px;line-height:22px;color:#222;-webkit-text-stroke:0.3px #fff;">10</div><div class="c" style="left:306px;top:680px;font-size:22px;line-height:22px;color:#222;-webkit-text-stroke:0.3px #fff;">10</div><div class="c" style="left:354px;top:680px;font-size:22px;line-height:22px;color:#222;-webkit-text-stroke:0.3px #fff;">10</div><div class="c" style="left:402px;top:680px;font-size:22px;line-height:22px;color:#222;-webkit-text-stroke:0.3px #fff;">10</div><div class="c" style="left:450px;top:680px;font-size:22px;line-height:22px;color:#222;-webkit-text-stroke:0.3px #fff;">10</div><div class="c" style="left:498px;top:680px;font-size:22px;line-height:22px;color:#222;-webkit-text-stroke:0.3px #fff;">10</div><div class="c" style="left:546px;top:680px;font-size:22px;line-height:22px;color:#222;-webkit-text-stroke:0.3px #fff;">10</div><div class="c" style="left:594px;top:680px;font-size:22px;line-height:22px;color:#222;-webkit-text-stroke:0.3px #fff;">10</div><div class="c" style="left:642px;top:680px;font-size:22px;line-height:22px;color:#222;-webkit-text-stroke:0.3px #fff;">9</div><div class="c" style="left:690px;top:680px;font-size:22px;line-height:22px;color:#222;-webkit-text-stroke:0.3px #fff;">9</div><div class="c" style="left:738px;top:680px;font-size:22px;line-height:22px;color:#222;-webkit-text-stroke:0.3px #fff;">9</div><div class="c" style="left:786px;top:680px;font-size:22px;line-height:22px;color:#222;-webkit-text-stroke:0.3px #fff;">9</div><div class="c" style="left:834px;top:680px;font-size:22px;line-height:22px;color:#222;-webkit-text-stroke:0.3px #fff;">9</div><div class="c" style="left:882px;top:680px;font-size:22px;line-height:22px;color:#222;-webkit-text-stroke:0.3px #fff;">9</div><div class="b" style="left:930px;top:669px;width:46px;height:40px;background:rgb(249,223,225)"></div><div class="c" style="left:930px;top:680px;font-size:22px;line-height:22px;color:#222;-webkit-text-stroke:0.25px #111;">12</div><div class="b" style="left:978px;top:669px;width:46px;height:40px;background:rgb(249,223,225)"></div><div class="c" style="left:978px;top:680px;font-size:22px;line-height:22px;color:#222;-webkit-text-stroke:0.25px #111;">12</div><div class="b" style="left:1026px;top:669px;width:46px;height:40px;background:rgb(249,223,225)"></div><div class="c" style="left:1026px;top:680px;font-size:22px;line-height:22px;color:#222;-webkit-text-stroke:0.25px #111;">12</div><div class="b" style="left:1074px;top:669px;width:46px;height:40px;background:rgb(249,223,225)"></div><div class="c" style="left:1074px;top:680px;font-size:22px;line-height:22px;color:#222;-webkit-text-stroke:0.25px #111;">12</div><div class="b" style="left:1122px;top:669px;width:46px;height:40px;background:rgb(249,223,225)"></div><div class="c" style="left:1122px;top:680px;font-size:22px;line-height:22px;color:#222;-webkit-text-stroke:0.25px #111;">12</div><div class="c" style="left:1170px;top:680px;font-size:22px;line-height:22px;color:#222;-webkit-text-stroke:0.3px #fff;">7</div><div class="c" style="left:1218px;top:680px;font-size:22px;line-height:22px;color:#222;-webkit-text-stroke:0.3px #fff;">7</div><div class="c" style="left:1266px;top:680px;font-size:22px;line-height:22px;color:#222;-webkit-text-stroke:0.3px #fff;">7</div><div class="c" style="left:1314px;top:680px;font-size:22px;line-height:22px;color:#222;-webkit-text-stroke:0.3px #fff;">8</div><div class="c" style="left:1362px;top:680px;font-size:22px;line-height:22px;color:#222;-webkit-text-stroke:0.3px #fff;">8</div><div class="c" style="left:1410px;top:680px;font-size:22px;line-height:22px;color:#222;-webkit-text-stroke:0.3px #fff;">8</div><div class="b" style="left:1458px;top:669px;width:46px;height:40px;background:rgb(232,92,92)"></div><div class="c" style="left:1458px;top:680px;font-size:22px;line-height:22px;color:#222;-webkit-text-stroke:0.25px #111;">21</div><div class="b" style="left:1506px;top:669px;width:46px;height:40px;background:rgb(233,98,98)"></div><div class="c" style="left:1506px;top:680px;font-size:22px;line-height:22px;color:#222;-webkit-text-stroke:0.25px #111;">20</div><div class="b" style="left:1554px;top:669px;width:46px;height:40px;background:rgb(234,106,108)"></div><div class="c" style="left:1554px;top:680px;font-size:22px;line-height:22px;color:#222;-webkit-text-stroke:0.25px #111;">19</div><div class="b" style="left:1602px;top:669px;width:46px;height:40px;background:rgb(234,106,108)"></div><div class="c" style="left:1602px;top:680px;font-size:22px;line-height:22px;color:#222;-webkit-text-stroke:0.25px #111;">19</div><div class="b" style="left:1650px;top:669px;width:46px;height:40px;background:rgb(234,106,108)"></div><div class="c" style="left:1650px;top:680px;font-size:22px;line-height:22px;color:#222;-webkit-text-stroke:0.25px #111;">19</div><div class="b" style="left:1698px;top:669px;width:46px;height:40px;background:rgb(236,124,126)"></div><div class="c" style="left:1698px;top:680px;font-size:22px;line-height:22px;color:#222;-webkit-text-stroke:0.25px #111;">18</div><div class="b" style="left:1746px;top:669px;width:46px;height:40px;background:rgb(239,140,140)"></div><div class="c" style="left:1746px;top:680px;font-size:22px;line-height:22px;color:#222;-webkit-text-stroke:0.25px #111;">17</div><div class="b" style="left:1794px;top:669px;width:46px;height:40px;background:rgb(239,140,140)"></div><div class="c" style="left:1794px;top:680px;font-size:22px;line-height:22px;color:#222;-webkit-text-stroke:0.25px #111;">17</div><div class="b" style="left:1842px;top:669px;width:46px;height:40px;background:rgb(240,156,156)"></div><div class="c" style="left:1842px;top:680px;font-size:22px;line-height:22px;color:#222;-webkit-text-stroke:0.25px #111;">16</div><div class="b" style="left:1890px;top:669px;width:46px;height:40px;background:rgb(240,156,156)"></div><div class="c" style="left:1890px;top:680px;font-size:22px;line-height:22px;color:#222;-webkit-text-stroke:0.25px #111;">16</div><div class="b" style="left:1938px;top:669px;width:46px;height:40px;background:rgb(240,156,156)"></div><div class="c" style="left:1938px;top:680px;font-size:22px;line-height:22px;color:#222;-webkit-text-stroke:0.25px #111;">16</div><div class="b" style="left:1986px;top:669px;width:46px;height:40px;background:rgb(242,170,172)"></div><div class="c" style="left:1986px;top:680px;font-size:22px;line-height:22px;color:#222;-webkit-text-stroke:0.25px #111;">15</div><div class="c" style="left:2034px;top:680px;font-size:22px;line-height:22px;color:#222;-webkit-text-stroke:0.3px #fff;">9</div><div class="c" style="left:2082px;top:680px;font-size:22px;line-height:22px;color:#222;-webkit-text-stroke:0.3px #fff;">8</div><div class="c" style="left:2130px;top:680px;font-size:22px;line-height:22px;color:#222;-webkit-text-stroke:0.3px #fff;">8</div><div class="c" style="left:2178px;top:680px;font-size:22px;line-height:22px;color:#222;-webkit-text-stroke:0.3px #fff;">8</div><div class="c" style="left:2226px;top:680px;font-size:22px;line-height:22px;color:#222;-webkit-text-stroke:0.3px #fff;">8</div><div class="c" style="left:2274px;top:680px;font-size:22px;line-height:22px;color:#222;-webkit-text-stroke:0.3px #fff;">8</div><div class="c" style="left:2322px;top:680px;font-size:22px;line-height:22px;color:#222;-webkit-text-stroke:0.3px #fff;">8</div><div class="c" style="left:2370px;top:680px;font-size:22px;line-height:22px;color:#222;-webkit-text-stroke:0.3px #fff;">8</div><div class="c" style="left:2418px;top:680px;font-size:22px;line-height:22px;color:#222;-webkit-text-stroke:0.3px #fff;">8</div><div class="c" style="left:2466px;top:680px;font-size:22px;line-height:22px;color:#222;-webkit-text-stroke:0.3px #fff;">8</div><div class="c" style="left:2514px;top:680px;font-size:22px;line-height:22px;color:#222;-webkit-text-stroke:0.3px #fff;">8</div><div class="c" style="left:2562px;top:680px;font-size:22px;line-height:22px;color:#222;-webkit-text-stroke:0.3px #fff;">9</div><div class="b" style="left:2610px;top:669px;width:46px;height:40px;background:rgb(244,184,186)"></div><div class="c" style="left:2610px;top:680px;font-size:22px;line-height:22px;color:#222;-webkit-text-stroke:0.25px #111;">14</div>
<div class="b" style="left:258px;top:753px;width:46px;height:40px;background:rgb(240,163,58)"></div><div class="c" style="left:258px;top:764px;font-size:22px;line-height:22px;color:#1a1a1a;-webkit-text-stroke:0.3px rgb(240,163,58);">21</div><div class="b" style="left:306px;top:753px;width:46px;height:40px;background:rgb(240,163,58)"></div><div class="c" style="left:306px;top:764px;font-size:22px;line-height:22px;color:#1a1a1a;-webkit-text-stroke:0.3px rgb(240,163,58);">21</div><div class="b" style="left:354px;top:753px;width:46px;height:40px;background:rgb(240,163,58)"></div><div class="c" style="left:354px;top:764px;font-size:22px;line-height:22px;color:#1a1a1a;-webkit-text-stroke:0.3px rgb(240,163,58);">21</div><div class="b" style="left:402px;top:753px;width:46px;height:40px;background:rgb(240,163,58)"></div><div class="c" style="left:402px;top:764px;font-size:22px;line-height:22px;color:#1a1a1a;-webkit-text-stroke:0.3px rgb(240,163,58);">21</div><div class="b" style="left:450px;top:753px;width:46px;height:40px;background:rgb(240,163,58)"></div><div class="c" style="left:450px;top:764px;font-size:22px;line-height:22px;color:#1a1a1a;-webkit-text-stroke:0.3px rgb(240,163,58);">21</div><div class="b" style="left:498px;top:753px;width:46px;height:40px;background:rgb(240,163,58)"></div><div class="c" style="left:498px;top:764px;font-size:22px;line-height:22px;color:#1a1a1a;-webkit-text-stroke:0.3px rgb(240,163,58);">21</div><div class="b" style="left:546px;top:753px;width:46px;height:40px;background:rgb(240,163,58)"></div><div class="c" style="left:546px;top:764px;font-size:22px;line-height:22px;color:#1a1a1a;-webkit-text-stroke:0.3px rgb(240,163,58);">21</div><div class="b" style="left:594px;top:753px;width:46px;height:40px;background:rgb(240,163,58)"></div><div class="c" style="left:594px;top:764px;font-size:22px;line-height:22px;color:#1a1a1a;-webkit-text-stroke:0.3px rgb(240,163,58);">21</div><div class="b" style="left:642px;top:753px;width:46px;height:40px;background:rgb(240,163,58)"></div><div class="c" style="left:642px;top:764px;font-size:22px;line-height:22px;color:#1a1a1a;-webkit-text-stroke:0.3px rgb(240,163,58);">21</div><div class="b" style="left:690px;top:753px;width:46px;height:40px;background:rgb(240,163,58)"></div><div class="c" style="left:690px;top:764px;font-size:22px;line-height:22px;color:#1a1a1a;-webkit-text-stroke:0.3px rgb(240,163,58);">21</div><div class="b" style="left:738px;top:753px;width:46px;height:40px;background:rgb(240,163,58)"></div><div class="c" style="left:738px;top:764px;font-size:22px;line-height:22px;color:#1a1a1a;-webkit-text-stroke:0.3px rgb(240,163,58);">21</div><div class="b" style="left:786px;top:753px;width:46px;height:40px;background:rgb(240,163,58)"></div><div class="c" style="left:786px;top:764px;font-size:22px;line-height:22px;color:#1a1a1a;-webkit-text-stroke:0.3px rgb(240,163,58);">21</div><div class="b" style="left:834px;top:753px;width:46px;height:40px;background:rgb(240,163,58)"></div><div class="c" style="left:834px;top:764px;font-size:22px;line-height:22px;color:#1a1a1a;-webkit-text-stroke:0.3px rgb(240,163,58);">21</div><div class="b" style="left:882px;top:753px;width:46px;height:40px;background:rgb(240,163,58)"></div><div class="c" style="left:882px;top:764px;font-size:22px;line-height:22px;color:#1a1a1a;-webkit-text-stroke:0.3px rgb(240,163,58);">21</div><div class="b" style="left:930px;top:753px;width:46px;height:40px;background:rgb(240,163,58)"></div><div class="c" style="left:930px;top:764px;font-size:22px;line-height:22px;color:#1a1a1a;-webkit-text-stroke:0.3px rgb(240,163,58);">21</div><div class="b" style="left:978px;top:753px;width:46px;height:40px;background:rgb(240,163,58)"></div><div class="c" style="left:978px;top:764px;font-size:22px;line-height:22px;color:#1a1a1a;-webkit-text-stroke:0.3px rgb(240,163,58);">21</div><div class="b" style="left:1026px;top:753px;width:46px;height:40px;background:rgb(240,158,52)"></div><div class="c" style="left:1026px;top:764px;font-size:22px;line-height:22px;color:#1a1a1a;-webkit-text-stroke:0.3px rgb(240,158,52);">22</div><div class="b" style="left:1074px;top:753px;width:46px;height:40px;background:rgb(240,163,58)"></div><div class="c" style="left:1074px;top:764px;font-size:22px;line-height:22px;color:#1a1a1a;-webkit-text-stroke:0.3px rgb(240,163,58);">21</div><div class="b" style="left:1122px;top:753px;width:46px;height:40px;background:rgb(240,163,58)"></div><div class="c" style="left:1122px;top:764px;font-size:22px;line-height:22px;color:#1a1a1a;-webkit-text-stroke:0.3px rgb(240,163,58);">21</div><div class="b" style="left:1170px;top:753px;width:46px;height:40px;background:rgb(240,163,58)"></div><div class="c" style="left:1170px;top:764px;font-size:22px;line-height:22px;color:#1a1a1a;-webkit-text-stroke:0.3px rgb(240,163,58);">21</div><div class="b" style="left:1218px;top:753px;width:46px;height:40px;background:rgb(240,163,58)"></div><div class="c" style="left:1218px;top:764px;font-size:22px;line-height:22px;color:#1a1a1a;-webkit-text-stroke:0.3px rgb(240,163,58);">21</div><div class="b" style="left:1266px;top:753px;width:46px;height:40px;background:rgb(240,163,58)"></div><div class="c" style="left:1266px;top:764px;font-size:22px;line-height:22px;color:#1a1a1a;-webkit-text-stroke:0.3px rgb(240,163,58);">21</div><div class="b" style="left:1314px;top:753px;width:46px;height:40px;background:rgb(240,163,58)"></div><div class="c" style="left:1314px;top:764px;font-size:22px;line-height:22px;color:#1a1a1a;-webkit-text-stroke:0.3px rgb(240,163,58);">21</div><div class="b" style="left:1362px;top:753px;width:46px;height:40px;background:rgb(240,163,58)"></div><div class="c" style="left:1362px;top:764px;font-size:22px;line-height:22px;color:#1a1a1a;-webkit-text-stroke:0.3px rgb(240,163,58);">21</div><div class="b" style="left:1410px;top:753px;width:46px;height:40px;background:rgb(240,163,58)"></div><div class="c" style="left:1410px;top:764px;font-size:22px;line-height:22px;color:#1a1a1a;-webkit-text-stroke:0.3px rgb(240,163,58);">21</div><div class="b" style="left:1458px;top:753px;width:46px;height:40px;background:rgb(240,163,58)"></div><div class="c" style="left:1458px;top:764px;font-size:22px;line-height:22px;color:#1a1a1a;-webkit-text-stroke:0.3px rgb(240,163,58);">21</div><div class="b" style="left:1506px;top:753px;width:46px;height:40px;background:rgb(240,158,52)"></div><div class="c" style="left:1506px;top:764px;font-size:22px;line-height:22px;color:#1a1a1a;-webkit-text-stroke:0.3px rgb(240,158,52);">22</div><div class="b" style="left:1554px;top:753px;width:46px;height:40px;background:rgb(240,163,58)"></div><div class="c" style="left:1554px;top:764px;font-size:22px;line-height:22px;color:#1a1a1a;-webkit-text-stroke:0.3px rgb(240,163,58);">21</div><div class="b" style="left:1602px;top:753px;width:46px;height:40px;background:rgb(240,163,58)"></div><div class="c" style="left:1602px;top:764px;font-size:22px;line-height:22px;color:#1a1a1a;-webkit-text-stroke:0.3px rgb(240,163,58);">21</div><div class="b" style="left:1650px;top:753px;width:46px;height:40px;background:rgb(240,163,58)"></div><div class="c" style="left:1650px;top:764px;font-size:22px;line-height:22px;color:#1a1a1a;-webkit-text-stroke:0.3px rgb(240,163,58);">21</div><div class="b" style="left:1698px;top:753px;width:46px;height:40px;background:rgb(240,163,58)"></div><div class="c" style="left:1698px;top:764px;font-size:22px;line-height:22px;color:#1a1a1a;-webkit-text-stroke:0.3px rgb(240,163,58);">21</div><div class="b" style="left:1746px;top:753px;width:46px;height:40px;background:rgb(240,163,58)"></div><div class="c" style="left:1746px;top:764px;font-size:22px;line-height:22px;color:#1a1a1a;-webkit-text-stroke:0.3px rgb(240,163,58);">21</div><div class="b" style="left:1794px;top:753px;width:46px;height:40px;background:rgb(240,163,58)"></div><div class="c" style="left:1794px;top:764px;font-size:22px;line-height:22px;color:#1a1a1a;-webkit-text-stroke:0.3px rgb(240,163,58);">21</div><div class="b" style="left:1842px;top:753px;width:46px;height:40px;background:rgb(240,163,58)"></div><div class="c" style="left:1842px;top:764px;font-size:22px;line-height:22px;color:#1a1a1a;-webkit-text-stroke:0.3px rgb(240,163,58);">21</div><div class="b" style="left:1890px;top:753px;width:46px;height:40px;background:rgb(240,163,58)"></div><div class="c" style="left:1890px;top:764px;font-size:22px;line-height:22px;color:#1a1a1a;-webkit-text-stroke:0.3px rgb(240,163,58);">21</div><div class="b" style="left:1938px;top:753px;width:46px;height:40px;background:rgb(240,163,58)"></div><div class="c" style="left:1938px;top:764px;font-size:22px;line-height:22px;color:#1a1a1a;-webkit-text-stroke:0.3px rgb(240,163,58);">21</div><div class="b" style="left:1986px;top:753px;width:46px;height:40px;background:rgb(240,163,58)"></div><div class="c" style="left:1986px;top:764px;font-size:22px;line-height:22px;color:#1a1a1a;-webkit-text-stroke:0.3px rgb(240,163,58);">21</div><div class="b" style="left:2034px;top:753px;width:46px;height:40px;background:rgb(240,163,58)"></div><div class="c" style="left:2034px;top:764px;font-size:22px;line-height:22px;color:#1a1a1a;-webkit-text-stroke:0.3px rgb(240,163,58);">21</div><div class="b" style="left:2082px;top:753px;width:46px;height:40px;background:rgb(240,163,58)"></div><div class="c" style="left:2082px;top:764px;font-size:22px;line-height:22px;color:#1a1a1a;-webkit-text-stroke:0.3px rgb(240,163,58);">21</div><div class="b" style="left:2130px;top:753px;width:46px;height:40px;background:rgb(240,163,58)"></div><div class="c" style="left:2130px;top:764px;font-size:22px;line-height:22px;color:#1a1a1a;-webkit-text-stroke:0.3px rgb(240,163,58);">21</div><div class="b" style="left:2178px;top:753px;width:46px;height:40px;background:rgb(240,163,58)"></div><div class="c" style="left:2178px;top:764px;font-size:22px;line-height:22px;color:#1a1a1a;-webkit-text-stroke:0.3px rgb(240,163,58);">21</div><div class="b" style="left:2226px;top:753px;width:46px;height:40px;background:rgb(240,163,58)"></div><div class="c" style="left:2226px;top:764px;font-size:22px;line-height:22px;color:#1a1a1a;-webkit-text-stroke:0.3px rgb(240,163,58);">21</div><div class="b" style="left:2274px;top:753px;width:46px;height:40px;background:rgb(240,163,58)"></div><div class="c" style="left:2274px;top:764px;font-size:22px;line-height:22px;color:#1a1a1a;-webkit-text-stroke:0.3px rgb(240,163,58);">21</div><div class="b" style="left:2322px;top:753px;width:46px;height:40px;background:rgb(240,163,58)"></div><div class="c" style="left:2322px;top:764px;font-size:22px;line-height:22px;color:#1a1a1a;-webkit-text-stroke:0.3px rgb(240,163,58);">21</div><div class="b" style="left:2370px;top:753px;width:46px;height:40px;background:rgb(240,163,58)"></div><div class="c" style="left:2370px;top:764px;font-size:22px;line-height:22px;color:#1a1a1a;-webkit-text-stroke:0.3px rgb(240,163,58);">21</div><div class="b" style="left:2418px;top:753px;width:46px;height:40px;background:rgb(240,163,58)"></div><div class="c" style="left:2418px;top:764px;font-size:22px;line-height:22px;color:#1a1a1a;-webkit-text-stroke:0.3px rgb(240,163,58);">21</div><div class="b" style="left:2466px;top:753px;width:46px;height:40px;background:rgb(240,158,52)"></div><div class="c" style="left:2466px;top:764px;font-size:22px;line-height:22px;color:#1a1a1a;-webkit-text-stroke:0.3px rgb(240,158,52);">22</div><div class="b" style="left:2514px;top:753px;width:46px;height:40px;background:rgb(240,158,52)"></div><div class="c" style="left:2514px;top:764px;font-size:22px;line-height:22px;color:#1a1a1a;-webkit-text-stroke:0.3px rgb(240,158,52);">22</div><div class="b" style="left:2562px;top:753px;width:46px;height:40px;background:rgb(240,163,58)"></div><div class="c" style="left:2562px;top:764px;font-size:22px;line-height:22px;color:#1a1a1a;-webkit-text-stroke:0.3px rgb(240,163,58);">21</div><div class="b" style="left:2610px;top:753px;width:46px;height:40px;background:rgb(240,163,58)"></div><div class="c" style="left:2610px;top:764px;font-size:22px;line-height:22px;color:#1a1a1a;-webkit-text-stroke:0.3px rgb(240,163,58);">21</div>
<svg style="left:0;top:0" width="2618" height="760"><g transform="translate(282 605.8) rotate(21.9)"><path d="M-2.35 -16.8 H2.35 V6.3 H7.55 L0 16.9 L-7.55 6.3 H-2.35 Z" fill="#000"/></g><g transform="translate(282 731.8) rotate(6.5)"><path d="M-2.35 -16.8 H2.35 V6.3 H7.55 L0 16.9 L-7.55 6.3 H-2.35 Z" fill="#000"/></g><g transform="translate(330 605.8) rotate(18.2)"><path d="M-2.35 -16.8 H2.35 V6.3 H7.55 L0 16.9 L-7.55 6.3 H-2.35 Z" fill="#000"/></g><g transform="translate(330 731.8) rotate(7)"><path d="M-2.35 -16.8 H2.35 V6.3 H7.55 L0 16.9 L-7.55 6.3 H-2.35 Z" fill="#000"/></g><g transform="translate(378 605.8) rotate(18.2)"><path d="M-2.35 -16.8 H2.35 V6.3 H7.55 L0 16.9 L-7.55 6.3 H-2.35 Z" fill="#000"/></g><g transform="translate(378 731.8) rotate(6.5)"><path d="M-2.35 -16.8 H2.35 V6.3 H7.55 L0 16.9 L-7.55 6.3 H-2.35 Z" fill="#000"/></g><g transform="translate(426 605.8) rotate(18.8)"><path d="M-2.35 -16.8 H2.35 V6.3 H7.55 L0 16.9 L-7.55 6.3 H-2.35 Z" fill="#000"/></g><g transform="translate(426 731.8) rotate(6.7)"><path d="M-2.35 -16.8 H2.35 V6.3 H7.55 L0 16.9 L-7.55 6.3 H-2.35 Z" fill="#000"/></g><g transform="translate(474 605.8) rotate(20)"><path d="M-2.35 -16.8 H2.35 V6.3 H7.55 L0 16.9 L-7.55 6.3 H-2.35 Z" fill="#000"/></g><g transform="translate(474 731.8) rotate(7)"><path d="M-2.35 -16.8 H2.35 V6.3 H7.55 L0 16.9 L-7.55 6.3 H-2.35 Z" fill="#000"/></g><g transform="translate(522 605.8) rotate(20.6)"><path d="M-2.35 -16.8 H2.35 V6.3 H7.55 L0 16.9 L-7.55 6.3 H-2.35 Z" fill="#000"/></g><g transform="translate(522 731.8) rotate(6.7)"><path d="M-2.35 -16.8 H2.35 V6.3 H7.55 L0 16.9 L-7.55 6.3 H-2.35 Z" fill="#000"/></g><g transform="translate(570 605.8) rotate(20.6)"><path d="M-2.35 -16.8 H2.35 V6.3 H7.55 L0 16.9 L-7.55 6.3 H-2.35 Z" fill="#000"/></g><g transform="translate(570 731.8) rotate(6.7)"><path d="M-2.35 -16.8 H2.35 V6.3 H7.55 L0 16.9 L-7.55 6.3 H-2.35 Z" fill="#000"/></g><g transform="translate(618 605.8) rotate(21.2)"><path d="M-2.35 -16.8 H2.35 V6.3 H7.55 L0 16.9 L-7.55 6.3 H-2.35 Z" fill="#000"/></g><g transform="translate(618 731.8) rotate(6)"><path d="M-2.35 -16.8 H2.35 V6.3 H7.55 L0 16.9 L-7.55 6.3 H-2.35 Z" fill="#000"/></g><g transform="translate(666 605.8) rotate(23)"><path d="M-2.35 -16.8 H2.35 V6.3 H7.55 L0 16.9 L-7.55 6.3 H-2.35 Z" fill="#000"/></g><g transform="translate(666 731.8) rotate(6)"><path d="M-2.35 -16.8 H2.35 V6.3 H7.55 L0 16.9 L-7.55 6.3 H-2.35 Z" fill="#000"/></g><g transform="translate(714 605.8) rotate(25.7)"><path d="M-2.35 -16.8 H2.35 V6.3 H7.55 L0 16.9 L-7.55 6.3 H-2.35 Z" fill="#000"/></g><g transform="translate(714 731.8) rotate(5)"><path d="M-2.35 -16.8 H2.35 V6.3 H7.55 L0 16.9 L-7.55 6.3 H-2.35 Z" fill="#000"/></g><g transform="translate(762 605.8) rotate(23)"><path d="M-2.35 -16.8 H2.35 V6.3 H7.55 L0 16.9 L-7.55 6.3 H-2.35 Z" fill="#000"/></g><g transform="translate(762 731.8) rotate(5)"><path d="M-2.35 -16.8 H2.35 V6.3 H7.55 L0 16.9 L-7.55 6.3 H-2.35 Z" fill="#000"/></g><g transform="translate(810 605.8) rotate(21)"><path d="M-2.35 -16.8 H2.35 V6.3 H7.55 L0 16.9 L-7.55 6.3 H-2.35 Z" fill="#000"/></g><g transform="translate(810 731.8) rotate(3.3)"><path d="M-2.35 -16.8 H2.35 V6.3 H7.55 L0 16.9 L-7.55 6.3 H-2.35 Z" fill="#000"/></g><g transform="translate(858 605.8) rotate(21)"><path d="M-2.35 -16.8 H2.35 V6.3 H7.55 L0 16.9 L-7.55 6.3 H-2.35 Z" fill="#000"/></g><g transform="translate(858 731.8) rotate(3.5)"><path d="M-2.35 -16.8 H2.35 V6.3 H7.55 L0 16.9 L-7.55 6.3 H-2.35 Z" fill="#000"/></g><g transform="translate(906 605.8) rotate(21)"><path d="M-2.35 -16.8 H2.35 V6.3 H7.55 L0 16.9 L-7.55 6.3 H-2.35 Z" fill="#000"/></g><g transform="translate(906 731.8) rotate(3.5)"><path d="M-2.35 -16.8 H2.35 V6.3 H7.55 L0 16.9 L-7.55 6.3 H-2.35 Z" fill="#000"/></g><g transform="translate(954 605.8) rotate(18)"><path d="M-2.35 -16.8 H2.35 V6.3 H7.55 L0 16.9 L-7.55 6.3 H-2.35 Z" fill="#000"/></g><g transform="translate(954 731.8) rotate(-28.6)"><path d="M-2.35 -16.8 H2.35 V6.3 H7.55 L0 16.9 L-7.55 6.3 H-2.35 Z" fill="#000"/></g><g transform="translate(1002 605.8) rotate(15)"><path d="M-2.35 -16.8 H2.35 V6.3 H7.55 L0 16.9 L-7.55 6.3 H-2.35 Z" fill="#000"/></g><g transform="translate(1002 731.8) rotate(-29)"><path d="M-2.35 -16.8 H2.35 V6.3 H7.55 L0 16.9 L-7.55 6.3 H-2.35 Z" fill="#000"/></g><g transform="translate(1050 605.8) rotate(17)"><path d="M-2.35 -16.8 H2.35 V6.3 H7.55 L0 16.9 L-7.55 6.3 H-2.35 Z" fill="#000"/></g><g transform="translate(1050 731.8) rotate(-28.6)"><path d="M-2.35 -16.8 H2.35 V6.3 H7.55 L0 16.9 L-7.55 6.3 H-2.35 Z" fill="#000"/></g><g transform="translate(1098 605.8) rotate(19)"><path d="M-2.35 -16.8 H2.35 V6.3 H7.55 L0 16.9 L-7.55 6.3 H-2.35 Z" fill="#000"/></g><g transform="translate(1098 731.8) rotate(-28.6)"><path d="M-2.35 -16.8 H2.35 V6.3 H7.55 L0 16.9 L-7.55 6.3 H-2.35 Z" fill="#000"/></g><g transform="translate(1146 605.8) rotate(23)"><path d="M-2.35 -16.8 H2.35 V6.3 H7.55 L0 16.9 L-7.55 6.3 H-2.35 Z" fill="#000"/></g><g transform="translate(1146 731.8) rotate(-28.6)"><path d="M-2.35 -16.8 H2.35 V6.3 H7.55 L0 16.9 L-7.55 6.3 H-2.35 Z" fill="#000"/></g><g transform="translate(1194 605.8) rotate(21)"><path d="M-2.35 -16.8 H2.35 V6.3 H7.55 L0 16.9 L-7.55 6.3 H-2.35 Z" fill="#000"/></g><g transform="translate(1194 731.8) rotate(15.8)"><path d="M-2.35 -16.8 H2.35 V6.3 H7.55 L0 16.9 L-7.55 6.3 H-2.35 Z" fill="#000"/></g><g transform="translate(1242 605.8) rotate(13.3)"><path d="M-2.35 -16.8 H2.35 V6.3 H7.55 L0 16.9 L-7.55 6.3 H-2.35 Z" fill="#000"/></g><g transform="translate(1242 731.8) rotate(15.3)"><path d="M-2.35 -16.8 H2.35 V6.3 H7.55 L0 16.9 L-7.55 6.3 H-2.35 Z" fill="#000"/></g><g transform="translate(1290 605.8) rotate(15.3)"><path d="M-2.35 -16.8 H2.35 V6.3 H7.55 L0 16.9 L-7.55 6.3 H-2.35 Z" fill="#000"/></g><g transform="translate(1290 731.8) rotate(11.7)"><path d="M-2.35 -16.8 H2.35 V6.3 H7.55 L0 16.9 L-7.55 6.3 H-2.35 Z" fill="#000"/></g><g transform="translate(1338 605.8) rotate(15)"><path d="M-2.35 -16.8 H2.35 V6.3 H7.55 L0 16.9 L-7.55 6.3 H-2.35 Z" fill="#000"/></g><g transform="translate(1338 731.8) rotate(12)"><path d="M-2.35 -16.8 H2.35 V6.3 H7.55 L0 16.9 L-7.55 6.3 H-2.35 Z" fill="#000"/></g><g transform="translate(1386 605.8) rotate(17.6)"><path d="M-2.35 -16.8 H2.35 V6.3 H7.55 L0 16.9 L-7.55 6.3 H-2.35 Z" fill="#000"/></g><g transform="translate(1386 731.8) rotate(10.8)"><path d="M-2.35 -16.8 H2.35 V6.3 H7.55 L0 16.9 L-7.55 6.3 H-2.35 Z" fill="#000"/></g><g transform="translate(1434 605.8) rotate(21.6)"><path d="M-2.35 -16.8 H2.35 V6.3 H7.55 L0 16.9 L-7.55 6.3 H-2.35 Z" fill="#000"/></g><g transform="translate(1434 731.8) rotate(10.3)"><path d="M-2.35 -16.8 H2.35 V6.3 H7.55 L0 16.9 L-7.55 6.3 H-2.35 Z" fill="#000"/></g><g transform="translate(1482 605.8) rotate(27.7)"><path d="M-2.35 -16.8 H2.35 V6.3 H7.55 L0 16.9 L-7.55 6.3 H-2.35 Z" fill="#000"/></g><g transform="translate(1482 731.8) rotate(-5.4)"><path d="M-2.35 -16.8 H2.35 V6.3 H7.55 L0 16.9 L-7.55 6.3 H-2.35 Z" fill="#000"/></g><g transform="translate(1530 605.8) rotate(27.2)"><path d="M-2.35 -16.8 H2.35 V6.3 H7.55 L0 16.9 L-7.55 6.3 H-2.35 Z" fill="#000"/></g><g transform="translate(1530 731.8) rotate(-5.4)"><path d="M-2.35 -16.8 H2.35 V6.3 H7.55 L0 16.9 L-7.55 6.3 H-2.35 Z" fill="#000"/></g><g transform="translate(1578 605.8) rotate(28)"><path d="M-2.35 -16.8 H2.35 V6.3 H7.55 L0 16.9 L-7.55 6.3 H-2.35 Z" fill="#000"/></g><g transform="translate(1578 731.8) rotate(-5.4)"><path d="M-2.35 -16.8 H2.35 V6.3 H7.55 L0 16.9 L-7.55 6.3 H-2.35 Z" fill="#000"/></g><g transform="translate(1626 605.8) rotate(28)"><path d="M-2.35 -16.8 H2.35 V6.3 H7.55 L0 16.9 L-7.55 6.3 H-2.35 Z" fill="#000"/></g><g transform="translate(1626 731.8) rotate(-7.6)"><path d="M-2.35 -16.8 H2.35 V6.3 H7.55 L0 16.9 L-7.55 6.3 H-2.35 Z" fill="#000"/></g><g transform="translate(1674 605.8) rotate(31)"><path d="M-2.35 -16.8 H2.35 V6.3 H7.55 L0 16.9 L-7.55 6.3 H-2.35 Z" fill="#000"/></g><g transform="translate(1674 731.8) rotate(-7.1)"><path d="M-2.35 -16.8 H2.35 V6.3 H7.55 L0 16.9 L-7.55 6.3 H-2.35 Z" fill="#000"/></g><g transform="translate(1722 605.8) rotate(32.7)"><path d="M-2.35 -16.8 H2.35 V6.3 H7.55 L0 16.9 L-7.55 6.3 H-2.35 Z" fill="#000"/></g><g transform="translate(1722 731.8) rotate(-6.7)"><path d="M-2.35 -16.8 H2.35 V6.3 H7.55 L0 16.9 L-7.55 6.3 H-2.35 Z" fill="#000"/></g><g transform="translate(1770 605.8) rotate(33.8)"><path d="M-2.35 -16.8 H2.35 V6.3 H7.55 L0 16.9 L-7.55 6.3 H-2.35 Z" fill="#000"/></g><g transform="translate(1770 731.8) rotate(-7.6)"><path d="M-2.35 -16.8 H2.35 V6.3 H7.55 L0 16.9 L-7.55 6.3 H-2.35 Z" fill="#000"/></g><g transform="translate(1818 605.8) rotate(41)"><path d="M-2.35 -16.8 H2.35 V6.3 H7.55 L0 16.9 L-7.55 6.3 H-2.35 Z" fill="#000"/></g><g transform="translate(1818 731.8) rotate(-6.2)"><path d="M-2.35 -16.8 H2.35 V6.3 H7.55 L0 16.9 L-7.55 6.3 H-2.35 Z" fill="#000"/></g><g transform="translate(1866 605.8) rotate(38.4)"><path d="M-2.35 -16.8 H2.35 V6.3 H7.55 L0 16.9 L-7.55 6.3 H-2.35 Z" fill="#000"/></g><g transform="translate(1866 731.8) rotate(-5.8)"><path d="M-2.35 -16.8 H2.35 V6.3 H7.55 L0 16.9 L-7.55 6.3 H-2.35 Z" fill="#000"/></g><g transform="translate(1914 605.8) rotate(36)"><path d="M-2.35 -16.8 H2.35 V6.3 H7.55 L0 16.9 L-7.55 6.3 H-2.35 Z" fill="#000"/></g><g transform="translate(1914 731.8) rotate(-6.7)"><path d="M-2.35 -16.8 H2.35 V6.3 H7.55 L0 16.9 L-7.55 6.3 H-2.35 Z" fill="#000"/></g><g transform="translate(1962 605.8) rotate(35)"><path d="M-2.35 -16.8 H2.35 V6.3 H7.55 L0 16.9 L-7.55 6.3 H-2.35 Z" fill="#000"/></g><g transform="translate(1962 731.8) rotate(-6.7)"><path d="M-2.35 -16.8 H2.35 V6.3 H7.55 L0 16.9 L-7.55 6.3 H-2.35 Z" fill="#000"/></g><g transform="translate(2010 605.8) rotate(39)"><path d="M-2.35 -16.8 H2.35 V6.3 H7.55 L0 16.9 L-7.55 6.3 H-2.35 Z" fill="#000"/></g><g transform="translate(2010 731.8) rotate(-6.7)"><path d="M-2.35 -16.8 H2.35 V6.3 H7.55 L0 16.9 L-7.55 6.3 H-2.35 Z" fill="#000"/></g><g transform="translate(2058 605.8) rotate(43.3)"><path d="M-2.35 -16.8 H2.35 V6.3 H7.55 L0 16.9 L-7.55 6.3 H-2.35 Z" fill="#000"/></g><g transform="translate(2058 731.8) rotate(9.9)"><path d="M-2.35 -16.8 H2.35 V6.3 H7.55 L0 16.9 L-7.55 6.3 H-2.35 Z" fill="#000"/></g><g transform="translate(2106 605.8) rotate(42)"><path d="M-2.35 -16.8 H2.35 V6.3 H7.55 L0 16.9 L-7.55 6.3 H-2.35 Z" fill="#000"/></g><g transform="translate(2106 731.8) rotate(9.5)"><path d="M-2.35 -16.8 H2.35 V6.3 H7.55 L0 16.9 L-7.55 6.3 H-2.35 Z" fill="#000"/></g><g transform="translate(2154 605.8) rotate(44.3)"><path d="M-2.35 -16.8 H2.35 V6.3 H7.55 L0 16.9 L-7.55 6.3 H-2.35 Z" fill="#000"/></g><g transform="translate(2154 731.8) rotate(12.3)"><path d="M-2.35 -16.8 H2.35 V6.3 H7.55 L0 16.9 L-7.55 6.3 H-2.35 Z" fill="#000"/></g><g transform="translate(2202 605.8) rotate(42)"><path d="M-2.35 -16.8 H2.35 V6.3 H7.55 L0 16.9 L-7.55 6.3 H-2.35 Z" fill="#000"/></g><g transform="translate(2202 731.8) rotate(13.6)"><path d="M-2.35 -16.8 H2.35 V6.3 H7.55 L0 16.9 L-7.55 6.3 H-2.35 Z" fill="#000"/></g><g transform="translate(2250 605.8) rotate(40.7)"><path d="M-2.35 -16.8 H2.35 V6.3 H7.55 L0 16.9 L-7.55 6.3 H-2.35 Z" fill="#000"/></g><g transform="translate(2250 731.8) rotate(14.5)"><path d="M-2.35 -16.8 H2.35 V6.3 H7.55 L0 16.9 L-7.55 6.3 H-2.35 Z" fill="#000"/></g><g transform="translate(2298 605.8) rotate(40.7)"><path d="M-2.35 -16.8 H2.35 V6.3 H7.55 L0 16.9 L-7.55 6.3 H-2.35 Z" fill="#000"/></g><g transform="translate(2298 731.8) rotate(14.9)"><path d="M-2.35 -16.8 H2.35 V6.3 H7.55 L0 16.9 L-7.55 6.3 H-2.35 Z" fill="#000"/></g><g transform="translate(2346 605.8) rotate(40.5)"><path d="M-2.35 -16.8 H2.35 V6.3 H7.55 L0 16.9 L-7.55 6.3 H-2.35 Z" fill="#000"/></g><g transform="translate(2346 731.8) rotate(21.4)"><path d="M-2.35 -16.8 H2.35 V6.3 H7.55 L0 16.9 L-7.55 6.3 H-2.35 Z" fill="#000"/></g><g transform="translate(2394 605.8) rotate(40.7)"><path d="M-2.35 -16.8 H2.35 V6.3 H7.55 L0 16.9 L-7.55 6.3 H-2.35 Z" fill="#000"/></g><g transform="translate(2394 731.8) rotate(22.7)"><path d="M-2.35 -16.8 H2.35 V6.3 H7.55 L0 16.9 L-7.55 6.3 H-2.35 Z" fill="#000"/></g><g transform="translate(2442 605.8) rotate(44.3)"><path d="M-2.35 -16.8 H2.35 V6.3 H7.55 L0 16.9 L-7.55 6.3 H-2.35 Z" fill="#000"/></g><g transform="translate(2442 731.8) rotate(24.8)"><path d="M-2.35 -16.8 H2.35 V6.3 H7.55 L0 16.9 L-7.55 6.3 H-2.35 Z" fill="#000"/></g><g transform="translate(2490 605.8) rotate(43.6)"><path d="M-2.35 -16.8 H2.35 V6.3 H7.55 L0 16.9 L-7.55 6.3 H-2.35 Z" fill="#000"/></g><g transform="translate(2490 731.8) rotate(25.6)"><path d="M-2.35 -16.8 H2.35 V6.3 H7.55 L0 16.9 L-7.55 6.3 H-2.35 Z" fill="#000"/></g><g transform="translate(2538 605.8) rotate(43)"><path d="M-2.35 -16.8 H2.35 V6.3 H7.55 L0 16.9 L-7.55 6.3 H-2.35 Z" fill="#000"/></g><g transform="translate(2538 731.8) rotate(27.8)"><path d="M-2.35 -16.8 H2.35 V6.3 H7.55 L0 16.9 L-7.55 6.3 H-2.35 Z" fill="#000"/></g><g transform="translate(2586 605.8) rotate(41.2)"><path d="M-2.35 -16.8 H2.35 V6.3 H7.55 L0 16.9 L-7.55 6.3 H-2.35 Z" fill="#000"/></g><g transform="translate(2586 731.8) rotate(27.2)"><path d="M-2.35 -16.8 H2.35 V6.3 H7.55 L0 16.9 L-7.55 6.3 H-2.35 Z" fill="#000"/></g><g transform="translate(2634 605.8) rotate(41)"><path d="M-2.35 -16.8 H2.35 V6.3 H7.55 L0 16.9 L-7.55 6.3 H-2.35 Z" fill="#000"/></g><g transform="translate(2634 731.8) rotate(28)"><path d="M-2.35 -16.8 H2.35 V6.3 H7.55 L0 16.9 L-7.55 6.3 H-2.35 Z" fill="#000"/></g></svg>
<div class="b" style="left:594px;top:795px;width:46px;height:38px;background:#fafafa"></div><div class="b" style="left:642px;top:795px;width:46px;height:38px;background:#fafafa"></div><div class="b" style="left:834px;top:795px;width:46px;height:38px;background:#fafafa"></div><div class="b" style="left:882px;top:795px;width:46px;height:38px;background:rgb(196,196,196)"></div><div class="c" style="left:882px;top:806px;font-size:22px;line-height:22px;color:#1c1c1c;-webkit-text-stroke:0.3px rgb(196,196,196);">44</div><div class="b" style="left:930px;top:795px;width:46px;height:38px;background:rgb(200,200,200)"></div><div class="c" style="left:930px;top:806px;font-size:22px;line-height:22px;color:#1c1c1c;-webkit-text-stroke:0.3px rgb(200,200,200);">41</div><div class="b" style="left:978px;top:795px;width:46px;height:38px;background:rgb(210,210,210)"></div><div class="c" style="left:978px;top:806px;font-size:22px;line-height:22px;color:#1c1c1c;-webkit-text-stroke:0.3px rgb(210,210,210);">33</div><div class="b" style="left:1074px;top:795px;width:46px;height:38px;background:rgb(202,202,202)"></div><div class="c" style="left:1074px;top:806px;font-size:22px;line-height:22px;color:#1c1c1c;-webkit-text-stroke:0.3px rgb(202,202,202);">39</div><div class="b" style="left:1122px;top:795px;width:46px;height:38px;background:#fafafa"></div><div class="b" style="left:1218px;top:795px;width:46px;height:38px;background:rgb(173,173,173)"></div><div class="c" style="left:1218px;top:806px;font-size:22px;line-height:22px;color:#1c1c1c;-webkit-text-stroke:0.3px rgb(173,173,173);">61</div><div class="b" style="left:1266px;top:795px;width:46px;height:38px;background:rgb(248,248,248)"></div><div class="c" style="left:1266px;top:806px;font-size:22px;line-height:22px;color:#1c1c1c;-webkit-text-stroke:0.3px rgb(248,248,248);">5</div><div class="b" style="left:1314px;top:795px;width:46px;height:38px;background:rgb(227,227,227)"></div><div class="c" style="left:1314px;top:806px;font-size:22px;line-height:22px;color:#1c1c1c;-webkit-text-stroke:0.3px rgb(227,227,227);">21</div><div class="b" style="left:1362px;top:795px;width:46px;height:38px;background:#fafafa"></div><div class="b" style="left:1794px;top:795px;width:46px;height:38px;background:rgb(221,221,221)"></div><div class="c" style="left:1794px;top:806px;font-size:22px;line-height:22px;color:#1c1c1c;-webkit-text-stroke:0.3px rgb(221,221,221);">25</div><div class="b" style="left:1890px;top:795px;width:46px;height:38px;background:#fafafa"></div><div class="b" style="left:2130px;top:795px;width:46px;height:38px;background:#fafafa"></div>
<div class="b" style="left:258px;top:833px;width:46px;height:38px;background:rgb(242,242,242)"></div><div class="c" style="left:258px;top:844px;font-size:22px;line-height:22px;color:#1c1c1c;-webkit-text-stroke:0.3px rgb(242,242,242);">10</div><div class="b" style="left:306px;top:833px;width:46px;height:38px;background:rgb(242,242,242)"></div><div class="c" style="left:306px;top:844px;font-size:22px;line-height:22px;color:#1c1c1c;-webkit-text-stroke:0.3px rgb(242,242,242);">10</div><div class="b" style="left:354px;top:833px;width:46px;height:38px;background:rgb(213,213,213)"></div><div class="c" style="left:354px;top:844px;font-size:22px;line-height:22px;color:#1c1c1c;-webkit-text-stroke:0.3px rgb(213,213,213);">31</div><div class="b" style="left:402px;top:833px;width:46px;height:38px;background:rgb(142,142,142)"></div><div class="c" style="left:402px;top:844px;font-size:22px;line-height:22px;color:#1c1c1c;-webkit-text-stroke:0.3px rgb(142,142,142);">84</div><div class="b" style="left:450px;top:833px;width:46px;height:38px;background:rgb(217,217,217)"></div><div class="c" style="left:450px;top:844px;font-size:22px;line-height:22px;color:#1c1c1c;-webkit-text-stroke:0.3px rgb(217,217,217);">28</div><div class="b" style="left:498px;top:833px;width:46px;height:38px;background:#fafafa"></div><div class="b" style="left:546px;top:833px;width:46px;height:38px;background:#fafafa"></div><div class="b" style="left:690px;top:833px;width:46px;height:38px;background:rgb(239,239,239)"></div><div class="c" style="left:690px;top:844px;font-size:22px;line-height:22px;color:#1c1c1c;-webkit-text-stroke:0.3px rgb(239,239,239);">12</div><div class="b" style="left:738px;top:833px;width:46px;height:38px;background:rgb(231,231,231)"></div><div class="c" style="left:738px;top:844px;font-size:22px;line-height:22px;color:#1c1c1c;-webkit-text-stroke:0.3px rgb(231,231,231);">18</div><div class="b" style="left:786px;top:833px;width:46px;height:38px;background:rgb(231,231,231)"></div><div class="c" style="left:786px;top:844px;font-size:22px;line-height:22px;color:#1c1c1c;-webkit-text-stroke:0.3px rgb(231,231,231);">18</div><div class="b" style="left:834px;top:833px;width:46px;height:38px;background:rgb(233,233,233)"></div><div class="c" style="left:834px;top:844px;font-size:22px;line-height:22px;color:#1c1c1c;-webkit-text-stroke:0.3px rgb(233,233,233);">16</div><div class="b" style="left:882px;top:833px;width:46px;height:38px;background:rgb(236,236,236)"></div><div class="c" style="left:882px;top:844px;font-size:22px;line-height:22px;color:#1c1c1c;-webkit-text-stroke:0.3px rgb(236,236,236);">14</div><div class="b" style="left:930px;top:833px;width:46px;height:38px;background:rgb(236,236,236)"></div><div class="c" style="left:930px;top:844px;font-size:22px;line-height:22px;color:#1c1c1c;-webkit-text-stroke:0.3px rgb(236,236,236);">14</div><div class="b" style="left:1026px;top:833px;width:46px;height:38px;background:rgb(242,242,242)"></div><div class="c" style="left:1026px;top:844px;font-size:22px;line-height:22px;color:#1c1c1c;-webkit-text-stroke:0.3px rgb(242,242,242);">10</div><div class="b" style="left:1074px;top:833px;width:46px;height:38px;background:rgb(242,242,242)"></div><div class="c" style="left:1074px;top:844px;font-size:22px;line-height:22px;color:#1c1c1c;-webkit-text-stroke:0.3px rgb(242,242,242);">10</div><div class="b" style="left:1266px;top:833px;width:46px;height:38px;background:#fafafa"></div>
<div class="b" style="left:258px;top:871px;width:46px;height:38px;background:rgb(233,233,233)"></div><div class="c" style="left:258px;top:882px;font-size:22px;line-height:22px;color:#1c1c1c;-webkit-text-stroke:0.3px rgb(233,233,233);">16</div><div class="b" style="left:306px;top:871px;width:46px;height:38px;background:rgb(239,239,239)"></div><div class="c" style="left:306px;top:882px;font-size:22px;line-height:22px;color:#1c1c1c;-webkit-text-stroke:0.3px rgb(239,239,239);">12</div><div class="b" style="left:354px;top:871px;width:46px;height:38px;background:rgb(233,233,233)"></div><div class="c" style="left:354px;top:882px;font-size:22px;line-height:22px;color:#1c1c1c;-webkit-text-stroke:0.3px rgb(233,233,233);">16</div><div class="b" style="left:402px;top:871px;width:46px;height:38px;background:rgb(228,228,228)"></div><div class="c" style="left:402px;top:882px;font-size:22px;line-height:22px;color:#1c1c1c;-webkit-text-stroke:0.3px rgb(228,228,228);">20</div><div class="b" style="left:450px;top:871px;width:46px;height:38px;background:rgb(224,224,224)"></div><div class="c" style="left:450px;top:882px;font-size:22px;line-height:22px;color:#1c1c1c;-webkit-text-stroke:0.3px rgb(224,224,224);">23</div><div class="b" style="left:498px;top:871px;width:46px;height:38px;background:rgb(232,232,232)"></div><div class="c" style="left:498px;top:882px;font-size:22px;line-height:22px;color:#1c1c1c;-webkit-text-stroke:0.3px rgb(232,232,232);">17</div><div class="b" style="left:546px;top:871px;width:46px;height:38px;background:rgb(235,235,235)"></div><div class="c" style="left:546px;top:882px;font-size:22px;line-height:22px;color:#1c1c1c;-webkit-text-stroke:0.3px rgb(235,235,235);">15</div><div class="b" style="left:594px;top:871px;width:46px;height:38px;background:rgb(232,232,232)"></div><div class="c" style="left:594px;top:882px;font-size:22px;line-height:22px;color:#1c1c1c;-webkit-text-stroke:0.3px rgb(232,232,232);">17</div><div class="b" style="left:642px;top:871px;width:46px;height:38px;background:rgb(228,228,228)"></div><div class="c" style="left:642px;top:882px;font-size:22px;line-height:22px;color:#1c1c1c;-webkit-text-stroke:0.3px rgb(228,228,228);">20</div><div class="b" style="left:690px;top:871px;width:46px;height:38px;background:rgb(229,229,229)"></div><div class="c" style="left:690px;top:882px;font-size:22px;line-height:22px;color:#1c1c1c;-webkit-text-stroke:0.3px rgb(229,229,229);">19</div><div class="b" style="left:738px;top:871px;width:46px;height:38px;background:rgb(242,242,242)"></div><div class="c" style="left:738px;top:882px;font-size:22px;line-height:22px;color:#1c1c1c;-webkit-text-stroke:0.3px rgb(242,242,242);">10</div><div class="b" style="left:786px;top:871px;width:46px;height:38px;background:rgb(243,243,243)"></div><div class="c" style="left:786px;top:882px;font-size:22px;line-height:22px;color:#1c1c1c;-webkit-text-stroke:0.3px rgb(243,243,243);">9</div><div class="b" style="left:834px;top:871px;width:46px;height:38px;background:rgb(231,231,231)"></div><div class="c" style="left:834px;top:882px;font-size:22px;line-height:22px;color:#1c1c1c;-webkit-text-stroke:0.3px rgb(231,231,231);">18</div><div class="b" style="left:882px;top:871px;width:46px;height:38px;background:rgb(229,229,229)"></div><div class="c" style="left:882px;top:882px;font-size:22px;line-height:22px;color:#1c1c1c;-webkit-text-stroke:0.3px rgb(229,229,229);">19</div><div class="b" style="left:930px;top:871px;width:46px;height:38px;background:rgb(235,235,235)"></div><div class="c" style="left:930px;top:882px;font-size:22px;line-height:22px;color:#1c1c1c;-webkit-text-stroke:0.3px rgb(235,235,235);">15</div><div class="b" style="left:978px;top:871px;width:46px;height:38px;background:rgb(227,227,227)"></div><div class="c" style="left:978px;top:882px;font-size:22px;line-height:22px;color:#1c1c1c;-webkit-text-stroke:0.3px rgb(227,227,227);">21</div><div class="b" style="left:1026px;top:871px;width:46px;height:38px;background:rgb(220,220,220)"></div><div class="c" style="left:1026px;top:882px;font-size:22px;line-height:22px;color:#1c1c1c;-webkit-text-stroke:0.3px rgb(220,220,220);">26</div><div class="b" style="left:1074px;top:871px;width:46px;height:38px;background:rgb(220,220,220)"></div><div class="c" style="left:1074px;top:882px;font-size:22px;line-height:22px;color:#1c1c1c;-webkit-text-stroke:0.3px rgb(220,220,220);">26</div><div class="b" style="left:1122px;top:871px;width:46px;height:38px;background:rgb(227,227,227)"></div><div class="c" style="left:1122px;top:882px;font-size:22px;line-height:22px;color:#1c1c1c;-webkit-text-stroke:0.3px rgb(227,227,227);">21</div><div class="b" style="left:1170px;top:871px;width:46px;height:38px;background:rgb(186,186,186)"></div><div class="c" style="left:1170px;top:882px;font-size:22px;line-height:22px;color:#1c1c1c;-webkit-text-stroke:0.3px rgb(186,186,186);">51</div><div class="b" style="left:1218px;top:871px;width:46px;height:38px;background:rgb(147,147,147)"></div><div class="c" style="left:1218px;top:882px;font-size:22px;line-height:22px;color:#1c1c1c;-webkit-text-stroke:0.3px rgb(147,147,147);">80</div><div class="b" style="left:1266px;top:871px;width:46px;height:38px;background:rgb(202,202,202)"></div><div class="c" style="left:1266px;top:882px;font-size:22px;line-height:22px;color:#1c1c1c;-webkit-text-stroke:0.3px rgb(202,202,202);">39</div><div class="b" style="left:1314px;top:871px;width:46px;height:38px;background:rgb(212,212,212)"></div><div class="c" style="left:1314px;top:882px;font-size:22px;line-height:22px;color:#1c1c1c;-webkit-text-stroke:0.3px rgb(212,212,212);">32</div><div class="b" style="left:1362px;top:871px;width:46px;height:38px;background:rgb(158,158,158)"></div><div class="c" style="left:1362px;top:882px;font-size:22px;line-height:22px;color:#1c1c1c;-webkit-text-stroke:0.3px rgb(158,158,158);">72</div><div class="b" style="left:1410px;top:871px;width:46px;height:38px;background:rgb(237,237,237)"></div><div class="c" style="left:1410px;top:882px;font-size:22px;line-height:22px;color:#1c1c1c;-webkit-text-stroke:0.3px rgb(237,237,237);">13</div><div class="b" style="left:1458px;top:871px;width:46px;height:38px;background:rgb(235,235,235)"></div><div class="c" style="left:1458px;top:882px;font-size:22px;line-height:22px;color:#1c1c1c;-webkit-text-stroke:0.3px rgb(235,235,235);">15</div><div class="b" style="left:1506px;top:871px;width:46px;height:38px;background:rgb(216,216,216)"></div><div class="c" style="left:1506px;top:882px;font-size:22px;line-height:22px;color:#1c1c1c;-webkit-text-stroke:0.3px rgb(216,216,216);">29</div><div class="b" style="left:1554px;top:871px;width:46px;height:38px;background:rgb(216,216,216)"></div><div class="c" style="left:1554px;top:882px;font-size:22px;line-height:22px;color:#1c1c1c;-webkit-text-stroke:0.3px rgb(216,216,216);">29</div><div class="b" style="left:1602px;top:871px;width:46px;height:38px;background:rgb(224,224,224)"></div><div class="c" style="left:1602px;top:882px;font-size:22px;line-height:22px;color:#1c1c1c;-webkit-text-stroke:0.3px rgb(224,224,224);">23</div><div class="b" style="left:1650px;top:871px;width:46px;height:38px;background:rgb(229,229,229)"></div><div class="c" style="left:1650px;top:882px;font-size:22px;line-height:22px;color:#1c1c1c;-webkit-text-stroke:0.3px rgb(229,229,229);">19</div><div class="b" style="left:1698px;top:871px;width:46px;height:38px;background:rgb(235,235,235)"></div><div class="c" style="left:1698px;top:882px;font-size:22px;line-height:22px;color:#1c1c1c;-webkit-text-stroke:0.3px rgb(235,235,235);">15</div><div class="b" style="left:1746px;top:871px;width:46px;height:38px;background:rgb(158,158,158)"></div><div class="c" style="left:1746px;top:882px;font-size:22px;line-height:22px;color:#1c1c1c;-webkit-text-stroke:0.3px rgb(158,158,158);">72</div><div class="b" style="left:1794px;top:871px;width:46px;height:38px;background:rgb(214,214,214)"></div><div class="c" style="left:1794px;top:882px;font-size:22px;line-height:22px;color:#1c1c1c;-webkit-text-stroke:0.3px rgb(214,214,214);">30</div><div class="b" style="left:1842px;top:871px;width:46px;height:38px;background:rgb(247,247,247)"></div><div class="c" style="left:1842px;top:882px;font-size:22px;line-height:22px;color:#1c1c1c;-webkit-text-stroke:0.3px rgb(247,247,247);">6</div><div class="b" style="left:1890px;top:871px;width:46px;height:38px;background:rgb(217,217,217)"></div><div class="c" style="left:1890px;top:882px;font-size:22px;line-height:22px;color:#1c1c1c;-webkit-text-stroke:0.3px rgb(217,217,217);">28</div><div class="b" style="left:1986px;top:871px;width:46px;height:38px;background:rgb(217,217,217)"></div><div class="c" style="left:1986px;top:882px;font-size:22px;line-height:22px;color:#1c1c1c;-webkit-text-stroke:0.3px rgb(217,217,217);">28</div><div class="b" style="left:2034px;top:871px;width:46px;height:38px;background:rgb(173,173,173)"></div><div class="c" style="left:2034px;top:882px;font-size:22px;line-height:22px;color:#1c1c1c;-webkit-text-stroke:0.3px rgb(173,173,173);">61</div><div class="b" style="left:2082px;top:871px;width:46px;height:38px;background:rgb(228,228,228)"></div><div class="c" style="left:2082px;top:882px;font-size:22px;line-height:22px;color:#1c1c1c;-webkit-text-stroke:0.3px rgb(228,228,228);">20</div><div class="b" style="left:2130px;top:871px;width:46px;height:38px;background:rgb(231,231,231)"></div><div class="c" style="left:2130px;top:882px;font-size:22px;line-height:22px;color:#1c1c1c;-webkit-text-stroke:0.3px rgb(231,231,231);">18</div><div class="b" style="left:2178px;top:871px;width:46px;height:38px;background:rgb(231,231,231)"></div><div class="c" style="left:2178px;top:882px;font-size:22px;line-height:22px;color:#1c1c1c;-webkit-text-stroke:0.3px rgb(231,231,231);">18</div><div class="b" style="left:2226px;top:871px;width:46px;height:38px;background:rgb(228,228,228)"></div><div class="c" style="left:2226px;top:882px;font-size:22px;line-height:22px;color:#1c1c1c;-webkit-text-stroke:0.3px rgb(228,228,228);">20</div><div class="b" style="left:2274px;top:871px;width:46px;height:38px;background:rgb(232,232,232)"></div><div class="c" style="left:2274px;top:882px;font-size:22px;line-height:22px;color:#1c1c1c;-webkit-text-stroke:0.3px rgb(232,232,232);">17</div><div class="b" style="left:2322px;top:871px;width:46px;height:38px;background:rgb(150,150,150)"></div><div class="c" style="left:2322px;top:882px;font-size:22px;line-height:22px;color:#1c1c1c;-webkit-text-stroke:0.3px rgb(150,150,150);">78</div><div class="b" style="left:2370px;top:871px;width:46px;height:38px;background:rgb(202,202,202)"></div><div class="c" style="left:2370px;top:882px;font-size:22px;line-height:22px;color:#1c1c1c;-webkit-text-stroke:0.3px rgb(202,202,202);">39</div><div class="b" style="left:2418px;top:871px;width:46px;height:38px;background:rgb(233,233,233)"></div><div class="c" style="left:2418px;top:882px;font-size:22px;line-height:22px;color:#1c1c1c;-webkit-text-stroke:0.3px rgb(233,233,233);">16</div><div class="b" style="left:2466px;top:871px;width:46px;height:38px;background:rgb(220,220,220)"></div><div class="c" style="left:2466px;top:882px;font-size:22px;line-height:22px;color:#1c1c1c;-webkit-text-stroke:0.3px rgb(220,220,220);">26</div><div class="b" style="left:2514px;top:871px;width:46px;height:38px;background:rgb(225,225,225)"></div><div class="c" style="left:2514px;top:882px;font-size:22px;line-height:22px;color:#1c1c1c;-webkit-text-stroke:0.3px rgb(225,225,225);">22</div><div class="b" style="left:2562px;top:871px;width:46px;height:38px;background:rgb(216,216,216)"></div><div class="c" style="left:2562px;top:882px;font-size:22px;line-height:22px;color:#1c1c1c;-webkit-text-stroke:0.3px rgb(216,216,216);">29</div><div class="b" style="left:2610px;top:871px;width:46px;height:38px;background:rgb(208,208,208)"></div><div class="c" style="left:2610px;top:882px;font-size:22px;line-height:22px;color:#1c1c1c;-webkit-text-stroke:0.3px rgb(208,208,208);">35</div>
<svg style="left:0;top:0" width="2618" height="1162"><g fill="#eecb45"><polygon points="281.00,980.50 284.88,992.26 297.26,992.32 287.28,999.64 291.05,1011.43 281.00,1004.20 270.95,1011.43 274.72,999.64 264.74,992.32 277.12,992.26"/><polygon points="329.00,980.50 332.88,992.26 345.26,992.32 335.28,999.64 339.05,1011.43 329.00,1004.20 318.95,1011.43 322.72,999.64 312.74,992.32 325.12,992.26"/><polygon points="377.00,980.50 380.88,992.26 393.26,992.32 383.28,999.64 387.05,1011.43 377.00,1004.20 366.95,1011.43 370.72,999.64 360.74,992.32 373.12,992.26"/><polygon points="425.00,966.70 428.88,978.46 441.26,978.52 431.28,985.84 435.05,997.63 425.00,990.40 414.95,997.63 418.72,985.84 408.74,978.52 421.12,978.46"/><polygon points="425.00,994.20 428.88,1005.96 441.26,1006.02 431.28,1013.34 435.05,1025.13 425.00,1017.90 414.95,1025.13 418.72,1013.34 408.74,1006.02 421.12,1005.96"/><polygon points="473.00,966.70 476.88,978.46 489.26,978.52 479.28,985.84 483.05,997.63 473.00,990.40 462.95,997.63 466.72,985.84 456.74,978.52 469.12,978.46"/><polygon points="473.00,994.20 476.88,1005.96 489.26,1006.02 479.28,1013.34 483.05,1025.13 473.00,1017.90 462.95,1025.13 466.72,1013.34 456.74,1006.02 469.12,1005.96"/><polygon points="521.00,966.70 524.88,978.46 537.26,978.52 527.28,985.84 531.05,997.63 521.00,990.40 510.95,997.63 514.72,985.84 504.74,978.52 517.12,978.46"/><polygon points="521.00,994.20 524.88,1005.96 537.26,1006.02 527.28,1013.34 531.05,1025.13 521.00,1017.90 510.95,1025.13 514.72,1013.34 504.74,1006.02 517.12,1005.96"/><polygon points="569.00,966.70 572.88,978.46 585.26,978.52 575.28,985.84 579.05,997.63 569.00,990.40 558.95,997.63 562.72,985.84 552.74,978.52 565.12,978.46"/><polygon points="569.00,994.20 572.88,1005.96 585.26,1006.02 575.28,1013.34 579.05,1025.13 569.00,1017.90 558.95,1025.13 562.72,1013.34 552.74,1006.02 565.12,1005.96"/><polygon points="617.00,966.70 620.88,978.46 633.26,978.52 623.28,985.84 627.05,997.63 617.00,990.40 606.95,997.63 610.72,985.84 600.74,978.52 613.12,978.46"/><polygon points="617.00,994.20 620.88,1005.96 633.26,1006.02 623.28,1013.34 627.05,1025.13 617.00,1017.90 606.95,1025.13 610.72,1013.34 600.74,1006.02 613.12,1005.96"/><polygon points="665.00,966.70 668.88,978.46 681.26,978.52 671.28,985.84 675.05,997.63 665.00,990.40 654.95,997.63 658.72,985.84 648.74,978.52 661.12,978.46"/><polygon points="665.00,994.20 668.88,1005.96 681.26,1006.02 671.28,1013.34 675.05,1025.13 665.00,1017.90 654.95,1025.13 658.72,1013.34 648.74,1006.02 661.12,1005.96"/><polygon points="713.00,966.70 716.88,978.46 729.26,978.52 719.28,985.84 723.05,997.63 713.00,990.40 702.95,997.63 706.72,985.84 696.74,978.52 709.12,978.46"/><polygon points="713.00,994.20 716.88,1005.96 729.26,1006.02 719.28,1013.34 723.05,1025.13 713.00,1017.90 702.95,1025.13 706.72,1013.34 696.74,1006.02 709.12,1005.96"/><polygon points="761.00,980.50 764.88,992.26 777.26,992.32 767.28,999.64 771.05,1011.43 761.00,1004.20 750.95,1011.43 754.72,999.64 744.74,992.32 757.12,992.26"/><polygon points="809.00,980.50 812.88,992.26 825.26,992.32 815.28,999.64 819.05,1011.43 809.00,1004.20 798.95,1011.43 802.72,999.64 792.74,992.32 805.12,992.26"/><polygon points="857.00,980.50 860.88,992.26 873.26,992.32 863.28,999.64 867.05,1011.43 857.00,1004.20 846.95,1011.43 850.72,999.64 840.74,992.32 853.12,992.26"/><polygon points="905.00,980.50 908.88,992.26 921.26,992.32 911.28,999.64 915.05,1011.43 905.00,1004.20 894.95,1011.43 898.72,999.64 888.74,992.32 901.12,992.26"/><polygon points="953.00,966.70 956.88,978.46 969.26,978.52 959.28,985.84 963.05,997.63 953.00,990.40 942.95,997.63 946.72,985.84 936.74,978.52 949.12,978.46"/><polygon points="953.00,994.20 956.88,1005.96 969.26,1006.02 959.28,1013.34 963.05,1025.13 953.00,1017.90 942.95,1025.13 946.72,1013.34 936.74,1006.02 949.12,1005.96"/><polygon points="1001.00,966.70 1004.88,978.46 1017.26,978.52 1007.28,985.84 1011.05,997.63 1001.00,990.40 990.95,997.63 994.72,985.84 984.74,978.52 997.12,978.46"/><polygon points="1001.00,994.20 1004.88,1005.96 1017.26,1006.02 1007.28,1013.34 1011.05,1025.13 1001.00,1017.90 990.95,1025.13 994.72,1013.34 984.74,1006.02 997.12,1005.96"/><polygon points="1049.00,966.70 1052.88,978.46 1065.26,978.52 1055.28,985.84 1059.05,997.63 1049.00,990.40 1038.95,997.63 1042.72,985.84 1032.74,978.52 1045.12,978.46"/><polygon points="1049.00,994.20 1052.88,1005.96 1065.26,1006.02 1055.28,1013.34 1059.05,1025.13 1049.00,1017.90 1038.95,1025.13 1042.72,1013.34 1032.74,1006.02 1045.12,1005.96"/><polygon points="1097.00,966.70 1100.88,978.46 1113.26,978.52 1103.28,985.84 1107.05,997.63 1097.00,990.40 1086.95,997.63 1090.72,985.84 1080.74,978.52 1093.12,978.46"/><polygon points="1097.00,994.20 1100.88,1005.96 1113.26,1006.02 1103.28,1013.34 1107.05,1025.13 1097.00,1017.90 1086.95,1025.13 1090.72,1013.34 1080.74,1006.02 1093.12,1005.96"/><polygon points="1145.00,966.70 1148.88,978.46 1161.26,978.52 1151.28,985.84 1155.05,997.63 1145.00,990.40 1134.95,997.63 1138.72,985.84 1128.74,978.52 1141.12,978.46"/><polygon points="1145.00,994.20 1148.88,1005.96 1161.26,1006.02 1151.28,1013.34 1155.05,1025.13 1145.00,1017.90 1134.95,1025.13 1138.72,1013.34 1128.74,1006.02 1141.12,1005.96"/><polygon points="1193.00,966.70 1196.88,978.46 1209.26,978.52 1199.28,985.84 1203.05,997.63 1193.00,990.40 1182.95,997.63 1186.72,985.84 1176.74,978.52 1189.12,978.46"/><polygon points="1193.00,994.20 1196.88,1005.96 1209.26,1006.02 1199.28,1013.34 1203.05,1025.13 1193.00,1017.90 1182.95,1025.13 1186.72,1013.34 1176.74,1006.02 1189.12,1005.96"/><polygon points="1241.00,966.70 1244.88,978.46 1257.26,978.52 1247.28,985.84 1251.05,997.63 1241.00,990.40 1230.95,997.63 1234.72,985.84 1224.74,978.52 1237.12,978.46"/><polygon points="1241.00,994.20 1244.88,1005.96 1257.26,1006.02 1247.28,1013.34 1251.05,1025.13 1241.00,1017.90 1230.95,1025.13 1234.72,1013.34 1224.74,1006.02 1237.12,1005.96"/><polygon points="1289.00,966.70 1292.88,978.46 1305.26,978.52 1295.28,985.84 1299.05,997.63 1289.00,990.40 1278.95,997.63 1282.72,985.84 1272.74,978.52 1285.12,978.46"/><polygon points="1289.00,994.20 1292.88,1005.96 1305.26,1006.02 1295.28,1013.34 1299.05,1025.13 1289.00,1017.90 1278.95,1025.13 1282.72,1013.34 1272.74,1006.02 1285.12,1005.96"/><polygon points="1337.00,966.70 1340.88,978.46 1353.26,978.52 1343.28,985.84 1347.05,997.63 1337.00,990.40 1326.95,997.63 1330.72,985.84 1320.74,978.52 1333.12,978.46"/><polygon points="1337.00,994.20 1340.88,1005.96 1353.26,1006.02 1343.28,1013.34 1347.05,1025.13 1337.00,1017.90 1326.95,1025.13 1330.72,1013.34 1320.74,1006.02 1333.12,1005.96"/><polygon points="1385.00,966.70 1388.88,978.46 1401.26,978.52 1391.28,985.84 1395.05,997.63 1385.00,990.40 1374.95,997.63 1378.72,985.84 1368.74,978.52 1381.12,978.46"/><polygon points="1385.00,994.20 1388.88,1005.96 1401.26,1006.02 1391.28,1013.34 1395.05,1025.13 1385.00,1017.90 1374.95,1025.13 1378.72,1013.34 1368.74,1006.02 1381.12,1005.96"/><polygon points="1433.00,953.00 1436.88,964.76 1449.26,964.82 1439.28,972.14 1443.05,983.93 1433.00,976.70 1422.95,983.93 1426.72,972.14 1416.74,964.82 1429.12,964.76"/><polygon points="1433.00,980.50 1436.88,992.26 1449.26,992.32 1439.28,999.64 1443.05,1011.43 1433.00,1004.20 1422.95,1011.43 1426.72,999.64 1416.74,992.32 1429.12,992.26"/><polygon points="1433.00,1008.00 1436.88,1019.76 1449.26,1019.82 1439.28,1027.14 1443.05,1038.93 1433.00,1031.70 1422.95,1038.93 1426.72,1027.14 1416.74,1019.82 1429.12,1019.76"/><polygon points="1481.00,966.70 1484.88,978.46 1497.26,978.52 1487.28,985.84 1491.05,997.63 1481.00,990.40 1470.95,997.63 1474.72,985.84 1464.74,978.52 1477.12,978.46"/><polygon points="1481.00,994.20 1484.88,1005.96 1497.26,1006.02 1487.28,1013.34 1491.05,1025.13 1481.00,1017.90 1470.95,1025.13 1474.72,1013.34 1464.74,1006.02 1477.12,1005.96"/><polygon points="1529.00,966.70 1532.88,978.46 1545.26,978.52 1535.28,985.84 1539.05,997.63 1529.00,990.40 1518.95,997.63 1522.72,985.84 1512.74,978.52 1525.12,978.46"/><polygon points="1529.00,994.20 1532.88,1005.96 1545.26,1006.02 1535.28,1013.34 1539.05,1025.13 1529.00,1017.90 1518.95,1025.13 1522.72,1013.34 1512.74,1006.02 1525.12,1005.96"/><polygon points="1577.00,966.70 1580.88,978.46 1593.26,978.52 1583.28,985.84 1587.05,997.63 1577.00,990.40 1566.95,997.63 1570.72,985.84 1560.74,978.52 1573.12,978.46"/><polygon points="1577.00,994.20 1580.88,1005.96 1593.26,1006.02 1583.28,1013.34 1587.05,1025.13 1577.00,1017.90 1566.95,1025.13 1570.72,1013.34 1560.74,1006.02 1573.12,1005.96"/><polygon points="1625.00,953.00 1628.88,964.76 1641.26,964.82 1631.28,972.14 1635.05,983.93 1625.00,976.70 1614.95,983.93 1618.72,972.14 1608.74,964.82 1621.12,964.76"/><polygon points="1625.00,980.50 1628.88,992.26 1641.26,992.32 1631.28,999.64 1635.05,1011.43 1625.00,1004.20 1614.95,1011.43 1618.72,999.64 1608.74,992.32 1621.12,992.26"/><polygon points="1625.00,1008.00 1628.88,1019.76 1641.26,1019.82 1631.28,1027.14 1635.05,1038.93 1625.00,1031.70 1614.95,1038.93 1618.72,1027.14 1608.74,1019.82 1621.12,1019.76"/><polygon points="1673.00,953.00 1676.88,964.76 1689.26,964.82 1679.28,972.14 1683.05,983.93 1673.00,976.70 1662.95,983.93 1666.72,972.14 1656.74,964.82 1669.12,964.76"/><polygon points="1673.00,980.50 1676.88,992.26 1689.26,992.32 1679.28,999.64 1683.05,1011.43 1673.00,1004.20 1662.95,1011.43 1666.72,999.64 1656.74,992.32 1669.12,992.26"/><polygon points="1673.00,1008.00 1676.88,1019.76 1689.26,1019.82 1679.28,1027.14 1683.05,1038.93 1673.00,1031.70 1662.95,1038.93 1666.72,1027.14 1656.74,1019.82 1669.12,1019.76"/><polygon points="1721.00,953.00 1724.88,964.76 1737.26,964.82 1727.28,972.14 1731.05,983.93 1721.00,976.70 1710.95,983.93 1714.72,972.14 1704.74,964.82 1717.12,964.76"/><polygon points="1721.00,980.50 1724.88,992.26 1737.26,992.32 1727.28,999.64 1731.05,1011.43 1721.00,1004.20 1710.95,1011.43 1714.72,999.64 1704.74,992.32 1717.12,992.26"/><polygon points="1721.00,1008.00 1724.88,1019.76 1737.26,1019.82 1727.28,1027.14 1731.05,1038.93 1721.00,1031.70 1710.95,1038.93 1714.72,1027.14 1704.74,1019.82 1717.12,1019.76"/><polygon points="1769.00,953.00 1772.88,964.76 1785.26,964.82 1775.28,972.14 1779.05,983.93 1769.00,976.70 1758.95,983.93 1762.72,972.14 1752.74,964.82 1765.12,964.76"/><polygon points="1769.00,980.50 1772.88,992.26 1785.26,992.32 1775.28,999.64 1779.05,1011.43 1769.00,1004.20 1758.95,1011.43 1762.72,999.64 1752.74,992.32 1765.12,992.26"/><polygon points="1769.00,1008.00 1772.88,1019.76 1785.26,1019.82 1775.28,1027.14 1779.05,1038.93 1769.00,1031.70 1758.95,1038.93 1762.72,1027.14 1752.74,1019.82 1765.12,1019.76"/><polygon points="1817.00,966.70 1820.88,978.46 1833.26,978.52 1823.28,985.84 1827.05,997.63 1817.00,990.40 1806.95,997.63 1810.72,985.84 1800.74,978.52 1813.12,978.46"/><polygon points="1817.00,994.20 1820.88,1005.96 1833.26,1006.02 1823.28,1013.34 1827.05,1025.13 1817.00,1017.90 1806.95,1025.13 1810.72,1013.34 1800.74,1006.02 1813.12,1005.96"/><polygon points="1865.00,966.70 1868.88,978.46 1881.26,978.52 1871.28,985.84 1875.05,997.63 1865.00,990.40 1854.95,997.63 1858.72,985.84 1848.74,978.52 1861.12,978.46"/><polygon points="1865.00,994.20 1868.88,1005.96 1881.26,1006.02 1871.28,1013.34 1875.05,1025.13 1865.00,1017.90 1854.95,1025.13 1858.72,1013.34 1848.74,1006.02 1861.12,1005.96"/><polygon points="1913.00,966.70 1916.88,978.46 1929.26,978.52 1919.28,985.84 1923.05,997.63 1913.00,990.40 1902.95,997.63 1906.72,985.84 1896.74,978.52 1909.12,978.46"/><polygon points="1913.00,994.20 1916.88,1005.96 1929.26,1006.02 1919.28,1013.34 1923.05,1025.13 1913.00,1017.90 1902.95,1025.13 1906.72,1013.34 1896.74,1006.02 1909.12,1005.96"/><polygon points="1961.00,966.70 1964.88,978.46 1977.26,978.52 1967.28,985.84 1971.05,997.63 1961.00,990.40 1950.95,997.63 1954.72,985.84 1944.74,978.52 1957.12,978.46"/><polygon points="1961.00,994.20 1964.88,1005.96 1977.26,1006.02 1967.28,1013.34 1971.05,1025.13 1961.00,1017.90 1950.95,1025.13 1954.72,1013.34 1944.74,1006.02 1957.12,1005.96"/><polygon points="2009.00,953.00 2012.88,964.76 2025.26,964.82 2015.28,972.14 2019.05,983.93 2009.00,976.70 1998.95,983.93 2002.72,972.14 1992.74,964.82 2005.12,964.76"/><polygon points="2009.00,980.50 2012.88,992.26 2025.26,992.32 2015.28,999.64 2019.05,1011.43 2009.00,1004.20 1998.95,1011.43 2002.72,999.64 1992.74,992.32 2005.12,992.26"/><polygon points="2009.00,1008.00 2012.88,1019.76 2025.26,1019.82 2015.28,1027.14 2019.05,1038.93 2009.00,1031.70 1998.95,1038.93 2002.72,1027.14 1992.74,1019.82 2005.12,1019.76"/><polygon points="2057.00,953.00 2060.88,964.76 2073.26,964.82 2063.28,972.14 2067.05,983.93 2057.00,976.70 2046.95,983.93 2050.72,972.14 2040.74,964.82 2053.12,964.76"/><polygon points="2057.00,980.50 2060.88,992.26 2073.26,992.32 2063.28,999.64 2067.05,1011.43 2057.00,1004.20 2046.95,1011.43 2050.72,999.64 2040.74,992.32 2053.12,992.26"/><polygon points="2057.00,1008.00 2060.88,1019.76 2073.26,1019.82 2063.28,1027.14 2067.05,1038.93 2057.00,1031.70 2046.95,1038.93 2050.72,1027.14 2040.74,1019.82 2053.12,1019.76"/><polygon points="2105.00,953.00 2108.88,964.76 2121.26,964.82 2111.28,972.14 2115.05,983.93 2105.00,976.70 2094.95,983.93 2098.72,972.14 2088.74,964.82 2101.12,964.76"/><polygon points="2105.00,980.50 2108.88,992.26 2121.26,992.32 2111.28,999.64 2115.05,1011.43 2105.00,1004.20 2094.95,1011.43 2098.72,999.64 2088.74,992.32 2101.12,992.26"/><polygon points="2105.00,1008.00 2108.88,1019.76 2121.26,1019.82 2111.28,1027.14 2115.05,1038.93 2105.00,1031.70 2094.95,1038.93 2098.72,1027.14 2088.74,1019.82 2101.12,1019.76"/><polygon points="2153.00,953.00 2156.88,964.76 2169.26,964.82 2159.28,972.14 2163.05,983.93 2153.00,976.70 2142.95,983.93 2146.72,972.14 2136.74,964.82 2149.12,964.76"/><polygon points="2153.00,980.50 2156.88,992.26 2169.26,992.32 2159.28,999.64 2163.05,1011.43 2153.00,1004.20 2142.95,1011.43 2146.72,999.64 2136.74,992.32 2149.12,992.26"/><polygon points="2153.00,1008.00 2156.88,1019.76 2169.26,1019.82 2159.28,1027.14 2163.05,1038.93 2153.00,1031.70 2142.95,1038.93 2146.72,1027.14 2136.74,1019.82 2149.12,1019.76"/><polygon points="2201.00,953.00 2204.88,964.76 2217.26,964.82 2207.28,972.14 2211.05,983.93 2201.00,976.70 2190.95,983.93 2194.72,972.14 2184.74,964.82 2197.12,964.76"/><polygon points="2201.00,980.50 2204.88,992.26 2217.26,992.32 2207.28,999.64 2211.05,1011.43 2201.00,1004.20 2190.95,1011.43 2194.72,999.64 2184.74,992.32 2197.12,992.26"/><polygon points="2201.00,1008.00 2204.88,1019.76 2217.26,1019.82 2207.28,1027.14 2211.05,1038.93 2201.00,1031.70 2190.95,1038.93 2194.72,1027.14 2184.74,1019.82 2197.12,1019.76"/><polygon points="2249.00,953.00 2252.88,964.76 2265.26,964.82 2255.28,972.14 2259.05,983.93 2249.00,976.70 2238.95,983.93 2242.72,972.14 2232.74,964.82 2245.12,964.76"/><polygon points="2249.00,980.50 2252.88,992.26 2265.26,992.32 2255.28,999.64 2259.05,1011.43 2249.00,1004.20 2238.95,1011.43 2242.72,999.64 2232.74,992.32 2245.12,992.26"/><polygon points="2249.00,1008.00 2252.88,1019.76 2265.26,1019.82 2255.28,1027.14 2259.05,1038.93 2249.00,1031.70 2238.95,1038.93 2242.72,1027.14 2232.74,1019.82 2245.12,1019.76"/><polygon points="2297.00,953.00 2300.88,964.76 2313.26,964.82 2303.28,972.14 2307.05,983.93 2297.00,976.70 2286.95,983.93 2290.72,972.14 2280.74,964.82 2293.12,964.76"/><polygon points="2297.00,980.50 2300.88,992.26 2313.26,992.32 2303.28,999.64 2307.05,1011.43 2297.00,1004.20 2286.95,1011.43 2290.72,999.64 2280.74,992.32 2293.12,992.26"/><polygon points="2297.00,1008.00 2300.88,1019.76 2313.26,1019.82 2303.28,1027.14 2307.05,1038.93 2297.00,1031.70 2286.95,1038.93 2290.72,1027.14 2280.74,1019.82 2293.12,1019.76"/><polygon points="2345.00,953.00 2348.88,964.76 2361.26,964.82 2351.28,972.14 2355.05,983.93 2345.00,976.70 2334.95,983.93 2338.72,972.14 2328.74,964.82 2341.12,964.76"/><polygon points="2345.00,980.50 2348.88,992.26 2361.26,992.32 2351.28,999.64 2355.05,1011.43 2345.00,1004.20 2334.95,1011.43 2338.72,999.64 2328.74,992.32 2341.12,992.26"/><polygon points="2345.00,1008.00 2348.88,1019.76 2361.26,1019.82 2351.28,1027.14 2355.05,1038.93 2345.00,1031.70 2334.95,1038.93 2338.72,1027.14 2328.74,1019.82 2341.12,1019.76"/><polygon points="2393.00,953.00 2396.88,964.76 2409.26,964.82 2399.28,972.14 2403.05,983.93 2393.00,976.70 2382.95,983.93 2386.72,972.14 2376.74,964.82 2389.12,964.76"/><polygon points="2393.00,980.50 2396.88,992.26 2409.26,992.32 2399.28,999.64 2403.05,1011.43 2393.00,1004.20 2382.95,1011.43 2386.72,999.64 2376.74,992.32 2389.12,992.26"/><polygon points="2393.00,1008.00 2396.88,1019.76 2409.26,1019.82 2399.28,1027.14 2403.05,1038.93 2393.00,1031.70 2382.95,1038.93 2386.72,1027.14 2376.74,1019.82 2389.12,1019.76"/><polygon points="2441.00,953.00 2444.88,964.76 2457.26,964.82 2447.28,972.14 2451.05,983.93 2441.00,976.70 2430.95,983.93 2434.72,972.14 2424.74,964.82 2437.12,964.76"/><polygon points="2441.00,980.50 2444.88,992.26 2457.26,992.32 2447.28,999.64 2451.05,1011.43 2441.00,1004.20 2430.95,1011.43 2434.72,999.64 2424.74,992.32 2437.12,992.26"/><polygon points="2441.00,1008.00 2444.88,1019.76 2457.26,1019.82 2447.28,1027.14 2451.05,1038.93 2441.00,1031.70 2430.95,1038.93 2434.72,1027.14 2424.74,1019.82 2437.12,1019.76"/><polygon points="2489.00,953.00 2492.88,964.76 2505.26,964.82 2495.28,972.14 2499.05,983.93 2489.00,976.70 2478.95,983.93 2482.72,972.14 2472.74,964.82 2485.12,964.76"/><polygon points="2489.00,980.50 2492.88,992.26 2505.26,992.32 2495.28,999.64 2499.05,1011.43 2489.00,1004.20 2478.95,1011.43 2482.72,999.64 2472.74,992.32 2485.12,992.26"/><polygon points="2489.00,1008.00 2492.88,1019.76 2505.26,1019.82 2495.28,1027.14 2499.05,1038.93 2489.00,1031.70 2478.95,1038.93 2482.72,1027.14 2472.74,1019.82 2485.12,1019.76"/><polygon points="2537.00,953.00 2540.88,964.76 2553.26,964.82 2543.28,972.14 2547.05,983.93 2537.00,976.70 2526.95,983.93 2530.72,972.14 2520.74,964.82 2533.12,964.76"/><polygon points="2537.00,980.50 2540.88,992.26 2553.26,992.32 2543.28,999.64 2547.05,1011.43 2537.00,1004.20 2526.95,1011.43 2530.72,999.64 2520.74,992.32 2533.12,992.26"/><polygon points="2537.00,1008.00 2540.88,1019.76 2553.26,1019.82 2543.28,1027.14 2547.05,1038.93 2537.00,1031.70 2526.95,1038.93 2530.72,1027.14 2520.74,1019.82 2533.12,1019.76"/><polygon points="2585.00,953.00 2588.88,964.76 2601.26,964.82 2591.28,972.14 2595.05,983.93 2585.00,976.70 2574.95,983.93 2578.72,972.14 2568.74,964.82 2581.12,964.76"/><polygon points="2585.00,980.50 2588.88,992.26 2601.26,992.32 2591.28,999.64 2595.05,1011.43 2585.00,1004.20 2574.95,1011.43 2578.72,999.64 2568.74,992.32 2581.12,992.26"/><polygon points="2585.00,1008.00 2588.88,1019.76 2601.26,1019.82 2591.28,1027.14 2595.05,1038.93 2585.00,1031.70 2574.95,1038.93 2578.72,1027.14 2568.74,1019.82 2581.12,1019.76"/><polygon points="2633.00,953.00 2636.88,964.76 2649.26,964.82 2639.28,972.14 2643.05,983.93 2633.00,976.70 2622.95,983.93 2626.72,972.14 2616.74,964.82 2629.12,964.76"/><polygon points="2633.00,980.50 2636.88,992.26 2649.26,992.32 2639.28,999.64 2643.05,1011.43 2633.00,1004.20 2622.95,1011.43 2626.72,999.64 2616.74,992.32 2629.12,992.26"/><polygon points="2633.00,1008.00 2636.88,1019.76 2649.26,1019.82 2639.28,1027.14 2643.05,1038.93 2633.00,1031.70 2622.95,1038.93 2626.72,1027.14 2616.74,1019.82 2629.12,1019.76"/></g></svg>
<svg style="left:0;top:0" width="2618" height="1162"><defs><linearGradient id="tg" gradientUnits="userSpaceOnUse" x1="0" y1="1061" x2="0" y2="1116"><stop offset="0" stop-color="rgb(150,236,100)"/><stop offset="0.5455" stop-color="#fff"/><stop offset="1" stop-color="rgb(240,120,120)"/></linearGradient></defs><path d="M259 1091.0 L259.0 1080.56 L260.5 1080.73 L262.0 1080.92 L263.5 1081.12 L265.0 1081.33 L266.5 1081.55 L268.0 1081.77 L269.5 1082.01 L271.0 1082.25 L272.5 1082.50 L274.0 1082.76 L275.5 1083.03 L277.0 1083.31 L278.5 1083.59 L280.0 1083.88 L281.5 1084.18 L283.0 1084.48 L284.5 1084.79 L286.0 1085.10 L287.5 1085.42 L289.0 1085.75 L290.5 1086.08 L292.0 1086.42 L293.5 1086.76 L295.0 1087.10 L296.5 1087.45 L298.0 1087.80 L299.5 1088.16 L301.0 1088.51 L302.5 1088.87 L304.0 1089.23 L305.5 1089.60 L307.0 1089.96 L308.5 1090.33 L310.0 1090.69 L311.5 1091.06 L313.0 1091.43 L314.5 1091.79 L316.0 1092.16 L317.5 1092.52 L319.0 1092.89 L320.5 1093.25 L322.0 1093.61 L323.5 1093.96 L325.0 1094.32 L326.5 1094.67 L328.0 1095.01 L329.5 1095.36 L331.0 1095.70 L332.5 1096.03 L334.0 1096.36 L335.5 1096.68 L337.0 1097.00 L338.5 1097.32 L340.0 1097.62 L341.5 1097.92 L343.0 1098.22 L344.5 1098.51 L346.0 1098.79 L347.5 1099.06 L349.0 1099.32 L350.5 1099.58 L352.0 1099.83 L353.5 1100.07 L355.0 1100.30 L356.5 1100.53 L358.0 1100.74 L359.5 1100.95 L361.0 1101.14 L362.5 1101.33 L364.0 1101.50 L365.5 1101.50 L367.0 1101.50 L368.5 1101.50 L370.0 1101.50 L371.5 1101.50 L373.0 1101.50 L374.5 1101.50 L376.0 1101.50 L377.5 1101.50 L379.0 1101.50 L380.5 1101.50 L382.0 1101.50 L383.5 1101.50 L385.0 1101.50 L386.5 1101.50 L388.0 1101.50 L389.5 1101.50 L391.0 1101.50 L392.5 1101.50 L394.0 1101.50 L395.5 1101.50 L397.0 1101.50 L398.5 1101.50 L400.0 1101.50 L401.5 1101.50 L403.0 1101.50 L404.5 1101.50 L406.0 1101.50 L407.5 1101.50 L409.0 1101.50 L410.5 1101.50 L412.0 1101.37 L413.5 1101.20 L415.0 1101.01 L416.5 1100.82 L418.0 1100.61 L419.5 1100.40 L421.0 1100.18 L422.5 1099.95 L424.0 1099.71 L425.5 1099.47 L427.0 1099.22 L428.5 1098.96 L430.0 1098.69 L431.5 1098.41 L433.0 1098.13 L434.5 1097.84 L436.0 1097.55 L437.5 1097.25 L439.0 1096.95 L440.5 1096.64 L442.0 1096.32 L443.5 1096.00 L445.0 1095.68 L446.5 1095.35 L448.0 1095.01 L449.5 1094.68 L451.0 1094.34 L452.5 1094.00 L454.0 1093.65 L455.5 1093.31 L457.0 1092.96 L458.5 1092.61 L460.0 1092.26 L461.5 1091.91 L463.0 1091.56 L464.5 1091.21 L466.0 1090.86 L467.5 1090.51 L469.0 1090.16 L470.5 1089.81 L472.0 1089.46 L473.5 1089.12 L475.0 1088.77 L476.5 1088.43 L478.0 1088.10 L479.5 1087.76 L481.0 1087.43 L482.5 1087.11 L484.0 1086.79 L485.5 1086.47 L487.0 1086.16 L488.5 1085.85 L490.0 1085.55 L491.5 1085.25 L493.0 1084.96 L494.5 1084.68 L496.0 1084.40 L497.5 1084.13 L499.0 1083.87 L500.5 1083.61 L502.0 1083.37 L503.5 1083.13 L505.0 1082.89 L506.5 1082.67 L508.0 1082.46 L509.5 1082.25 L511.0 1082.05 L512.5 1081.86 L514.0 1081.68 L515.5 1081.52 L517.0 1081.50 L518.5 1081.50 L520.0 1081.50 L521.5 1081.50 L523.0 1081.50 L524.5 1081.50 L526.0 1081.50 L527.5 1081.50 L529.0 1081.50 L530.5 1081.50 L532.0 1081.50 L533.5 1081.50 L535.0 1081.50 L536.5 1081.50 L538.0 1081.50 L539.5 1081.50 L541.0 1081.50 L542.5 1081.50 L544.0 1081.50 L545.5 1081.50 L547.0 1081.50 L548.5 1081.50 L550.0 1081.50 L551.5 1081.50 L553.0 1081.50 L554.5 1081.50 L556.0 1081.50 L557.5 1081.50 L559.0 1081.50 L560.5 1081.50 L562.0 1081.50 L563.5 1081.62 L565.0 1081.80 L566.5 1081.98 L568.0 1082.18 L569.5 1082.38 L571.0 1082.60 L572.5 1082.82 L574.0 1083.05 L575.5 1083.29 L577.0 1083.54 L578.5 1083.80 L580.0 1084.06 L581.5 1084.33 L583.0 1084.61 L584.5 1084.89 L586.0 1085.18 L587.5 1085.48 L589.0 1085.78 L590.5 1086.09 L592.0 1086.40 L593.5 1086.72 L595.0 1087.04 L596.5 1087.37 L598.0 1087.70 L599.5 1088.04 L601.0 1088.38 L602.5 1088.72 L604.0 1089.06 L605.5 1089.41 L607.0 1089.76 L608.5 1090.11 L610.0 1090.47 L611.5 1090.82 L613.0 1091.18 L614.5 1091.53 L616.0 1091.89 L617.5 1092.24 L619.0 1092.60 L620.5 1092.95 L622.0 1093.30 L623.5 1093.65 L625.0 1094.00 L626.5 1094.35 L628.0 1094.69 L629.5 1095.04 L631.0 1095.37 L632.5 1095.71 L634.0 1096.04 L635.5 1096.37 L637.0 1096.69 L638.5 1097.00 L640.0 1097.32 L641.5 1097.62 L643.0 1097.92 L644.5 1098.22 L646.0 1098.51 L647.5 1098.79 L649.0 1099.06 L650.5 1099.33 L652.0 1099.59 L653.5 1099.84 L655.0 1100.09 L656.5 1100.33 L658.0 1100.55 L659.5 1100.77 L661.0 1100.98 L662.5 1101.19 L664.0 1101.38 L665.5 1101.56 L667.0 1101.74 L668.5 1101.80 L670.0 1101.80 L671.5 1101.80 L673.0 1101.80 L674.5 1101.80 L676.0 1101.80 L677.5 1101.80 L679.0 1101.80 L680.5 1101.80 L682.0 1101.80 L683.5 1101.80 L685.0 1101.80 L686.5 1101.80 L688.0 1101.80 L689.5 1101.80 L691.0 1101.80 L692.5 1101.80 L694.0 1101.80 L695.5 1101.80 L697.0 1101.80 L698.5 1101.80 L700.0 1101.80 L701.5 1101.80 L703.0 1101.80 L704.5 1101.80 L706.0 1101.80 L707.5 1101.80 L709.0 1101.80 L710.5 1101.80 L712.0 1101.80 L713.5 1101.80 L715.0 1101.69 L716.5 1101.51 L718.0 1101.32 L719.5 1101.13 L721.0 1100.92 L722.5 1100.71 L724.0 1100.49 L725.5 1100.26 L727.0 1100.02 L728.5 1099.77 L730.0 1099.51 L731.5 1099.25 L733.0 1098.98 L734.5 1098.70 L736.0 1098.42 L736 1091.0 Z" fill="url(#tg)"/><path d="M259.0 1080.56 L260.5 1080.73 L262.0 1080.92 L263.5 1081.12 L265.0 1081.33 L266.5 1081.55 L268.0 1081.77 L269.5 1082.01 L271.0 1082.25 L272.5 1082.50 L274.0 1082.76 L275.5 1083.03 L277.0 1083.31 L278.5 1083.59 L280.0 1083.88 L281.5 1084.18 L283.0 1084.48 L284.5 1084.79 L286.0 1085.10 L287.5 1085.42 L289.0 1085.75 L290.5 1086.08 L292.0 1086.42 L293.5 1086.76 L295.0 1087.10 L296.5 1087.45 L298.0 1087.80 L299.5 1088.16 L301.0 1088.51 L302.5 1088.87 L304.0 1089.23 L305.5 1089.60 L307.0 1089.96 L308.5 1090.33 L310.0 1090.69 L311.5 1091.06 L313.0 1091.43 L314.5 1091.79 L316.0 1092.16 L317.5 1092.52 L319.0 1092.89 L320.5 1093.25 L322.0 1093.61 L323.5 1093.96 L325.0 1094.32 L326.5 1094.67 L328.0 1095.01 L329.5 1095.36 L331.0 1095.70 L332.5 1096.03 L334.0 1096.36 L335.5 1096.68 L337.0 1097.00 L338.5 1097.32 L340.0 1097.62 L341.5 1097.92 L343.0 1098.22 L344.5 1098.51 L346.0 1098.79 L347.5 1099.06 L349.0 1099.32 L350.5 1099.58 L352.0 1099.83 L353.5 1100.07 L355.0 1100.30 L356.5 1100.53 L358.0 1100.74 L359.5 1100.95 L361.0 1101.14 L362.5 1101.33 L364.0 1101.50 L365.5 1101.50 L367.0 1101.50 L368.5 1101.50 L370.0 1101.50 L371.5 1101.50 L373.0 1101.50 L374.5 1101.50 L376.0 1101.50 L377.5 1101.50 L379.0 1101.50 L380.5 1101.50 L382.0 1101.50 L383.5 1101.50 L385.0 1101.50 L386.5 1101.50 L388.0 1101.50 L389.5 1101.50 L391.0 1101.50 L392.5 1101.50 L394.0 1101.50 L395.5 1101.50 L397.0 1101.50 L398.5 1101.50 L400.0 1101.50 L401.5 1101.50 L403.0 1101.50 L404.5 1101.50 L406.0 1101.50 L407.5 1101.50 L409.0 1101.50 L410.5 1101.50 L412.0 1101.37 L413.5 1101.20 L415.0 1101.01 L416.5 1100.82 L418.0 1100.61 L419.5 1100.40 L421.0 1100.18 L422.5 1099.95 L424.0 1099.71 L425.5 1099.47 L427.0 1099.22 L428.5 1098.96 L430.0 1098.69 L431.5 1098.41 L433.0 1098.13 L434.5 1097.84 L436.0 1097.55 L437.5 1097.25 L439.0 1096.95 L440.5 1096.64 L442.0 1096.32 L443.5 1096.00 L445.0 1095.68 L446.5 1095.35 L448.0 1095.01 L449.5 1094.68 L451.0 1094.34 L452.5 1094.00 L454.0 1093.65 L455.5 1093.31 L457.0 1092.96 L458.5 1092.61 L460.0 1092.26 L461.5 1091.91 L463.0 1091.56 L464.5 1091.21 L466.0 1090.86 L467.5 1090.51 L469.0 1090.16 L470.5 1089.81 L472.0 1089.46 L473.5 1089.12 L475.0 1088.77 L476.5 1088.43 L478.0 1088.10 L479.5 1087.76 L481.0 1087.43 L482.5 1087.11 L484.0 1086.79 L485.5 1086.47 L487.0 1086.16 L488.5 1085.85 L490.0 1085.55 L491.5 1085.25 L493.0 1084.96 L494.5 1084.68 L496.0 1084.40 L497.5 1084.13 L499.0 1083.87 L500.5 1083.61 L502.0 1083.37 L503.5 1083.13 L505.0 1082.89 L506.5 1082.67 L508.0 1082.46 L509.5 1082.25 L511.0 1082.05 L512.5 1081.86 L514.0 1081.68 L515.5 1081.52 L517.0 1081.50 L518.5 1081.50 L520.0 1081.50 L521.5 1081.50 L523.0 1081.50 L524.5 1081.50 L526.0 1081.50 L527.5 1081.50 L529.0 1081.50 L530.5 1081.50 L532.0 1081.50 L533.5 1081.50 L535.0 1081.50 L536.5 1081.50 L538.0 1081.50 L539.5 1081.50 L541.0 1081.50 L542.5 1081.50 L544.0 1081.50 L545.5 1081.50 L547.0 1081.50 L548.5 1081.50 L550.0 1081.50 L551.5 1081.50 L553.0 1081.50 L554.5 1081.50 L556.0 1081.50 L557.5 1081.50 L559.0 1081.50 L560.5 1081.50 L562.0 1081.50 L563.5 1081.62 L565.0 1081.80 L566.5 1081.98 L568.0 1082.18 L569.5 1082.38 L571.0 1082.60 L572.5 1082.82 L574.0 1083.05 L575.5 1083.29 L577.0 1083.54 L578.5 1083.80 L580.0 1084.06 L581.5 1084.33 L583.0 1084.61 L584.5 1084.89 L586.0 1085.18 L587.5 1085.48 L589.0 1085.78 L590.5 1086.09 L592.0 1086.40 L593.5 1086.72 L595.0 1087.04 L596.5 1087.37 L598.0 1087.70 L599.5 1088.04 L601.0 1088.38 L602.5 1088.72 L604.0 1089.06 L605.5 1089.41 L607.0 1089.76 L608.5 1090.11 L610.0 1090.47 L611.5 1090.82 L613.0 1091.18 L614.5 1091.53 L616.0 1091.89 L617.5 1092.24 L619.0 1092.60 L620.5 1092.95 L622.0 1093.30 L623.5 1093.65 L625.0 1094.00 L626.5 1094.35 L628.0 1094.69 L629.5 1095.04 L631.0 1095.37 L632.5 1095.71 L634.0 1096.04 L635.5 1096.37 L637.0 1096.69 L638.5 1097.00 L640.0 1097.32 L641.5 1097.62 L643.0 1097.92 L644.5 1098.22 L646.0 1098.51 L647.5 1098.79 L649.0 1099.06 L650.5 1099.33 L652.0 1099.59 L653.5 1099.84 L655.0 1100.09 L656.5 1100.33 L658.0 1100.55 L659.5 1100.77 L661.0 1100.98 L662.5 1101.19 L664.0 1101.38 L665.5 1101.56 L667.0 1101.74 L668.5 1101.80 L670.0 1101.80 L671.5 1101.80 L673.0 1101.80 L674.5 1101.80 L676.0 1101.80 L677.5 1101.80 L679.0 1101.80 L680.5 1101.80 L682.0 1101.80 L683.5 1101.80 L685.0 1101.80 L686.5 1101.80 L688.0 1101.80 L689.5 1101.80 L691.0 1101.80 L692.5 1101.80 L694.0 1101.80 L695.5 1101.80 L697.0 1101.80 L698.5 1101.80 L700.0 1101.80 L701.5 1101.80 L703.0 1101.80 L704.5 1101.80 L706.0 1101.80 L707.5 1101.80 L709.0 1101.80 L710.5 1101.80 L712.0 1101.80 L713.5 1101.80 L715.0 1101.69 L716.5 1101.51 L718.0 1101.32 L719.5 1101.13 L721.0 1100.92 L722.5 1100.71 L724.0 1100.49 L725.5 1100.26 L727.0 1100.02 L728.5 1099.77 L730.0 1099.51 L731.5 1099.25 L733.0 1098.98 L734.5 1098.70 L736.0 1098.42" fill="none" stroke="#000" stroke-width="2.4" stroke-linejoin="round"/><path d="M738.75 1091.0 L738.8 1091.26 L740.2 1090.48 L741.8 1089.72 L743.2 1089.00 L744.8 1088.32 L746.2 1087.70 L747.8 1087.15 L749.2 1086.66 L750.8 1086.26 L752.2 1085.93 L753.8 1085.69 L755.2 1085.54 L756.8 1085.50 L758.2 1085.50 L759.8 1085.50 L761.2 1085.54 L762.8 1085.74 L764.2 1085.98 L765.8 1086.28 L767.2 1086.63 L768.8 1087.03 L770.2 1087.48 L771.8 1087.97 L773.2 1088.49 L774.8 1089.05 L776.2 1089.65 L777.8 1090.26 L779.2 1090.90 L780.8 1091.56 L782.2 1092.23 L783.8 1092.91 L783.75 1091.0 Z" fill="url(#tg)"/><path d="M738.8 1091.26 L740.2 1090.48 L741.8 1089.72 L743.2 1089.00 L744.8 1088.32 L746.2 1087.70 L747.8 1087.15 L749.2 1086.66 L750.8 1086.26 L752.2 1085.93 L753.8 1085.69 L755.2 1085.54 L756.8 1085.50 L758.2 1085.50 L759.8 1085.50 L761.2 1085.54 L762.8 1085.74 L764.2 1085.98 L765.8 1086.28 L767.2 1086.63 L768.8 1087.03 L770.2 1087.48 L771.8 1087.97 L773.2 1088.49 L774.8 1089.05 L776.2 1089.65 L777.8 1090.26 L779.2 1090.90 L780.8 1091.56 L782.2 1092.23 L783.8 1092.91" fill="none" stroke="#000" stroke-width="2.4" stroke-linejoin="round"/><path d="M787 1091.0 L787.0 1086.45 L788.5 1086.72 L790.0 1086.99 L791.5 1087.27 L793.0 1087.55 L794.5 1087.83 L796.0 1088.11 L797.5 1088.40 L799.0 1088.69 L800.5 1088.98 L802.0 1089.27 L803.5 1089.57 L805.0 1089.86 L806.5 1090.16 L808.0 1090.45 L809.5 1090.75 L811.0 1091.05 L812.5 1091.35 L814.0 1091.65 L815.5 1091.94 L817.0 1092.24 L818.5 1092.54 L820.0 1092.83 L821.5 1093.12 L823.0 1093.42 L824.5 1093.71 L826.0 1093.99 L827.5 1094.28 L829.0 1094.56 L830.5 1094.84 L832.0 1095.12 L833.5 1095.39 L835.0 1095.66 L836.5 1095.92 L838.0 1096.18 L839.5 1096.44 L841.0 1096.69 L842.5 1096.94 L844.0 1097.18 L845.5 1097.42 L847.0 1097.65 L848.5 1097.88 L850.0 1098.10 L851.5 1098.32 L853.0 1098.53 L854.5 1098.73 L856.0 1098.93 L857.5 1099.12 L859.0 1099.30 L860.5 1099.48 L862.0 1099.65 L863.5 1099.81 L865.0 1099.96 L866.5 1100.11 L868.0 1100.20 L869.5 1100.20 L871.0 1100.20 L872.5 1100.20 L874.0 1100.20 L875.5 1100.20 L877.0 1100.20 L878.5 1100.20 L880.0 1100.20 L881.5 1100.20 L883.0 1100.20 L884.5 1100.20 L886.0 1100.20 L887.5 1100.20 L889.0 1100.20 L890.5 1100.20 L892.0 1100.20 L893.5 1100.20 L895.0 1100.20 L896.5 1100.20 L898.0 1100.20 L899.5 1100.20 L901.0 1100.20 L902.5 1100.20 L904.0 1100.20 L905.5 1100.20 L907.0 1100.20 L908.5 1100.20 L910.0 1100.20 L911.5 1100.20 L913.0 1100.20 L914.5 1100.20 L916.0 1100.20 L917.5 1100.20 L919.0 1100.06 L920.5 1099.91 L922.0 1099.75 L923.5 1099.58 L925.0 1099.40 L926.5 1099.22 L928.0 1099.03 L929.5 1098.83 L931.0 1098.63 L932.5 1098.42 L934.0 1098.20 L935.5 1097.98 L937.0 1097.75 L938.5 1097.52 L940.0 1097.28 L941.5 1097.04 L943.0 1096.79 L944.5 1096.53 L946.0 1096.27 L947.5 1096.01 L949.0 1095.74 L950.5 1095.47 L952.0 1095.19 L953.5 1094.91 L955.0 1094.63 L956.5 1094.34 L958.0 1094.05 L959.5 1093.76 L961.0 1093.46 L962.5 1093.17 L964.0 1092.87 L965.5 1092.57 L967.0 1092.27 L968.5 1091.96 L970.0 1091.66 L971.5 1091.36 L973.0 1091.05 L974.5 1090.75 L976.0 1090.44 L977.5 1090.14 L979.0 1089.84 L980.5 1089.53 L982.0 1089.23 L983.5 1088.93 L985.0 1088.63 L986.5 1088.34 L988.0 1088.04 L989.5 1087.75 L991.0 1087.46 L992.5 1087.17 L994.0 1086.89 L995.5 1086.61 L997.0 1086.33 L998.5 1086.06 L1000.0 1085.79 L1001.5 1085.53 L1003.0 1085.27 L1004.5 1085.01 L1006.0 1084.76 L1007.5 1084.52 L1009.0 1084.28 L1010.5 1084.05 L1012.0 1083.82 L1013.5 1083.60 L1015.0 1083.38 L1016.5 1083.17 L1018.0 1082.97 L1019.5 1082.77 L1021.0 1082.58 L1022.5 1082.40 L1024.0 1082.22 L1025.5 1082.05 L1027.0 1081.89 L1028.5 1081.74 L1030.0 1081.60 L1031.5 1081.60 L1033.0 1081.60 L1034.5 1081.60 L1036.0 1081.60 L1037.5 1081.60 L1039.0 1081.60 L1040.5 1081.60 L1042.0 1081.60 L1043.5 1081.60 L1045.0 1081.60 L1046.5 1081.60 L1048.0 1081.60 L1049.5 1081.60 L1051.0 1081.60 L1052.5 1081.60 L1054.0 1081.60 L1055.5 1081.60 L1057.0 1081.60 L1058.5 1081.60 L1060.0 1081.60 L1061.5 1081.60 L1063.0 1081.60 L1064.5 1081.60 L1066.0 1081.60 L1067.5 1081.60 L1069.0 1081.60 L1070.5 1081.60 L1072.0 1081.60 L1073.5 1081.60 L1075.0 1081.60 L1076.5 1081.60 L1078.0 1081.67 L1079.5 1081.84 L1081.0 1082.01 L1082.5 1082.20 L1084.0 1082.40 L1085.5 1082.60 L1087.0 1082.82 L1088.5 1083.04 L1090.0 1083.27 L1091.5 1083.51 L1093.0 1083.76 L1094.5 1084.01 L1096.0 1084.27 L1097.5 1084.54 L1099.0 1084.82 L1100.5 1085.10 L1102.0 1085.38 L1103.5 1085.68 L1105.0 1085.98 L1106.5 1086.28 L1108.0 1086.59 L1109.5 1086.90 L1111.0 1087.22 L1112.5 1087.54 L1114.0 1087.87 L1115.5 1088.20 L1117.0 1088.53 L1118.5 1088.86 L1120.0 1089.20 L1121.5 1089.54 L1123.0 1089.88 L1124.5 1090.22 L1126.0 1090.56 L1127.5 1090.90 L1129.0 1091.24 L1130.5 1091.58 L1132.0 1091.92 L1133.5 1092.26 L1135.0 1092.60 L1136.5 1092.94 L1138.0 1093.27 L1139.5 1093.60 L1141.0 1093.93 L1142.5 1094.26 L1144.0 1094.58 L1145.5 1094.90 L1147.0 1095.21 L1148.5 1095.52 L1150.0 1095.82 L1151.5 1096.12 L1153.0 1096.42 L1154.5 1096.70 L1156.0 1096.98 L1157.5 1097.26 L1159.0 1097.53 L1160.5 1097.79 L1162.0 1098.04 L1163.5 1098.29 L1165.0 1098.53 L1166.5 1098.76 L1168.0 1098.98 L1169.5 1099.20 L1171.0 1099.40 L1172.5 1099.60 L1174.0 1099.79 L1175.5 1099.96 L1177.0 1100.13 L1178.5 1100.20 L1180.0 1100.20 L1181.5 1100.20 L1183.0 1100.20 L1184.5 1100.20 L1186.0 1100.20 L1187.5 1100.20 L1189.0 1100.20 L1190.5 1100.20 L1192.0 1100.20 L1193.5 1100.20 L1195.0 1100.20 L1196.5 1100.20 L1198.0 1100.20 L1199.5 1100.20 L1201.0 1100.20 L1202.5 1100.20 L1204.0 1100.20 L1205.5 1100.20 L1207.0 1100.20 L1208.5 1100.20 L1210.0 1100.20 L1211.5 1100.20 L1213.0 1100.20 L1214.5 1100.09 L1216.0 1099.91 L1216 1091.0 Z" fill="url(#tg)"/><path d="M787.0 1086.45 L788.5 1086.72 L790.0 1086.99 L791.5 1087.27 L793.0 1087.55 L794.5 1087.83 L796.0 1088.11 L797.5 1088.40 L799.0 1088.69 L800.5 1088.98 L802.0 1089.27 L803.5 1089.57 L805.0 1089.86 L806.5 1090.16 L808.0 1090.45 L809.5 1090.75 L811.0 1091.05 L812.5 1091.35 L814.0 1091.65 L815.5 1091.94 L817.0 1092.24 L818.5 1092.54 L820.0 1092.83 L821.5 1093.12 L823.0 1093.42 L824.5 1093.71 L826.0 1093.99 L827.5 1094.28 L829.0 1094.56 L830.5 1094.84 L832.0 1095.12 L833.5 1095.39 L835.0 1095.66 L836.5 1095.92 L838.0 1096.18 L839.5 1096.44 L841.0 1096.69 L842.5 1096.94 L844.0 1097.18 L845.5 1097.42 L847.0 1097.65 L848.5 1097.88 L850.0 1098.10 L851.5 1098.32 L853.0 1098.53 L854.5 1098.73 L856.0 1098.93 L857.5 1099.12 L859.0 1099.30 L860.5 1099.48 L862.0 1099.65 L863.5 1099.81 L865.0 1099.96 L866.5 1100.11 L868.0 1100.20 L869.5 1100.20 L871.0 1100.20 L872.5 1100.20 L874.0 1100.20 L875.5 1100.20 L877.0 1100.20 L878.5 1100.20 L880.0 1100.20 L881.5 1100.20 L883.0 1100.20 L884.5 1100.20 L886.0 1100.20 L887.5 1100.20 L889.0 1100.20 L890.5 1100.20 L892.0 1100.20 L893.5 1100.20 L895.0 1100.20 L896.5 1100.20 L898.0 1100.20 L899.5 1100.20 L901.0 1100.20 L902.5 1100.20 L904.0 1100.20 L905.5 1100.20 L907.0 1100.20 L908.5 1100.20 L910.0 1100.20 L911.5 1100.20 L913.0 1100.20 L914.5 1100.20 L916.0 1100.20 L917.5 1100.20 L919.0 1100.06 L920.5 1099.91 L922.0 1099.75 L923.5 1099.58 L925.0 1099.40 L926.5 1099.22 L928.0 1099.03 L929.5 1098.83 L931.0 1098.63 L932.5 1098.42 L934.0 1098.20 L935.5 1097.98 L937.0 1097.75 L938.5 1097.52 L940.0 1097.28 L941.5 1097.04 L943.0 1096.79 L944.5 1096.53 L946.0 1096.27 L947.5 1096.01 L949.0 1095.74 L950.5 1095.47 L952.0 1095.19 L953.5 1094.91 L955.0 1094.63 L956.5 1094.34 L958.0 1094.05 L959.5 1093.76 L961.0 1093.46 L962.5 1093.17 L964.0 1092.87 L965.5 1092.57 L967.0 1092.27 L968.5 1091.96 L970.0 1091.66 L971.5 1091.36 L973.0 1091.05 L974.5 1090.75 L976.0 1090.44 L977.5 1090.14 L979.0 1089.84 L980.5 1089.53 L982.0 1089.23 L983.5 1088.93 L985.0 1088.63 L986.5 1088.34 L988.0 1088.04 L989.5 1087.75 L991.0 1087.46 L992.5 1087.17 L994.0 1086.89 L995.5 1086.61 L997.0 1086.33 L998.5 1086.06 L1000.0 1085.79 L1001.5 1085.53 L1003.0 1085.27 L1004.5 1085.01 L1006.0 1084.76 L1007.5 1084.52 L1009.0 1084.28 L1010.5 1084.05 L1012.0 1083.82 L1013.5 1083.60 L1015.0 1083.38 L1016.5 1083.17 L1018.0 1082.97 L1019.5 1082.77 L1021.0 1082.58 L1022.5 1082.40 L1024.0 1082.22 L1025.5 1082.05 L1027.0 1081.89 L1028.5 1081.74 L1030.0 1081.60 L1031.5 1081.60 L1033.0 1081.60 L1034.5 1081.60 L1036.0 1081.60 L1037.5 1081.60 L1039.0 1081.60 L1040.5 1081.60 L1042.0 1081.60 L1043.5 1081.60 L1045.0 1081.60 L1046.5 1081.60 L1048.0 1081.60 L1049.5 1081.60 L1051.0 1081.60 L1052.5 1081.60 L1054.0 1081.60 L1055.5 1081.60 L1057.0 1081.60 L1058.5 1081.60 L1060.0 1081.60 L1061.5 1081.60 L1063.0 1081.60 L1064.5 1081.60 L1066.0 1081.60 L1067.5 1081.60 L1069.0 1081.60 L1070.5 1081.60 L1072.0 1081.60 L1073.5 1081.60 L1075.0 1081.60 L1076.5 1081.60 L1078.0 1081.67 L1079.5 1081.84 L1081.0 1082.01 L1082.5 1082.20 L1084.0 1082.40 L1085.5 1082.60 L1087.0 1082.82 L1088.5 1083.04 L1090.0 1083.27 L1091.5 1083.51 L1093.0 1083.76 L1094.5 1084.01 L1096.0 1084.27 L1097.5 1084.54 L1099.0 1084.82 L1100.5 1085.10 L1102.0 1085.38 L1103.5 1085.68 L1105.0 1085.98 L1106.5 1086.28 L1108.0 1086.59 L1109.5 1086.90 L1111.0 1087.22 L1112.5 1087.54 L1114.0 1087.87 L1115.5 1088.20 L1117.0 1088.53 L1118.5 1088.86 L1120.0 1089.20 L1121.5 1089.54 L1123.0 1089.88 L1124.5 1090.22 L1126.0 1090.56 L1127.5 1090.90 L1129.0 1091.24 L1130.5 1091.58 L1132.0 1091.92 L1133.5 1092.26 L1135.0 1092.60 L1136.5 1092.94 L1138.0 1093.27 L1139.5 1093.60 L1141.0 1093.93 L1142.5 1094.26 L1144.0 1094.58 L1145.5 1094.90 L1147.0 1095.21 L1148.5 1095.52 L1150.0 1095.82 L1151.5 1096.12 L1153.0 1096.42 L1154.5 1096.70 L1156.0 1096.98 L1157.5 1097.26 L1159.0 1097.53 L1160.5 1097.79 L1162.0 1098.04 L1163.5 1098.29 L1165.0 1098.53 L1166.5 1098.76 L1168.0 1098.98 L1169.5 1099.20 L1171.0 1099.40 L1172.5 1099.60 L1174.0 1099.79 L1175.5 1099.96 L1177.0 1100.13 L1178.5 1100.20 L1180.0 1100.20 L1181.5 1100.20 L1183.0 1100.20 L1184.5 1100.20 L1186.0 1100.20 L1187.5 1100.20 L1189.0 1100.20 L1190.5 1100.20 L1192.0 1100.20 L1193.5 1100.20 L1195.0 1100.20 L1196.5 1100.20 L1198.0 1100.20 L1199.5 1100.20 L1201.0 1100.20 L1202.5 1100.20 L1204.0 1100.20 L1205.5 1100.20 L1207.0 1100.20 L1208.5 1100.20 L1210.0 1100.20 L1211.5 1100.20 L1213.0 1100.20 L1214.5 1100.09 L1216.0 1099.91" fill="none" stroke="#000" stroke-width="2.4" stroke-linejoin="round"/><path d="M1219 1091.0 L1219.0 1097.35 L1220.5 1096.79 L1222.0 1096.20 L1223.5 1095.59 L1225.0 1094.95 L1226.5 1094.31 L1228.0 1093.65 L1229.5 1092.99 L1231.0 1092.35 L1232.5 1091.71 L1234.0 1091.10 L1235.5 1090.51 L1237.0 1089.95 L1238.5 1089.44 L1240.0 1088.96 L1241.5 1088.54 L1243.0 1088.17 L1244.5 1087.86 L1246.0 1087.61 L1247.5 1087.42 L1249.0 1087.30 L1250.5 1087.30 L1252.0 1087.30 L1253.5 1087.30 L1255.0 1087.30 L1256.5 1087.30 L1258.0 1087.30 L1259.5 1087.30 L1261.0 1087.42 L1262.5 1087.59 L1263.8 1087.75 L1263.75 1091.0 Z" fill="url(#tg)"/><path d="M1219.0 1097.35 L1220.5 1096.79 L1222.0 1096.20 L1223.5 1095.59 L1225.0 1094.95 L1226.5 1094.31 L1228.0 1093.65 L1229.5 1092.99 L1231.0 1092.35 L1232.5 1091.71 L1234.0 1091.10 L1235.5 1090.51 L1237.0 1089.95 L1238.5 1089.44 L1240.0 1088.96 L1241.5 1088.54 L1243.0 1088.17 L1244.5 1087.86 L1246.0 1087.61 L1247.5 1087.42 L1249.0 1087.30 L1250.5 1087.30 L1252.0 1087.30 L1253.5 1087.30 L1255.0 1087.30 L1256.5 1087.30 L1258.0 1087.30 L1259.5 1087.30 L1261.0 1087.42 L1262.5 1087.59 L1263.8 1087.75" fill="none" stroke="#000" stroke-width="2.4" stroke-linejoin="round"/><path d="M1267.5 1091.0 L1267.5 1087.78 L1269.0 1087.61 L1270.5 1087.45 L1272.0 1087.40 L1273.5 1087.40 L1275.0 1087.40 L1276.5 1087.40 L1278.0 1087.40 L1279.5 1087.40 L1281.0 1087.40 L1282.5 1087.40 L1284.0 1087.40 L1285.5 1087.40 L1287.0 1087.40 L1288.5 1087.40 L1290.0 1087.40 L1291.5 1087.40 L1293.0 1087.40 L1294.5 1087.40 L1296.0 1087.40 L1297.5 1087.40 L1299.0 1087.40 L1300.5 1087.52 L1302.0 1087.66 L1303.5 1087.81 L1305.0 1087.97 L1306.5 1088.14 L1308.0 1088.31 L1309.5 1088.50 L1311.0 1088.69 L1312.5 1088.88 L1314.0 1089.09 L1315.5 1089.30 L1317.0 1089.52 L1318.5 1089.74 L1320.0 1089.97 L1321.5 1090.21 L1323.0 1090.45 L1324.5 1090.70 L1326.0 1090.95 L1327.5 1091.20 L1329.0 1091.46 L1330.5 1091.72 L1332.0 1091.99 L1333.5 1092.25 L1335.0 1092.52 L1336.5 1092.80 L1338.0 1093.07 L1339.5 1093.34 L1341.0 1093.62 L1342.5 1093.89 L1344.0 1094.17 L1345.5 1094.44 L1347.0 1094.71 L1348.5 1094.99 L1350.0 1095.26 L1351.5 1095.52 L1353.0 1095.79 L1354.5 1096.05 L1356.0 1096.31 L1357.5 1096.57 L1359.0 1096.82 L1360.5 1097.07 L1362.0 1097.31 L1363.5 1097.55 L1365.0 1097.78 L1366.5 1098.01 L1368.0 1098.23 L1369.5 1098.44 L1371.0 1098.65 L1372.5 1098.85 L1374.0 1099.04 L1375.5 1099.23 L1377.0 1099.40 L1378.5 1099.57 L1380.0 1099.74 L1381.5 1099.89 L1383.0 1100.03 L1384.5 1100.17 L1386.0 1100.20 L1387.5 1100.20 L1389.0 1100.20 L1390.5 1100.20 L1392.0 1100.20 L1393.5 1100.20 L1395.0 1100.20 L1396.5 1100.20 L1398.0 1100.20 L1399.5 1100.20 L1401.0 1100.20 L1402.5 1100.20 L1404.0 1100.20 L1405.5 1100.20 L1407.0 1100.20 L1408.5 1100.20 L1410.0 1100.20 L1411.5 1100.20 L1413.0 1100.20 L1414.5 1100.20 L1416.0 1100.20 L1417.5 1100.20 L1419.0 1100.20 L1420.5 1100.20 L1422.0 1100.20 L1423.5 1100.20 L1425.0 1100.20 L1426.5 1100.20 L1428.0 1100.20 L1429.5 1100.20 L1431.0 1100.08 L1432.5 1099.93 L1434.0 1099.77 L1435.5 1099.60 L1437.0 1099.43 L1438.5 1099.25 L1440.0 1099.07 L1441.5 1098.87 L1443.0 1098.67 L1444.5 1098.47 L1446.0 1098.26 L1447.5 1098.04 L1449.0 1097.81 L1450.5 1097.58 L1452.0 1097.35 L1453.5 1097.11 L1455.0 1096.86 L1456.5 1096.61 L1458.0 1096.36 L1459.5 1096.10 L1461.0 1095.83 L1462.5 1095.56 L1464.0 1095.29 L1465.5 1095.02 L1467.0 1094.74 L1468.5 1094.46 L1470.0 1094.17 L1471.5 1093.88 L1473.0 1093.59 L1474.5 1093.30 L1476.0 1093.00 L1477.5 1092.71 L1479.0 1092.41 L1480.5 1092.11 L1482.0 1091.81 L1483.5 1091.51 L1485.0 1091.20 L1486.5 1090.90 L1488.0 1090.60 L1489.5 1090.30 L1491.0 1089.99 L1492.5 1089.69 L1494.0 1089.39 L1495.5 1089.09 L1497.0 1088.79 L1498.5 1088.49 L1500.0 1088.20 L1501.5 1087.91 L1503.0 1087.61 L1504.5 1087.33 L1506.0 1087.04 L1507.5 1086.76 L1509.0 1086.48 L1510.5 1086.20 L1512.0 1085.93 L1513.5 1085.66 L1515.0 1085.39 L1516.5 1085.13 L1518.0 1084.87 L1519.5 1084.62 L1521.0 1084.37 L1522.5 1084.13 L1524.0 1083.89 L1525.5 1083.66 L1527.0 1083.44 L1528.5 1083.22 L1530.0 1083.00 L1531.5 1082.79 L1533.0 1082.59 L1534.5 1082.40 L1536.0 1082.21 L1537.5 1082.03 L1539.0 1081.85 L1540.5 1081.68 L1542.0 1081.52 L1543.5 1081.37 L1545.0 1081.22 L1546.5 1081.20 L1548.0 1081.20 L1549.5 1081.20 L1551.0 1081.20 L1552.5 1081.20 L1554.0 1081.20 L1555.5 1081.20 L1557.0 1081.20 L1558.5 1081.20 L1560.0 1081.20 L1561.5 1081.20 L1563.0 1081.20 L1564.5 1081.20 L1566.0 1081.20 L1567.5 1081.20 L1569.0 1081.20 L1570.5 1081.20 L1572.0 1081.20 L1573.5 1081.20 L1575.0 1081.20 L1576.5 1081.20 L1578.0 1081.20 L1579.5 1081.20 L1581.0 1081.20 L1582.5 1081.20 L1584.0 1081.20 L1585.5 1081.20 L1587.0 1081.20 L1588.5 1081.20 L1590.0 1081.20 L1591.5 1081.20 L1593.0 1081.20 L1594.5 1081.20 L1596.0 1081.33 L1597.5 1081.50 L1599.0 1081.68 L1600.5 1081.86 L1602.0 1082.05 L1603.5 1082.26 L1605.0 1082.46 L1606.5 1082.68 L1608.0 1082.91 L1609.5 1083.14 L1611.0 1083.38 L1612.5 1083.63 L1614.0 1083.88 L1615.5 1084.14 L1617.0 1084.40 L1618.5 1084.68 L1620.0 1084.95 L1621.5 1085.24 L1623.0 1085.53 L1624.5 1085.82 L1626.0 1086.12 L1627.5 1086.42 L1629.0 1086.73 L1630.5 1087.04 L1632.0 1087.35 L1633.5 1087.67 L1635.0 1087.99 L1636.5 1088.32 L1638.0 1088.64 L1639.5 1088.97 L1641.0 1089.30 L1642.5 1089.63 L1644.0 1089.96 L1645.5 1090.29 L1647.0 1090.63 L1648.5 1090.96 L1650.0 1091.29 L1651.5 1091.63 L1653.0 1091.96 L1654.5 1092.29 L1656.0 1092.62 L1657.5 1092.95 L1659.0 1093.28 L1660.5 1093.60 L1662.0 1093.92 L1663.5 1094.24 L1665.0 1094.56 L1666.5 1094.87 L1668.0 1095.18 L1669.5 1095.48 L1671.0 1095.78 L1672.5 1096.08 L1674.0 1096.37 L1675.5 1096.65 L1677.0 1096.93 L1678.5 1097.21 L1680.0 1097.47 L1681.5 1097.74 L1683.0 1097.99 L1684.5 1098.24 L1686.0 1098.48 L1687.5 1098.72 L1689.0 1098.94 L1690.5 1099.16 L1692.0 1099.38 L1693.5 1099.58 L1695.0 1099.78 L1695.5 1099.84 L1695.5 1091.0 Z" fill="url(#tg)"/><path d="M1267.5 1087.78 L1269.0 1087.61 L1270.5 1087.45 L1272.0 1087.40 L1273.5 1087.40 L1275.0 1087.40 L1276.5 1087.40 L1278.0 1087.40 L1279.5 1087.40 L1281.0 1087.40 L1282.5 1087.40 L1284.0 1087.40 L1285.5 1087.40 L1287.0 1087.40 L1288.5 1087.40 L1290.0 1087.40 L1291.5 1087.40 L1293.0 1087.40 L1294.5 1087.40 L1296.0 1087.40 L1297.5 1087.40 L1299.0 1087.40 L1300.5 1087.52 L1302.0 1087.66 L1303.5 1087.81 L1305.0 1087.97 L1306.5 1088.14 L1308.0 1088.31 L1309.5 1088.50 L1311.0 1088.69 L1312.5 1088.88 L1314.0 1089.09 L1315.5 1089.30 L1317.0 1089.52 L1318.5 1089.74 L1320.0 1089.97 L1321.5 1090.21 L1323.0 1090.45 L1324.5 1090.70 L1326.0 1090.95 L1327.5 1091.20 L1329.0 1091.46 L1330.5 1091.72 L1332.0 1091.99 L1333.5 1092.25 L1335.0 1092.52 L1336.5 1092.80 L1338.0 1093.07 L1339.5 1093.34 L1341.0 1093.62 L1342.5 1093.89 L1344.0 1094.17 L1345.5 1094.44 L1347.0 1094.71 L1348.5 1094.99 L1350.0 1095.26 L1351.5 1095.52 L1353.0 1095.79 L1354.5 1096.05 L1356.0 1096.31 L1357.5 1096.57 L1359.0 1096.82 L1360.5 1097.07 L1362.0 1097.31 L1363.5 1097.55 L1365.0 1097.78 L1366.5 1098.01 L1368.0 1098.23 L1369.5 1098.44 L1371.0 1098.65 L1372.5 1098.85 L1374.0 1099.04 L1375.5 1099.23 L1377.0 1099.40 L1378.5 1099.57 L1380.0 1099.74 L1381.5 1099.89 L1383.0 1100.03 L1384.5 1100.17 L1386.0 1100.20 L1387.5 1100.20 L1389.0 1100.20 L1390.5 1100.20 L1392.0 1100.20 L1393.5 1100.20 L1395.0 1100.20 L1396.5 1100.20 L1398.0 1100.20 L1399.5 1100.20 L1401.0 1100.20 L1402.5 1100.20 L1404.0 1100.20 L1405.5 1100.20 L1407.0 1100.20 L1408.5 1100.20 L1410.0 1100.20 L1411.5 1100.20 L1413.0 1100.20 L1414.5 1100.20 L1416.0 1100.20 L1417.5 1100.20 L1419.0 1100.20 L1420.5 1100.20 L1422.0 1100.20 L1423.5 1100.20 L1425.0 1100.20 L1426.5 1100.20 L1428.0 1100.20 L1429.5 1100.20 L1431.0 1100.08 L1432.5 1099.93 L1434.0 1099.77 L1435.5 1099.60 L1437.0 1099.43 L1438.5 1099.25 L1440.0 1099.07 L1441.5 1098.87 L1443.0 1098.67 L1444.5 1098.47 L1446.0 1098.26 L1447.5 1098.04 L1449.0 1097.81 L1450.5 1097.58 L1452.0 1097.35 L1453.5 1097.11 L1455.0 1096.86 L1456.5 1096.61 L1458.0 1096.36 L1459.5 1096.10 L1461.0 1095.83 L1462.5 1095.56 L1464.0 1095.29 L1465.5 1095.02 L1467.0 1094.74 L1468.5 1094.46 L1470.0 1094.17 L1471.5 1093.88 L1473.0 1093.59 L1474.5 1093.30 L1476.0 1093.00 L1477.5 1092.71 L1479.0 1092.41 L1480.5 1092.11 L1482.0 1091.81 L1483.5 1091.51 L1485.0 1091.20 L1486.5 1090.90 L1488.0 1090.60 L1489.5 1090.30 L1491.0 1089.99 L1492.5 1089.69 L1494.0 1089.39 L1495.5 1089.09 L1497.0 1088.79 L1498.5 1088.49 L1500.0 1088.20 L1501.5 1087.91 L1503.0 1087.61 L1504.5 1087.33 L1506.0 1087.04 L1507.5 1086.76 L1509.0 1086.48 L1510.5 1086.20 L1512.0 1085.93 L1513.5 1085.66 L1515.0 1085.39 L1516.5 1085.13 L1518.0 1084.87 L1519.5 1084.62 L1521.0 1084.37 L1522.5 1084.13 L1524.0 1083.89 L1525.5 1083.66 L1527.0 1083.44 L1528.5 1083.22 L1530.0 1083.00 L1531.5 1082.79 L1533.0 1082.59 L1534.5 1082.40 L1536.0 1082.21 L1537.5 1082.03 L1539.0 1081.85 L1540.5 1081.68 L1542.0 1081.52 L1543.5 1081.37 L1545.0 1081.22 L1546.5 1081.20 L1548.0 1081.20 L1549.5 1081.20 L1551.0 1081.20 L1552.5 1081.20 L1554.0 1081.20 L1555.5 1081.20 L1557.0 1081.20 L1558.5 1081.20 L1560.0 1081.20 L1561.5 1081.20 L1563.0 1081.20 L1564.5 1081.20 L1566.0 1081.20 L1567.5 1081.20 L1569.0 1081.20 L1570.5 1081.20 L1572.0 1081.20 L1573.5 1081.20 L1575.0 1081.20 L1576.5 1081.20 L1578.0 1081.20 L1579.5 1081.20 L1581.0 1081.20 L1582.5 1081.20 L1584.0 1081.20 L1585.5 1081.20 L1587.0 1081.20 L1588.5 1081.20 L1590.0 1081.20 L1591.5 1081.20 L1593.0 1081.20 L1594.5 1081.20 L1596.0 1081.33 L1597.5 1081.50 L1599.0 1081.68 L1600.5 1081.86 L1602.0 1082.05 L1603.5 1082.26 L1605.0 1082.46 L1606.5 1082.68 L1608.0 1082.91 L1609.5 1083.14 L1611.0 1083.38 L1612.5 1083.63 L1614.0 1083.88 L1615.5 1084.14 L1617.0 1084.40 L1618.5 1084.68 L1620.0 1084.95 L1621.5 1085.24 L1623.0 1085.53 L1624.5 1085.82 L1626.0 1086.12 L1627.5 1086.42 L1629.0 1086.73 L1630.5 1087.04 L1632.0 1087.35 L1633.5 1087.67 L1635.0 1087.99 L1636.5 1088.32 L1638.0 1088.64 L1639.5 1088.97 L1641.0 1089.30 L1642.5 1089.63 L1644.0 1089.96 L1645.5 1090.29 L1647.0 1090.63 L1648.5 1090.96 L1650.0 1091.29 L1651.5 1091.63 L1653.0 1091.96 L1654.5 1092.29 L1656.0 1092.62 L1657.5 1092.95 L1659.0 1093.28 L1660.5 1093.60 L1662.0 1093.92 L1663.5 1094.24 L1665.0 1094.56 L1666.5 1094.87 L1668.0 1095.18 L1669.5 1095.48 L1671.0 1095.78 L1672.5 1096.08 L1674.0 1096.37 L1675.5 1096.65 L1677.0 1096.93 L1678.5 1097.21 L1680.0 1097.47 L1681.5 1097.74 L1683.0 1097.99 L1684.5 1098.24 L1686.0 1098.48 L1687.5 1098.72 L1689.0 1098.94 L1690.5 1099.16 L1692.0 1099.38 L1693.5 1099.58 L1695.0 1099.78 L1695.5 1099.84" fill="none" stroke="#000" stroke-width="2.4" stroke-linejoin="round"/><path d="M1699.5 1091.0 L1699.5 1101.80 L1701.0 1101.74 L1702.5 1101.53 L1704.0 1101.26 L1705.5 1100.93 L1707.0 1100.54 L1708.5 1100.09 L1710.0 1099.59 L1711.5 1099.05 L1713.0 1098.46 L1714.5 1097.83 L1716.0 1097.17 L1717.5 1096.48 L1719.0 1095.77 L1720.5 1095.04 L1722.0 1094.30 L1723.5 1093.55 L1725.0 1092.80 L1726.5 1092.06 L1728.0 1091.33 L1729.5 1090.62 L1731.0 1089.93 L1732.5 1089.27 L1734.0 1088.64 L1735.5 1088.05 L1737.0 1087.51 L1738.5 1087.01 L1740.0 1086.56 L1741.5 1086.17 L1743.0 1085.84 L1743.8 1085.70 L1743.75 1091.0 Z" fill="url(#tg)"/><path d="M1699.5 1101.80 L1701.0 1101.74 L1702.5 1101.53 L1704.0 1101.26 L1705.5 1100.93 L1707.0 1100.54 L1708.5 1100.09 L1710.0 1099.59 L1711.5 1099.05 L1713.0 1098.46 L1714.5 1097.83 L1716.0 1097.17 L1717.5 1096.48 L1719.0 1095.77 L1720.5 1095.04 L1722.0 1094.30 L1723.5 1093.55 L1725.0 1092.80 L1726.5 1092.06 L1728.0 1091.33 L1729.5 1090.62 L1731.0 1089.93 L1732.5 1089.27 L1734.0 1088.64 L1735.5 1088.05 L1737.0 1087.51 L1738.5 1087.01 L1740.0 1086.56 L1741.5 1086.17 L1743.0 1085.84 L1743.8 1085.70" fill="none" stroke="#000" stroke-width="2.4" stroke-linejoin="round"/><path d="M1747 1091.0 L1747.0 1091.90 L1748.5 1091.49 L1750.0 1091.08 L1751.5 1090.67 L1753.0 1090.26 L1754.5 1089.87 L1756.0 1089.47 L1757.5 1089.09 L1759.0 1088.72 L1760.5 1088.36 L1762.0 1088.01 L1763.5 1087.68 L1765.0 1087.37 L1766.5 1087.08 L1768.0 1086.81 L1769.5 1086.56 L1771.0 1086.33 L1772.5 1086.12 L1774.0 1085.95 L1775.5 1085.79 L1777.0 1085.70 L1778.5 1085.70 L1780.0 1085.70 L1781.5 1085.70 L1783.0 1085.70 L1784.5 1085.70 L1786.0 1085.70 L1787.5 1085.70 L1789.0 1085.70 L1790.5 1085.70 L1792.0 1085.70 L1793.5 1085.70 L1795.0 1085.81 L1796.5 1085.99 L1798.0 1086.19 L1799.5 1086.41 L1801.0 1086.65 L1802.5 1086.90 L1804.0 1087.18 L1805.5 1087.46 L1807.0 1087.77 L1808.5 1088.09 L1810.0 1088.42 L1811.5 1088.76 L1813.0 1089.12 L1814.5 1089.48 L1816.0 1089.86 L1817.5 1090.24 L1819.0 1090.64 L1820.5 1091.04 L1822.0 1091.44 L1823.5 1091.85 L1825.0 1092.26 L1826.5 1092.67 L1828.0 1093.09 L1829.5 1093.50 L1831.0 1093.91 L1832.5 1094.32 L1834.0 1094.73 L1835.5 1095.13 L1837.0 1095.53 L1838.5 1095.91 L1840.0 1096.29 L1841.5 1096.66 L1843.0 1097.02 L1844.5 1097.37 L1846.0 1097.71 L1847.5 1098.03 L1849.0 1098.34 L1850.5 1098.63 L1852.0 1098.91 L1853.5 1099.17 L1855.0 1099.41 L1856.5 1099.63 L1858.0 1099.84 L1859.5 1100.03 L1861.0 1100.19 L1862.5 1100.20 L1864.0 1100.20 L1865.5 1100.20 L1867.0 1100.20 L1868.5 1100.20 L1870.0 1100.20 L1871.5 1100.20 L1873.0 1100.20 L1874.5 1100.20 L1876.0 1100.20 L1877.5 1100.20 L1879.0 1100.20 L1880.5 1100.20 L1882.0 1100.20 L1883.5 1100.20 L1885.0 1100.20 L1886.5 1100.20 L1888.0 1100.15 L1889.5 1099.91 L1891.0 1099.64 L1892.5 1099.35 L1894.0 1099.04 L1895.5 1098.71 L1897.0 1098.37 L1898.5 1098.01 L1900.0 1097.63 L1901.5 1097.23 L1903.0 1096.82 L1904.5 1096.40 L1906.0 1095.96 L1907.5 1095.51 L1909.0 1095.04 L1910.5 1094.57 L1912.0 1094.08 L1913.5 1093.59 L1915.0 1093.09 L1916.5 1092.57 L1918.0 1092.06 L1919.5 1091.53 L1921.0 1091.01 L1922.5 1090.48 L1924.0 1089.94 L1925.5 1089.41 L1927.0 1088.87 L1928.5 1088.34 L1930.0 1087.80 L1931.5 1087.27 L1933.0 1086.74 L1934.5 1086.22 L1936.0 1085.70 L1937.5 1085.18 L1939.0 1084.68 L1940.5 1084.18 L1942.0 1083.69 L1943.5 1083.21 L1945.0 1082.75 L1946.5 1082.29 L1948.0 1081.85 L1949.5 1081.42 L1951.0 1081.00 L1952.5 1080.60 L1954.0 1080.22 L1955.5 1079.85 L1957.0 1079.50 L1958.5 1079.17 L1960.0 1078.85 L1961.5 1078.56 L1963.0 1078.28 L1964.5 1078.03 L1966.0 1077.90 L1967.5 1077.90 L1969.0 1077.90 L1970.5 1077.90 L1972.0 1077.90 L1973.5 1077.90 L1975.0 1077.90 L1976.5 1077.90 L1978.0 1077.90 L1979.5 1077.90 L1981.0 1077.90 L1982.5 1077.90 L1984.0 1077.90 L1985.5 1077.90 L1987.0 1077.90 L1988.5 1077.90 L1990.0 1077.90 L1991.5 1077.90 L1993.0 1077.90 L1994.5 1077.90 L1996.0 1078.00 L1997.5 1078.30 L1999.0 1078.62 L2000.5 1078.97 L2002.0 1079.35 L2003.5 1079.74 L2005.0 1080.17 L2006.5 1080.61 L2008.0 1081.07 L2009.5 1081.56 L2011.0 1082.06 L2012.5 1082.59 L2014.0 1083.13 L2015.5 1083.68 L2017.0 1084.25 L2018.5 1084.84 L2020.0 1085.44 L2021.5 1086.05 L2023.0 1086.66 L2024.5 1087.29 L2026.0 1087.93 L2027.5 1088.57 L2029.0 1089.21 L2030.5 1089.86 L2032.0 1090.51 L2032 1091.0 Z" fill="url(#tg)"/><path d="M1747.0 1091.90 L1748.5 1091.49 L1750.0 1091.08 L1751.5 1090.67 L1753.0 1090.26 L1754.5 1089.87 L1756.0 1089.47 L1757.5 1089.09 L1759.0 1088.72 L1760.5 1088.36 L1762.0 1088.01 L1763.5 1087.68 L1765.0 1087.37 L1766.5 1087.08 L1768.0 1086.81 L1769.5 1086.56 L1771.0 1086.33 L1772.5 1086.12 L1774.0 1085.95 L1775.5 1085.79 L1777.0 1085.70 L1778.5 1085.70 L1780.0 1085.70 L1781.5 1085.70 L1783.0 1085.70 L1784.5 1085.70 L1786.0 1085.70 L1787.5 1085.70 L1789.0 1085.70 L1790.5 1085.70 L1792.0 1085.70 L1793.5 1085.70 L1795.0 1085.81 L1796.5 1085.99 L1798.0 1086.19 L1799.5 1086.41 L1801.0 1086.65 L1802.5 1086.90 L1804.0 1087.18 L1805.5 1087.46 L1807.0 1087.77 L1808.5 1088.09 L1810.0 1088.42 L1811.5 1088.76 L1813.0 1089.12 L1814.5 1089.48 L1816.0 1089.86 L1817.5 1090.24 L1819.0 1090.64 L1820.5 1091.04 L1822.0 1091.44 L1823.5 1091.85 L1825.0 1092.26 L1826.5 1092.67 L1828.0 1093.09 L1829.5 1093.50 L1831.0 1093.91 L1832.5 1094.32 L1834.0 1094.73 L1835.5 1095.13 L1837.0 1095.53 L1838.5 1095.91 L1840.0 1096.29 L1841.5 1096.66 L1843.0 1097.02 L1844.5 1097.37 L1846.0 1097.71 L1847.5 1098.03 L1849.0 1098.34 L1850.5 1098.63 L1852.0 1098.91 L1853.5 1099.17 L1855.0 1099.41 L1856.5 1099.63 L1858.0 1099.84 L1859.5 1100.03 L1861.0 1100.19 L1862.5 1100.20 L1864.0 1100.20 L1865.5 1100.20 L1867.0 1100.20 L1868.5 1100.20 L1870.0 1100.20 L1871.5 1100.20 L1873.0 1100.20 L1874.5 1100.20 L1876.0 1100.20 L1877.5 1100.20 L1879.0 1100.20 L1880.5 1100.20 L1882.0 1100.20 L1883.5 1100.20 L1885.0 1100.20 L1886.5 1100.20 L1888.0 1100.15 L1889.5 1099.91 L1891.0 1099.64 L1892.5 1099.35 L1894.0 1099.04 L1895.5 1098.71 L1897.0 1098.37 L1898.5 1098.01 L1900.0 1097.63 L1901.5 1097.23 L1903.0 1096.82 L1904.5 1096.40 L1906.0 1095.96 L1907.5 1095.51 L1909.0 1095.04 L1910.5 1094.57 L1912.0 1094.08 L1913.5 1093.59 L1915.0 1093.09 L1916.5 1092.57 L1918.0 1092.06 L1919.5 1091.53 L1921.0 1091.01 L1922.5 1090.48 L1924.0 1089.94 L1925.5 1089.41 L1927.0 1088.87 L1928.5 1088.34 L1930.0 1087.80 L1931.5 1087.27 L1933.0 1086.74 L1934.5 1086.22 L1936.0 1085.70 L1937.5 1085.18 L1939.0 1084.68 L1940.5 1084.18 L1942.0 1083.69 L1943.5 1083.21 L1945.0 1082.75 L1946.5 1082.29 L1948.0 1081.85 L1949.5 1081.42 L1951.0 1081.00 L1952.5 1080.60 L1954.0 1080.22 L1955.5 1079.85 L1957.0 1079.50 L1958.5 1079.17 L1960.0 1078.85 L1961.5 1078.56 L1963.0 1078.28 L1964.5 1078.03 L1966.0 1077.90 L1967.5 1077.90 L1969.0 1077.90 L1970.5 1077.90 L1972.0 1077.90 L1973.5 1077.90 L1975.0 1077.90 L1976.5 1077.90 L1978.0 1077.90 L1979.5 1077.90 L1981.0 1077.90 L1982.5 1077.90 L1984.0 1077.90 L1985.5 1077.90 L1987.0 1077.90 L1988.5 1077.90 L1990.0 1077.90 L1991.5 1077.90 L1993.0 1077.90 L1994.5 1077.90 L1996.0 1078.00 L1997.5 1078.30 L1999.0 1078.62 L2000.5 1078.97 L2002.0 1079.35 L2003.5 1079.74 L2005.0 1080.17 L2006.5 1080.61 L2008.0 1081.07 L2009.5 1081.56 L2011.0 1082.06 L2012.5 1082.59 L2014.0 1083.13 L2015.5 1083.68 L2017.0 1084.25 L2018.5 1084.84 L2020.0 1085.44 L2021.5 1086.05 L2023.0 1086.66 L2024.5 1087.29 L2026.0 1087.93 L2027.5 1088.57 L2029.0 1089.21 L2030.5 1089.86 L2032.0 1090.51" fill="none" stroke="#000" stroke-width="2.4" stroke-linejoin="round"/><path d="M2035.25 1091.0 L2035.2 1104.15 L2036.8 1104.23 L2038.2 1104.28 L2039.8 1104.30 L2041.2 1104.21 L2042.8 1103.86 L2044.2 1103.25 L2045.8 1102.41 L2047.2 1101.36 L2048.8 1100.11 L2050.2 1098.72 L2051.8 1097.20 L2053.2 1095.61 L2054.8 1093.98 L2056.2 1092.36 L2057.8 1090.78 L2059.2 1089.30 L2060.8 1087.95 L2062.2 1086.77 L2063.8 1085.78 L2065.2 1085.02 L2066.8 1084.50 L2068.2 1084.23 L2069.8 1084.23 L2071.2 1084.49 L2072.8 1085.00 L2074.2 1085.74 L2075.8 1086.69 L2077.2 1087.81 L2078.8 1089.08 L2080.2 1090.44 L2080.25 1091.0 Z" fill="url(#tg)"/><path d="M2035.2 1104.15 L2036.8 1104.23 L2038.2 1104.28 L2039.8 1104.30 L2041.2 1104.21 L2042.8 1103.86 L2044.2 1103.25 L2045.8 1102.41 L2047.2 1101.36 L2048.8 1100.11 L2050.2 1098.72 L2051.8 1097.20 L2053.2 1095.61 L2054.8 1093.98 L2056.2 1092.36 L2057.8 1090.78 L2059.2 1089.30 L2060.8 1087.95 L2062.2 1086.77 L2063.8 1085.78 L2065.2 1085.02 L2066.8 1084.50 L2068.2 1084.23 L2069.8 1084.23 L2071.2 1084.49 L2072.8 1085.00 L2074.2 1085.74 L2075.8 1086.69 L2077.2 1087.81 L2078.8 1089.08 L2080.2 1090.44" fill="none" stroke="#000" stroke-width="2.4" stroke-linejoin="round"/><path d="M2083.5 1091.0 L2083.5 1084.35 L2085.0 1084.20 L2086.5 1084.20 L2088.0 1084.20 L2089.5 1084.20 L2091.0 1084.20 L2092.5 1084.20 L2094.0 1084.20 L2095.5 1084.20 L2097.0 1084.20 L2098.5 1084.20 L2100.0 1084.20 L2101.5 1084.20 L2103.0 1084.21 L2104.5 1084.41 L2106.0 1084.64 L2107.5 1084.89 L2109.0 1085.16 L2110.5 1085.46 L2112.0 1085.78 L2113.5 1086.12 L2115.0 1086.48 L2116.5 1086.85 L2118.0 1087.24 L2119.5 1087.65 L2121.0 1088.08 L2122.5 1088.52 L2124.0 1088.97 L2125.5 1089.43 L2127.0 1089.91 L2128.5 1090.39 L2130.0 1090.88 L2131.5 1091.37 L2133.0 1091.87 L2134.5 1092.38 L2136.0 1092.88 L2137.5 1093.39 L2139.0 1093.89 L2140.5 1094.39 L2142.0 1094.89 L2143.5 1095.39 L2145.0 1095.87 L2146.5 1096.35 L2148.0 1096.82 L2149.5 1097.28 L2151.0 1097.73 L2152.5 1098.16 L2154.0 1098.58 L2155.5 1098.99 L2157.0 1099.38 L2158.5 1099.75 L2160.0 1100.10 L2161.5 1100.43 L2163.0 1100.74 L2164.5 1101.03 L2166.0 1101.30 L2167.5 1101.54 L2169.0 1101.76 L2170.5 1101.90 L2172.0 1101.90 L2173.5 1101.90 L2175.0 1101.90 L2176.5 1101.90 L2178.0 1101.90 L2179.5 1101.90 L2181.0 1101.90 L2182.5 1101.90 L2184.0 1101.90 L2185.5 1101.90 L2187.0 1101.90 L2188.5 1101.90 L2190.0 1101.90 L2191.5 1101.90 L2193.0 1101.90 L2194.5 1101.90 L2196.0 1101.78 L2197.5 1101.45 L2199.0 1101.10 L2200.5 1100.72 L2202.0 1100.31 L2203.5 1099.87 L2205.0 1099.42 L2206.5 1098.93 L2208.0 1098.43 L2209.5 1097.90 L2211.0 1097.35 L2212.5 1096.78 L2214.0 1096.20 L2215.5 1095.59 L2217.0 1094.97 L2218.5 1094.34 L2220.0 1093.69 L2221.5 1093.03 L2223.0 1092.36 L2224.5 1091.67 L2226.0 1090.99 L2227.5 1090.29 L2229.0 1089.59 L2230.5 1088.88 L2232.0 1088.18 L2233.5 1087.47 L2235.0 1086.76 L2236.5 1086.06 L2238.0 1085.36 L2239.5 1084.66 L2241.0 1083.97 L2242.5 1083.29 L2244.0 1082.62 L2245.5 1081.96 L2247.0 1081.31 L2248.5 1080.67 L2250.0 1080.05 L2251.5 1079.44 L2253.0 1078.86 L2254.5 1078.29 L2256.0 1077.74 L2257.5 1077.21 L2259.0 1076.70 L2260.5 1076.22 L2262.0 1075.76 L2263.5 1075.32 L2265.0 1074.91 L2266.5 1074.53 L2268.0 1074.17 L2269.5 1073.85 L2271.0 1073.70 L2272.5 1073.70 L2274.0 1073.70 L2275.5 1073.70 L2277.0 1073.70 L2278.5 1073.70 L2280.0 1073.70 L2281.5 1073.70 L2283.0 1073.70 L2284.5 1073.70 L2286.0 1073.70 L2287.5 1073.70 L2289.0 1073.70 L2290.5 1073.70 L2292.0 1073.70 L2293.5 1073.70 L2295.0 1073.70 L2296.5 1073.84 L2298.0 1074.20 L2299.5 1074.61 L2301.0 1075.05 L2302.5 1075.53 L2304.0 1076.05 L2305.5 1076.60 L2307.0 1077.18 L2308.5 1077.80 L2310.0 1078.44 L2311.5 1079.11 L2313.0 1079.81 L2314.5 1080.54 L2316.0 1081.29 L2317.5 1082.06 L2319.0 1082.84 L2320.2 1083.51 L2320.25 1091.0 Z" fill="url(#tg)"/><path d="M2083.5 1084.35 L2085.0 1084.20 L2086.5 1084.20 L2088.0 1084.20 L2089.5 1084.20 L2091.0 1084.20 L2092.5 1084.20 L2094.0 1084.20 L2095.5 1084.20 L2097.0 1084.20 L2098.5 1084.20 L2100.0 1084.20 L2101.5 1084.20 L2103.0 1084.21 L2104.5 1084.41 L2106.0 1084.64 L2107.5 1084.89 L2109.0 1085.16 L2110.5 1085.46 L2112.0 1085.78 L2113.5 1086.12 L2115.0 1086.48 L2116.5 1086.85 L2118.0 1087.24 L2119.5 1087.65 L2121.0 1088.08 L2122.5 1088.52 L2124.0 1088.97 L2125.5 1089.43 L2127.0 1089.91 L2128.5 1090.39 L2130.0 1090.88 L2131.5 1091.37 L2133.0 1091.87 L2134.5 1092.38 L2136.0 1092.88 L2137.5 1093.39 L2139.0 1093.89 L2140.5 1094.39 L2142.0 1094.89 L2143.5 1095.39 L2145.0 1095.87 L2146.5 1096.35 L2148.0 1096.82 L2149.5 1097.28 L2151.0 1097.73 L2152.5 1098.16 L2154.0 1098.58 L2155.5 1098.99 L2157.0 1099.38 L2158.5 1099.75 L2160.0 1100.10 L2161.5 1100.43 L2163.0 1100.74 L2164.5 1101.03 L2166.0 1101.30 L2167.5 1101.54 L2169.0 1101.76 L2170.5 1101.90 L2172.0 1101.90 L2173.5 1101.90 L2175.0 1101.90 L2176.5 1101.90 L2178.0 1101.90 L2179.5 1101.90 L2181.0 1101.90 L2182.5 1101.90 L2184.0 1101.90 L2185.5 1101.90 L2187.0 1101.90 L2188.5 1101.90 L2190.0 1101.90 L2191.5 1101.90 L2193.0 1101.90 L2194.5 1101.90 L2196.0 1101.78 L2197.5 1101.45 L2199.0 1101.10 L2200.5 1100.72 L2202.0 1100.31 L2203.5 1099.87 L2205.0 1099.42 L2206.5 1098.93 L2208.0 1098.43 L2209.5 1097.90 L2211.0 1097.35 L2212.5 1096.78 L2214.0 1096.20 L2215.5 1095.59 L2217.0 1094.97 L2218.5 1094.34 L2220.0 1093.69 L2221.5 1093.03 L2223.0 1092.36 L2224.5 1091.67 L2226.0 1090.99 L2227.5 1090.29 L2229.0 1089.59 L2230.5 1088.88 L2232.0 1088.18 L2233.5 1087.47 L2235.0 1086.76 L2236.5 1086.06 L2238.0 1085.36 L2239.5 1084.66 L2241.0 1083.97 L2242.5 1083.29 L2244.0 1082.62 L2245.5 1081.96 L2247.0 1081.31 L2248.5 1080.67 L2250.0 1080.05 L2251.5 1079.44 L2253.0 1078.86 L2254.5 1078.29 L2256.0 1077.74 L2257.5 1077.21 L2259.0 1076.70 L2260.5 1076.22 L2262.0 1075.76 L2263.5 1075.32 L2265.0 1074.91 L2266.5 1074.53 L2268.0 1074.17 L2269.5 1073.85 L2271.0 1073.70 L2272.5 1073.70 L2274.0 1073.70 L2275.5 1073.70 L2277.0 1073.70 L2278.5 1073.70 L2280.0 1073.70 L2281.5 1073.70 L2283.0 1073.70 L2284.5 1073.70 L2286.0 1073.70 L2287.5 1073.70 L2289.0 1073.70 L2290.5 1073.70 L2292.0 1073.70 L2293.5 1073.70 L2295.0 1073.70 L2296.5 1073.84 L2298.0 1074.20 L2299.5 1074.61 L2301.0 1075.05 L2302.5 1075.53 L2304.0 1076.05 L2305.5 1076.60 L2307.0 1077.18 L2308.5 1077.80 L2310.0 1078.44 L2311.5 1079.11 L2313.0 1079.81 L2314.5 1080.54 L2316.0 1081.29 L2317.5 1082.06 L2319.0 1082.84 L2320.2 1083.51" fill="none" stroke="#000" stroke-width="2.4" stroke-linejoin="round"/><path d="M2323.25 1091.0 L2323.2 1107.10 L2324.8 1107.51 L2326.2 1107.79 L2327.8 1107.96 L2329.2 1108.00 L2330.8 1107.79 L2332.2 1107.29 L2333.8 1106.51 L2335.2 1105.45 L2336.8 1104.14 L2338.2 1102.61 L2339.8 1100.90 L2341.2 1099.04 L2342.8 1097.07 L2344.2 1095.03 L2345.8 1092.97 L2347.2 1090.93 L2348.8 1088.96 L2350.2 1087.10 L2351.8 1085.39 L2353.2 1083.86 L2354.8 1082.55 L2356.2 1081.49 L2357.8 1080.71 L2359.2 1080.21 L2360.8 1080.00 L2362.2 1080.13 L2363.8 1080.64 L2365.2 1081.51 L2366.8 1082.70 L2367.8 1083.66 L2367.75 1091.0 Z" fill="url(#tg)"/><path d="M2323.2 1107.10 L2324.8 1107.51 L2326.2 1107.79 L2327.8 1107.96 L2329.2 1108.00 L2330.8 1107.79 L2332.2 1107.29 L2333.8 1106.51 L2335.2 1105.45 L2336.8 1104.14 L2338.2 1102.61 L2339.8 1100.90 L2341.2 1099.04 L2342.8 1097.07 L2344.2 1095.03 L2345.8 1092.97 L2347.2 1090.93 L2348.8 1088.96 L2350.2 1087.10 L2351.8 1085.39 L2353.2 1083.86 L2354.8 1082.55 L2356.2 1081.49 L2357.8 1080.71 L2359.2 1080.21 L2360.8 1080.00 L2362.2 1080.13 L2363.8 1080.64 L2365.2 1081.51 L2366.8 1082.70 L2367.8 1083.66" fill="none" stroke="#000" stroke-width="2.4" stroke-linejoin="round"/><path d="M2371 1091.0 L2371.0 1085.50 L2372.5 1084.81 L2374.0 1084.15 L2375.5 1083.53 L2377.0 1082.94 L2378.5 1082.39 L2380.0 1081.88 L2381.5 1081.42 L2383.0 1081.01 L2384.5 1080.66 L2386.0 1080.36 L2387.5 1080.12 L2389.0 1080.00 L2390.5 1080.00 L2392.0 1080.00 L2393.5 1080.00 L2395.0 1080.00 L2396.5 1080.00 L2398.0 1080.00 L2399.5 1080.00 L2401.0 1080.00 L2402.5 1080.00 L2404.0 1080.00 L2405.5 1080.30 L2407.0 1080.63 L2408.5 1081.00 L2410.0 1081.39 L2411.5 1081.82 L2413.0 1082.28 L2414.5 1082.77 L2416.0 1083.29 L2417.5 1083.83 L2419.0 1084.39 L2420.5 1084.99 L2422.0 1085.60 L2423.5 1086.23 L2425.0 1086.88 L2426.5 1087.55 L2428.0 1088.23 L2429.5 1088.92 L2431.0 1089.63 L2432.5 1090.34 L2434.0 1091.07 L2435.5 1091.79 L2437.0 1092.52 L2438.5 1093.25 L2440.0 1093.99 L2441.5 1094.71 L2443.0 1095.44 L2444.5 1096.15 L2446.0 1096.86 L2447.5 1097.56 L2449.0 1098.24 L2450.5 1098.91 L2452.0 1099.56 L2453.5 1100.20 L2455.0 1100.81 L2456.5 1101.41 L2458.0 1101.98 L2459.5 1102.53 L2461.0 1103.05 L2462.5 1103.54 L2464.0 1104.00 L2465.5 1104.44 L2467.0 1104.84 L2468.5 1105.21 L2470.0 1105.55 L2471.5 1105.85 L2473.0 1105.90 L2474.5 1105.90 L2476.0 1105.90 L2477.5 1105.90 L2479.0 1105.90 L2480.5 1105.90 L2482.0 1105.90 L2483.5 1105.90 L2485.0 1105.90 L2486.5 1105.90 L2488.0 1105.90 L2489.5 1105.90 L2491.0 1105.90 L2492.5 1105.90 L2494.0 1105.90 L2495.5 1105.90 L2497.0 1105.90 L2498.5 1105.51 L2500.0 1105.09 L2501.5 1104.63 L2503.0 1104.14 L2504.5 1103.61 L2506.0 1103.05 L2507.5 1102.46 L2509.0 1101.84 L2510.5 1101.20 L2512.0 1100.52 L2513.5 1099.82 L2515.0 1099.10 L2516.5 1098.35 L2518.0 1097.59 L2519.5 1096.80 L2521.0 1095.99 L2522.5 1095.17 L2524.0 1094.34 L2525.5 1093.49 L2527.0 1092.64 L2528.5 1091.77 L2530.0 1090.90 L2531.5 1090.02 L2533.0 1089.14 L2534.5 1088.26 L2536.0 1087.37 L2537.5 1086.50 L2539.0 1085.62 L2540.5 1084.75 L2542.0 1083.89 L2543.5 1083.04 L2545.0 1082.20 L2546.5 1081.38 L2548.0 1080.57 L2549.5 1079.78 L2551.0 1079.00 L2552.5 1078.25 L2554.0 1077.52 L2555.5 1076.81 L2557.0 1076.12 L2558.5 1075.47 L2560.0 1074.84 L2561.5 1074.24 L2563.0 1073.67 L2564.5 1073.13 L2566.0 1072.63 L2567.5 1072.16 L2569.0 1071.72 L2570.5 1071.33 L2572.0 1071.20 L2573.5 1071.20 L2575.0 1071.20 L2576.5 1071.20 L2578.0 1071.20 L2579.5 1071.20 L2581.0 1071.20 L2582.5 1071.20 L2584.0 1071.20 L2585.5 1071.20 L2587.0 1071.20 L2588.5 1071.20 L2590.0 1071.20 L2591.5 1071.20 L2593.0 1071.20 L2594.5 1071.20 L2596.0 1071.20 L2597.5 1071.20 L2599.0 1071.20 L2600.5 1071.41 L2602.0 1071.83 L2603.5 1072.29 L2605.0 1072.79 L2606.5 1073.32 L2607.8 1073.79 L2607.75 1091.0 Z" fill="url(#tg)"/><path d="M2371.0 1085.50 L2372.5 1084.81 L2374.0 1084.15 L2375.5 1083.53 L2377.0 1082.94 L2378.5 1082.39 L2380.0 1081.88 L2381.5 1081.42 L2383.0 1081.01 L2384.5 1080.66 L2386.0 1080.36 L2387.5 1080.12 L2389.0 1080.00 L2390.5 1080.00 L2392.0 1080.00 L2393.5 1080.00 L2395.0 1080.00 L2396.5 1080.00 L2398.0 1080.00 L2399.5 1080.00 L2401.0 1080.00 L2402.5 1080.00 L2404.0 1080.00 L2405.5 1080.30 L2407.0 1080.63 L2408.5 1081.00 L2410.0 1081.39 L2411.5 1081.82 L2413.0 1082.28 L2414.5 1082.77 L2416.0 1083.29 L2417.5 1083.83 L2419.0 1084.39 L2420.5 1084.99 L2422.0 1085.60 L2423.5 1086.23 L2425.0 1086.88 L2426.5 1087.55 L2428.0 1088.23 L2429.5 1088.92 L2431.0 1089.63 L2432.5 1090.34 L2434.0 1091.07 L2435.5 1091.79 L2437.0 1092.52 L2438.5 1093.25 L2440.0 1093.99 L2441.5 1094.71 L2443.0 1095.44 L2444.5 1096.15 L2446.0 1096.86 L2447.5 1097.56 L2449.0 1098.24 L2450.5 1098.91 L2452.0 1099.56 L2453.5 1100.20 L2455.0 1100.81 L2456.5 1101.41 L2458.0 1101.98 L2459.5 1102.53 L2461.0 1103.05 L2462.5 1103.54 L2464.0 1104.00 L2465.5 1104.44 L2467.0 1104.84 L2468.5 1105.21 L2470.0 1105.55 L2471.5 1105.85 L2473.0 1105.90 L2474.5 1105.90 L2476.0 1105.90 L2477.5 1105.90 L2479.0 1105.90 L2480.5 1105.90 L2482.0 1105.90 L2483.5 1105.90 L2485.0 1105.90 L2486.5 1105.90 L2488.0 1105.90 L2489.5 1105.90 L2491.0 1105.90 L2492.5 1105.90 L2494.0 1105.90 L2495.5 1105.90 L2497.0 1105.90 L2498.5 1105.51 L2500.0 1105.09 L2501.5 1104.63 L2503.0 1104.14 L2504.5 1103.61 L2506.0 1103.05 L2507.5 1102.46 L2509.0 1101.84 L2510.5 1101.20 L2512.0 1100.52 L2513.5 1099.82 L2515.0 1099.10 L2516.5 1098.35 L2518.0 1097.59 L2519.5 1096.80 L2521.0 1095.99 L2522.5 1095.17 L2524.0 1094.34 L2525.5 1093.49 L2527.0 1092.64 L2528.5 1091.77 L2530.0 1090.90 L2531.5 1090.02 L2533.0 1089.14 L2534.5 1088.26 L2536.0 1087.37 L2537.5 1086.50 L2539.0 1085.62 L2540.5 1084.75 L2542.0 1083.89 L2543.5 1083.04 L2545.0 1082.20 L2546.5 1081.38 L2548.0 1080.57 L2549.5 1079.78 L2551.0 1079.00 L2552.5 1078.25 L2554.0 1077.52 L2555.5 1076.81 L2557.0 1076.12 L2558.5 1075.47 L2560.0 1074.84 L2561.5 1074.24 L2563.0 1073.67 L2564.5 1073.13 L2566.0 1072.63 L2567.5 1072.16 L2569.0 1071.72 L2570.5 1071.33 L2572.0 1071.20 L2573.5 1071.20 L2575.0 1071.20 L2576.5 1071.20 L2578.0 1071.20 L2579.5 1071.20 L2581.0 1071.20 L2582.5 1071.20 L2584.0 1071.20 L2585.5 1071.20 L2587.0 1071.20 L2588.5 1071.20 L2590.0 1071.20 L2591.5 1071.20 L2593.0 1071.20 L2594.5 1071.20 L2596.0 1071.20 L2597.5 1071.20 L2599.0 1071.20 L2600.5 1071.41 L2602.0 1071.83 L2603.5 1072.29 L2605.0 1072.79 L2606.5 1073.32 L2607.8 1073.79" fill="none" stroke="#000" stroke-width="2.4" stroke-linejoin="round"/><path d="M2610.25 1091.0 L2610.2 1104.68 L2611.8 1105.67 L2613.2 1106.55 L2614.8 1107.31 L2616.2 1107.94 L2617.8 1108.44 L2618.0 1108.50 L2618 1091.0 Z" fill="url(#tg)"/><path d="M2610.2 1104.68 L2611.8 1105.67 L2613.2 1106.55 L2614.8 1107.31 L2616.2 1107.94 L2617.8 1108.44 L2618.0 1108.50" fill="none" stroke="#000" stroke-width="2.4" stroke-linejoin="round"/></svg>
<div class="t" style="left:517.00px;top:1062px;font-size:18.5px;line-height:18.5px;color:#111;letter-spacing:-0.086px;">13:50</div>
<div class="t" style="left:364.00px;top:1110px;font-size:18.5px;line-height:18.5px;color:#111;letter-spacing:0.164px;">07:25</div>
<div class="t" style="left:666.25px;top:1110px;font-size:18.5px;line-height:18.5px;color:#111;letter-spacing:0.102px;">20:05</div>
<div class="b" style="left:744.5px;top:1060px;width:39.5px;height:30px;overflow:hidden"><div class="t" style="left:0.00px;top:5px;font-size:18.5px;line-height:18.5px;color:#111;letter-spacing:0.039px;">02:25</div></div>
<div class="t" style="left:1029.00px;top:1062px;font-size:18.5px;line-height:18.5px;color:#111;letter-spacing:0.039px;">15:10</div>
<div class="t" style="left:868.75px;top:1108px;font-size:18.5px;line-height:18.5px;color:#111;letter-spacing:-0.023px;">08:25</div>
<div class="t" style="left:1162.50px;top:1108px;font-size:18.5px;line-height:18.5px;color:#111;letter-spacing:0.039px;">21:40</div>
<div class="b" style="left:1224.5px;top:1062.5px;width:39.25px;height:30px;overflow:hidden"><div class="t" style="left:0.00px;top:5px;font-size:18.5px;line-height:18.5px;color:#111;letter-spacing:0.039px;">04:10</div></div>
<div class="t" style="left:1272.50px;top:1068px;font-size:18.5px;line-height:18.5px;color:#111;letter-spacing:0.039px;">04:10</div>
<div class="t" style="left:1382.50px;top:1108px;font-size:18.5px;line-height:18.5px;color:#111;letter-spacing:0.039px;">09:50</div>
<div class="t" style="left:1550.75px;top:1061px;font-size:18.5px;line-height:18.5px;color:#111;letter-spacing:0.102px;">16:55</div>
<div class="b" style="left:1704.5px;top:1060.5px;width:39.25px;height:30px;overflow:hidden"><div class="t" style="left:0.00px;top:5px;font-size:18.5px;line-height:18.5px;color:#111;letter-spacing:0.039px;">05:55</div></div>
<div class="b" style="left:1752.5px;top:1060.5px;width:39.25px;height:30px;overflow:hidden"><div class="t" style="left:0.00px;top:5px;font-size:18.5px;line-height:18.5px;color:#111;letter-spacing:0.039px;">05:55</div></div>
<div class="t" style="left:1847.00px;top:1108px;font-size:18.5px;line-height:18.5px;color:#111;letter-spacing:0.261px;">11:20</div>
<div class="t" style="left:1957.50px;top:1058px;font-size:18.5px;line-height:18.5px;color:#111;letter-spacing:-0.211px;">18:15</div>
<div class="b" style="left:2040.25px;top:1058px;width:40.0px;height:30px;overflow:hidden"><div class="t" style="left:0.00px;top:5px;font-size:18.5px;line-height:18.5px;color:#111;letter-spacing:0.102px;">07:05</div></div>
<div class="b" style="left:2040.25px;top:1106.75px;width:40.0px;height:30px;overflow:hidden"><div class="t" style="left:0.00px;top:5px;font-size:18.5px;line-height:18.5px;color:#111;letter-spacing:0.102px;">00:50</div></div>
<div class="t" style="left:2088.50px;top:1063px;font-size:18.5px;line-height:18.5px;color:#111;letter-spacing:0.102px;">07:05</div>
<div class="t" style="left:2155.25px;top:1109px;font-size:18.5px;line-height:18.5px;color:#111;letter-spacing:-0.023px;">12:35</div>
<div class="t" style="left:2261.50px;top:1053px;font-size:18.5px;line-height:18.5px;color:#111;letter-spacing:-0.148px;">19:15</div>
<div class="b" style="left:2328.5px;top:1054.25px;width:39.25px;height:30px;overflow:hidden"><div class="t" style="left:0.00px;top:5px;font-size:18.5px;line-height:18.5px;color:#111;letter-spacing:0.039px;">07:55</div></div>
<div class="b" style="left:2328.5px;top:1110px;width:39.25px;height:30px;overflow:hidden"><div class="t" style="left:0.00px;top:5px;font-size:18.5px;line-height:18.5px;color:#111;letter-spacing:0.039px;">01:40</div></div>
<div class="t" style="left:2376.50px;top:1059px;font-size:18.5px;line-height:18.5px;color:#111;letter-spacing:0.102px;">07:55</div>
<div class="t" style="left:2457.75px;top:1113px;font-size:18.5px;line-height:18.5px;color:#111;letter-spacing:-0.336px;">13:25</div>
<div class="t" style="left:2554.50px;top:1050px;font-size:18.5px;line-height:18.5px;color:#111;letter-spacing:0.039px;">20:05</div>
<div class="t" style="left:2612.00px;top:1049px;font-size:18.5px;line-height:18.5px;color:#111;letter-spacing:-0.086px;">08:40</div>
<div class="t" style="left:2612.00px;top:1113px;font-size:18.5px;line-height:18.5px;color:#111;letter-spacing:-0.086px;">02:25</div>
<div class="b" style="left:256px;top:1143px;width:1647px;height:6.5px;background:#d2d2d2;"></div>
<div class="b" style="left:1903px;top:1148.5px;width:715px;height:1.5px;background:#f0f0f0;"></div>
<div class="b" style="left:101px;top:1151px;width:2px;height:12px;background:#eeeeee;"></div>
<div class="b" style="left:283px;top:1151px;width:2px;height:12px;background:#eeeeee;"></div>
<div class="b" style="left:406.8px;top:1151px;width:2px;height:12px;background:#eeeeee;"></div>
<div class="b" style="left:535px;top:1151px;width:2px;height:12px;background:#eeeeee;"></div>
<div class="b" style="left:678.3px;top:1151px;width:2px;height:12px;background:#eeeeee;"></div>
<div class="b" style="left:829.7px;top:1151px;width:2px;height:12px;background:#eeeeee;"></div>
</div></body></html>
